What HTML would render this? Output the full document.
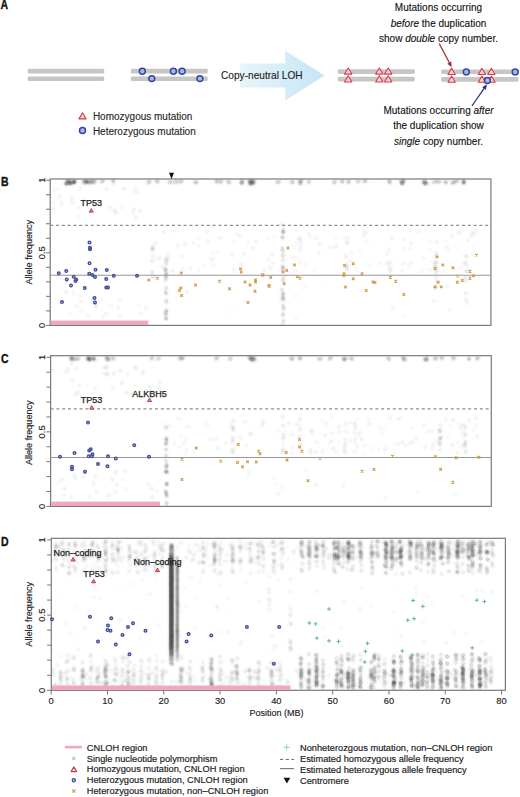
<!DOCTYPE html>
<html><head><meta charset="utf-8"><style>
html,body{margin:0;padding:0;background:#fff;width:520px;height:797px;overflow:hidden;}
svg{display:block;font-family:"Liberation Sans", sans-serif;}
circle[class]{r:1.35px;fill:none;stroke:#444;stroke-width:1px}
.s1{stroke-opacity:0.025}.s2{stroke-opacity:0.050}.s3{stroke-opacity:0.075}.s4{stroke-opacity:0.100}.s5{stroke-opacity:0.125}.s6{stroke-opacity:0.150}.s7{stroke-opacity:0.175}.s8{stroke-opacity:0.200}.s9{stroke-opacity:0.225}.s10{stroke-opacity:0.250}.s11{stroke-opacity:0.275}.s12{stroke-opacity:0.300}.s13{stroke-opacity:0.325}.s14{stroke-opacity:0.350}.s15{stroke-opacity:0.375}.s16{stroke-opacity:0.400}.s17{stroke-opacity:0.425}.s18{stroke-opacity:0.450}.s19{stroke-opacity:0.475}.s20{stroke-opacity:0.500}
</style></head><body>
<svg width="520" height="797" viewBox="0 0 520 797">
<rect width="520" height="797" fill="#fff"/>
<defs><linearGradient id="cg1" x1="0" x2="0" y1="0" y2="1"><stop offset="0" stop-color="#666" stop-opacity="0.3"/><stop offset="0.08" stop-color="#555" stop-opacity="0.55"/><stop offset="0.13" stop-color="#3c3c3c" stop-opacity="0.92"/><stop offset="0.86" stop-color="#404040" stop-opacity="0.9"/><stop offset="1" stop-color="#666" stop-opacity="0.2"/></linearGradient><linearGradient id="cg2" x1="0" x2="0" y1="0" y2="1"><stop offset="0" stop-color="#707070" stop-opacity="0.15"/><stop offset="0.1" stop-color="#707070" stop-opacity="0.72"/><stop offset="0.85" stop-color="#707070" stop-opacity="0.72"/><stop offset="1" stop-color="#707070" stop-opacity="0.15"/></linearGradient></defs>
<g filter="url(#bl)"><circle cx="66.9" cy="183.5" r="1.35" class="s8"/>
<circle cx="67.1" cy="181.8" r="1.35" class="s7"/>
<circle cx="66.5" cy="180.9" r="1.35" class="s9"/>
<circle cx="66.8" cy="182.5" r="1.35" class="s7"/>
<circle cx="66.1" cy="183.9" r="1.35" class="s6"/>
<circle cx="66.7" cy="184.0" r="1.35" class="s9"/>
<circle cx="66.4" cy="183.1" r="1.35" class="s7"/>
<circle cx="67.0" cy="181.7" r="1.35" class="s6"/>
<circle cx="65.6" cy="184.0" r="1.35" class="s11"/>
<circle cx="69.2" cy="180.4" r="1.35" class="s13"/>
<circle cx="68.2" cy="181.1" r="1.35" class="s6"/>
<circle cx="68.8" cy="181.9" r="1.35" class="s12"/>
<circle cx="68.6" cy="181.3" r="1.35" class="s10"/>
<circle cx="69.2" cy="183.0" r="1.35" class="s12"/>
<circle cx="70.3" cy="183.6" r="1.35" class="s7"/>
<circle cx="69.3" cy="183.4" r="1.35" class="s10"/>
<circle cx="70.5" cy="182.3" r="1.35" class="s13"/>
<circle cx="71.2" cy="180.6" r="1.35" class="s7"/>
<circle cx="71.9" cy="181.0" r="1.35" class="s7"/>
<circle cx="69.8" cy="182.4" r="1.35" class="s7"/>
<circle cx="69.9" cy="183.0" r="1.35" class="s6"/>
<circle cx="70.3" cy="184.1" r="1.35" class="s12"/>
<circle cx="73.9" cy="181.8" r="1.35" class="s11"/>
<circle cx="71.8" cy="183.2" r="1.35" class="s9"/>
<circle cx="74.8" cy="181.6" r="1.35" class="s10"/>
<circle cx="74.0" cy="182.0" r="1.35" class="s13"/>
<circle cx="74.0" cy="183.0" r="1.35" class="s10"/>
<circle cx="75.1" cy="180.7" r="1.35" class="s7"/>
<circle cx="74.2" cy="181.0" r="1.35" class="s8"/>
<circle cx="73.4" cy="182.4" r="1.35" class="s10"/>
<circle cx="73.6" cy="182.2" r="1.35" class="s7"/>
<circle cx="73.5" cy="182.6" r="1.35" class="s12"/>
<circle cx="74.5" cy="181.9" r="1.35" class="s11"/>
<circle cx="84.7" cy="183.5" r="1.35" class="s7"/>
<circle cx="84.1" cy="180.5" r="1.35" class="s6"/>
<circle cx="86.1" cy="181.7" r="1.35" class="s5"/>
<circle cx="83.5" cy="181.2" r="1.35" class="s7"/>
<circle cx="82.9" cy="182.6" r="1.35" class="s6"/>
<circle cx="85.0" cy="181.0" r="1.35" class="s8"/>
<circle cx="84.5" cy="181.0" r="1.35" class="s5"/>
<circle cx="84.7" cy="181.3" r="1.35" class="s7"/>
<circle cx="86.4" cy="182.6" r="1.35" class="s8"/>
<circle cx="87.2" cy="181.8" r="1.35" class="s7"/>
<circle cx="86.3" cy="182.1" r="1.35" class="s8"/>
<circle cx="86.7" cy="181.6" r="1.35" class="s8"/>
<circle cx="86.7" cy="180.5" r="1.35" class="s9"/>
<circle cx="86.6" cy="181.8" r="1.35" class="s6"/>
<circle cx="86.1" cy="182.8" r="1.35" class="s7"/>
<circle cx="87.0" cy="181.5" r="1.35" class="s10"/>
<circle cx="90.2" cy="182.6" r="1.35" class="s8"/>
<circle cx="90.2" cy="182.3" r="1.35" class="s6"/>
<circle cx="89.9" cy="181.7" r="1.35" class="s5"/>
<circle cx="88.7" cy="182.7" r="1.35" class="s9"/>
<circle cx="91.7" cy="180.6" r="1.35" class="s6"/>
<circle cx="90.1" cy="181.0" r="1.35" class="s5"/>
<circle cx="89.7" cy="183.0" r="1.35" class="s6"/>
<circle cx="89.9" cy="180.8" r="1.35" class="s7"/>
<circle cx="94.1" cy="182.9" r="1.35" class="s6"/>
<circle cx="93.9" cy="180.7" r="1.35" class="s5"/>
<circle cx="94.3" cy="181.1" r="1.35" class="s8"/>
<circle cx="92.3" cy="181.3" r="1.35" class="s9"/>
<circle cx="96.1" cy="180.7" r="1.35" class="s7"/>
<circle cx="92.6" cy="181.7" r="1.35" class="s7"/>
<circle cx="93.6" cy="182.9" r="1.35" class="s5"/>
<circle cx="92.7" cy="182.9" r="1.35" class="s5"/>
<circle cx="102.7" cy="181.5" r="1.35" class="s3"/>
<circle cx="101.9" cy="181.4" r="1.35" class="s6"/>
<circle cx="101.3" cy="182.2" r="1.35" class="s3"/>
<circle cx="102.7" cy="181.2" r="1.35" class="s6"/>
<circle cx="103.1" cy="180.7" r="1.35" class="s5"/>
<circle cx="113.5" cy="183.0" r="1.35" class="s4"/>
<circle cx="113.2" cy="180.9" r="1.35" class="s7"/>
<circle cx="112.7" cy="180.7" r="1.35" class="s5"/>
<circle cx="113.7" cy="180.6" r="1.35" class="s4"/>
<circle cx="113.3" cy="180.8" r="1.35" class="s6"/>
<circle cx="149.3" cy="181.1" r="1.35" class="s7"/>
<circle cx="150.0" cy="182.8" r="1.35" class="s5"/>
<circle cx="147.6" cy="182.9" r="1.35" class="s6"/>
<circle cx="148.6" cy="182.7" r="1.35" class="s3"/>
<circle cx="149.1" cy="180.9" r="1.35" class="s6"/>
<circle cx="157.1" cy="180.7" r="1.35" class="s4"/>
<circle cx="155.7" cy="181.0" r="1.35" class="s7"/>
<circle cx="157.1" cy="182.3" r="1.35" class="s6"/>
<circle cx="157.9" cy="181.9" r="1.35" class="s6"/>
<circle cx="158.5" cy="180.7" r="1.35" class="s3"/>
<circle cx="169.1" cy="182.9" r="1.35" class="s7"/>
<circle cx="170.1" cy="182.2" r="1.35" class="s5"/>
<circle cx="171.5" cy="180.7" r="1.35" class="s4"/>
<circle cx="170.4" cy="180.9" r="1.35" class="s6"/>
<circle cx="172.0" cy="183.0" r="1.35" class="s5"/>
<circle cx="174.7" cy="182.6" r="1.35" class="s6"/>
<circle cx="175.4" cy="181.8" r="1.35" class="s6"/>
<circle cx="178.3" cy="182.8" r="1.35" class="s6"/>
<circle cx="176.4" cy="180.9" r="1.35" class="s6"/>
<circle cx="177.0" cy="181.0" r="1.35" class="s5"/>
<circle cx="181.7" cy="181.1" r="1.35" class="s4"/>
<circle cx="181.7" cy="181.9" r="1.35" class="s3"/>
<circle cx="180.8" cy="181.9" r="1.35" class="s6"/>
<circle cx="181.7" cy="180.7" r="1.35" class="s6"/>
<circle cx="180.6" cy="181.2" r="1.35" class="s4"/>
<circle cx="195.6" cy="182.2" r="1.35" class="s5"/>
<circle cx="196.4" cy="182.1" r="1.35" class="s6"/>
<circle cx="195.9" cy="183.1" r="1.35" class="s5"/>
<circle cx="194.2" cy="181.9" r="1.35" class="s6"/>
<circle cx="196.9" cy="182.9" r="1.35" class="s4"/>
<circle cx="216.7" cy="181.5" r="1.35" class="s6"/>
<circle cx="216.8" cy="181.1" r="1.35" class="s4"/>
<circle cx="215.1" cy="181.5" r="1.35" class="s5"/>
<circle cx="217.8" cy="182.1" r="1.35" class="s6"/>
<circle cx="217.5" cy="181.0" r="1.35" class="s6"/>
<circle cx="221.5" cy="180.4" r="1.35" class="s4"/>
<circle cx="220.9" cy="182.2" r="1.35" class="s7"/>
<circle cx="220.8" cy="182.1" r="1.35" class="s4"/>
<circle cx="222.1" cy="180.5" r="1.35" class="s4"/>
<circle cx="220.6" cy="181.3" r="1.35" class="s5"/>
<circle cx="228.3" cy="180.8" r="1.35" class="s6"/>
<circle cx="227.9" cy="181.9" r="1.35" class="s7"/>
<circle cx="230.1" cy="182.6" r="1.35" class="s4"/>
<circle cx="228.9" cy="182.4" r="1.35" class="s4"/>
<circle cx="229.0" cy="183.0" r="1.35" class="s4"/>
<circle cx="241.1" cy="183.0" r="1.35" class="s8"/>
<circle cx="242.2" cy="183.2" r="1.35" class="s6"/>
<circle cx="242.8" cy="180.5" r="1.35" class="s8"/>
<circle cx="242.7" cy="182.6" r="1.35" class="s9"/>
<circle cx="242.4" cy="180.6" r="1.35" class="s8"/>
<circle cx="241.8" cy="180.4" r="1.35" class="s6"/>
<circle cx="241.1" cy="182.4" r="1.35" class="s10"/>
<circle cx="241.5" cy="183.5" r="1.35" class="s6"/>
<circle cx="249.9" cy="180.8" r="1.35" class="s9"/>
<circle cx="250.2" cy="182.8" r="1.35" class="s7"/>
<circle cx="251.2" cy="182.9" r="1.35" class="s9"/>
<circle cx="250.9" cy="180.9" r="1.35" class="s7"/>
<circle cx="249.8" cy="183.8" r="1.35" class="s6"/>
<circle cx="251.9" cy="183.9" r="1.35" class="s12"/>
<circle cx="250.2" cy="184.0" r="1.35" class="s12"/>
<circle cx="249.3" cy="180.9" r="1.35" class="s6"/>
<circle cx="249.1" cy="180.5" r="1.35" class="s13"/>
<circle cx="250.9" cy="182.9" r="1.35" class="s9"/>
<circle cx="249.5" cy="183.2" r="1.35" class="s11"/>
<circle cx="253.0" cy="180.5" r="1.35" class="s12"/>
<circle cx="251.6" cy="181.7" r="1.35" class="s7"/>
<circle cx="254.8" cy="181.1" r="1.35" class="s8"/>
<circle cx="253.5" cy="182.1" r="1.35" class="s10"/>
<circle cx="253.3" cy="182.5" r="1.35" class="s7"/>
<circle cx="253.6" cy="183.7" r="1.35" class="s7"/>
<circle cx="253.1" cy="182.9" r="1.35" class="s10"/>
<circle cx="251.1" cy="181.3" r="1.35" class="s11"/>
<circle cx="251.6" cy="182.3" r="1.35" class="s8"/>
<circle cx="252.5" cy="180.8" r="1.35" class="s12"/>
<circle cx="253.4" cy="182.8" r="1.35" class="s7"/>
<circle cx="278.7" cy="182.2" r="1.35" class="s6"/>
<circle cx="277.9" cy="182.6" r="1.35" class="s5"/>
<circle cx="280.0" cy="181.6" r="1.35" class="s4"/>
<circle cx="278.1" cy="181.1" r="1.35" class="s4"/>
<circle cx="276.7" cy="182.4" r="1.35" class="s6"/>
<circle cx="292.1" cy="181.6" r="1.35" class="s4"/>
<circle cx="292.8" cy="182.2" r="1.35" class="s5"/>
<circle cx="290.9" cy="182.5" r="1.35" class="s6"/>
<circle cx="292.2" cy="181.2" r="1.35" class="s4"/>
<circle cx="293.3" cy="182.8" r="1.35" class="s6"/>
<circle cx="300.0" cy="182.0" r="1.35" class="s5"/>
<circle cx="300.1" cy="181.9" r="1.35" class="s8"/>
<circle cx="300.1" cy="183.6" r="1.35" class="s10"/>
<circle cx="301.8" cy="180.6" r="1.35" class="s10"/>
<circle cx="301.3" cy="183.0" r="1.35" class="s6"/>
<circle cx="299.0" cy="180.8" r="1.35" class="s8"/>
<circle cx="301.0" cy="180.4" r="1.35" class="s10"/>
<circle cx="300.4" cy="183.3" r="1.35" class="s6"/>
<circle cx="309.4" cy="182.7" r="1.35" class="s3"/>
<circle cx="308.3" cy="182.0" r="1.35" class="s4"/>
<circle cx="308.9" cy="182.1" r="1.35" class="s4"/>
<circle cx="308.8" cy="181.6" r="1.35" class="s3"/>
<circle cx="308.6" cy="181.3" r="1.35" class="s5"/>
<circle cx="335.0" cy="182.2" r="1.35" class="s6"/>
<circle cx="332.7" cy="181.5" r="1.35" class="s4"/>
<circle cx="334.3" cy="182.3" r="1.35" class="s5"/>
<circle cx="335.5" cy="180.4" r="1.35" class="s5"/>
<circle cx="334.2" cy="183.0" r="1.35" class="s5"/>
<circle cx="342.7" cy="182.0" r="1.35" class="s4"/>
<circle cx="341.4" cy="180.9" r="1.35" class="s4"/>
<circle cx="341.6" cy="181.9" r="1.35" class="s6"/>
<circle cx="342.8" cy="181.0" r="1.35" class="s4"/>
<circle cx="342.8" cy="181.4" r="1.35" class="s7"/>
<circle cx="348.6" cy="180.9" r="1.35" class="s5"/>
<circle cx="349.8" cy="181.5" r="1.35" class="s5"/>
<circle cx="348.6" cy="181.5" r="1.35" class="s4"/>
<circle cx="348.0" cy="182.3" r="1.35" class="s7"/>
<circle cx="348.8" cy="182.8" r="1.35" class="s5"/>
<circle cx="359.4" cy="181.6" r="1.35" class="s5"/>
<circle cx="357.8" cy="182.2" r="1.35" class="s6"/>
<circle cx="356.6" cy="180.8" r="1.35" class="s3"/>
<circle cx="357.6" cy="180.8" r="1.35" class="s4"/>
<circle cx="358.9" cy="180.5" r="1.35" class="s4"/>
<circle cx="364.9" cy="181.5" r="1.35" class="s7"/>
<circle cx="364.3" cy="181.1" r="1.35" class="s4"/>
<circle cx="366.1" cy="180.6" r="1.35" class="s6"/>
<circle cx="363.8" cy="181.9" r="1.35" class="s4"/>
<circle cx="365.5" cy="181.1" r="1.35" class="s4"/>
<circle cx="390.2" cy="183.0" r="1.35" class="s6"/>
<circle cx="389.1" cy="182.3" r="1.35" class="s5"/>
<circle cx="389.7" cy="180.7" r="1.35" class="s7"/>
<circle cx="389.1" cy="181.6" r="1.35" class="s7"/>
<circle cx="389.9" cy="181.6" r="1.35" class="s6"/>
<circle cx="401.0" cy="181.3" r="1.35" class="s8"/>
<circle cx="401.5" cy="183.9" r="1.35" class="s6"/>
<circle cx="404.0" cy="180.5" r="1.35" class="s8"/>
<circle cx="401.9" cy="183.2" r="1.35" class="s13"/>
<circle cx="401.3" cy="182.9" r="1.35" class="s11"/>
<circle cx="403.1" cy="182.7" r="1.35" class="s7"/>
<circle cx="403.3" cy="180.5" r="1.35" class="s11"/>
<circle cx="403.7" cy="181.1" r="1.35" class="s12"/>
<circle cx="402.2" cy="181.6" r="1.35" class="s8"/>
<circle cx="403.0" cy="183.8" r="1.35" class="s12"/>
<circle cx="400.7" cy="180.4" r="1.35" class="s7"/>
<circle cx="424.8" cy="183.5" r="1.35" class="s11"/>
<circle cx="425.0" cy="183.2" r="1.35" class="s13"/>
<circle cx="424.7" cy="182.1" r="1.35" class="s7"/>
<circle cx="422.9" cy="182.3" r="1.35" class="s13"/>
<circle cx="424.7" cy="180.8" r="1.35" class="s7"/>
<circle cx="424.8" cy="180.9" r="1.35" class="s11"/>
<circle cx="424.9" cy="184.0" r="1.35" class="s8"/>
<circle cx="426.3" cy="182.8" r="1.35" class="s8"/>
<circle cx="424.6" cy="182.0" r="1.35" class="s7"/>
<circle cx="426.1" cy="182.8" r="1.35" class="s10"/>
<circle cx="427.5" cy="184.1" r="1.35" class="s8"/>
<circle cx="436.3" cy="181.3" r="1.35" class="s6"/>
<circle cx="433.3" cy="182.5" r="1.35" class="s6"/>
<circle cx="434.5" cy="181.1" r="1.35" class="s5"/>
<circle cx="435.4" cy="182.7" r="1.35" class="s6"/>
<circle cx="432.7" cy="182.2" r="1.35" class="s3"/>
<circle cx="437.5" cy="181.1" r="1.35" class="s3"/>
<circle cx="439.7" cy="182.0" r="1.35" class="s6"/>
<circle cx="440.1" cy="181.6" r="1.35" class="s3"/>
<circle cx="438.5" cy="182.2" r="1.35" class="s7"/>
<circle cx="437.2" cy="180.6" r="1.35" class="s4"/>
<circle cx="445.2" cy="182.0" r="1.35" class="s6"/>
<circle cx="444.4" cy="182.0" r="1.35" class="s5"/>
<circle cx="447.0" cy="180.9" r="1.35" class="s6"/>
<circle cx="446.0" cy="182.8" r="1.35" class="s7"/>
<circle cx="446.1" cy="183.0" r="1.35" class="s4"/>
<circle cx="453.6" cy="180.8" r="1.35" class="s7"/>
<circle cx="452.1" cy="183.0" r="1.35" class="s7"/>
<circle cx="452.3" cy="182.9" r="1.35" class="s6"/>
<circle cx="453.3" cy="182.9" r="1.35" class="s6"/>
<circle cx="454.3" cy="182.6" r="1.35" class="s7"/>
<circle cx="456.8" cy="181.6" r="1.35" class="s7"/>
<circle cx="454.8" cy="181.9" r="1.35" class="s6"/>
<circle cx="458.3" cy="180.4" r="1.35" class="s5"/>
<circle cx="457.0" cy="181.2" r="1.35" class="s4"/>
<circle cx="457.2" cy="180.7" r="1.35" class="s4"/>
<circle cx="464.2" cy="182.6" r="1.35" class="s10"/>
<circle cx="463.3" cy="180.4" r="1.35" class="s8"/>
<circle cx="464.2" cy="181.4" r="1.35" class="s10"/>
<circle cx="464.3" cy="183.2" r="1.35" class="s5"/>
<circle cx="463.9" cy="181.5" r="1.35" class="s10"/>
<circle cx="463.4" cy="183.2" r="1.35" class="s5"/>
<circle cx="462.8" cy="182.6" r="1.35" class="s9"/>
<circle cx="463.4" cy="182.2" r="1.35" class="s10"/>
<circle cx="138.2" cy="191.2" r="1.35" class="s2"/>
<circle cx="71.8" cy="202.3" r="1.35" class="s5"/>
<circle cx="134.2" cy="209.4" r="1.35" class="s4"/>
<circle cx="110.1" cy="206.9" r="1.35" class="s3"/>
<circle cx="116.0" cy="212.8" r="1.35" class="s5"/>
<circle cx="121.3" cy="207.6" r="1.35" class="s2"/>
<circle cx="84.2" cy="200.6" r="1.35" class="s3"/>
<circle cx="71.8" cy="198.0" r="1.35" class="s5"/>
<circle cx="78.4" cy="215.9" r="1.35" class="s2"/>
<circle cx="93.1" cy="209.1" r="1.35" class="s5"/>
<circle cx="54.1" cy="189.7" r="1.35" class="s2"/>
<circle cx="106.7" cy="189.0" r="1.35" class="s3"/>
<circle cx="79.8" cy="189.3" r="1.35" class="s3"/>
<circle cx="94.4" cy="204.5" r="1.35" class="s3"/>
<circle cx="59.5" cy="196.5" r="1.35" class="s4"/>
<circle cx="53.3" cy="202.7" r="1.35" class="s2"/>
<circle cx="135.1" cy="192.3" r="1.35" class="s4"/>
<circle cx="61.7" cy="203.5" r="1.35" class="s5"/>
<circle cx="139.9" cy="211.3" r="1.35" class="s5"/>
<circle cx="53.7" cy="211.8" r="1.35" class="s2"/>
<circle cx="135.7" cy="217.9" r="1.35" class="s5"/>
<circle cx="110.6" cy="209.5" r="1.35" class="s2"/>
<circle cx="135.0" cy="188.8" r="1.35" class="s3"/>
<circle cx="78.7" cy="208.0" r="1.35" class="s3"/>
<circle cx="89.7" cy="202.1" r="1.35" class="s5"/>
<circle cx="132.8" cy="213.0" r="1.35" class="s3"/>
<circle cx="58.0" cy="189.0" r="1.35" class="s2"/>
<circle cx="123.8" cy="188.7" r="1.35" class="s5"/>
<circle cx="53.2" cy="208.0" r="1.35" class="s3"/>
<circle cx="114.3" cy="210.3" r="1.35" class="s4"/>
<circle cx="174.4" cy="230.9" r="1.35" class="s3"/>
<circle cx="449.3" cy="249.5" r="1.35" class="s2"/>
<circle cx="305.3" cy="264.5" r="1.35" class="s2"/>
<circle cx="190.7" cy="268.6" r="1.35" class="s3"/>
<circle cx="296.5" cy="243.1" r="1.35" class="s2"/>
<circle cx="434.4" cy="263.7" r="1.35" class="s2"/>
<circle cx="389.2" cy="268.6" r="1.35" class="s3"/>
<circle cx="473.7" cy="233.8" r="1.35" class="s4"/>
<circle cx="430.8" cy="240.6" r="1.35" class="s2"/>
<circle cx="239.7" cy="235.7" r="1.35" class="s4"/>
<circle cx="380.5" cy="263.1" r="1.35" class="s3"/>
<circle cx="236.3" cy="233.7" r="1.35" class="s2"/>
<circle cx="410.1" cy="230.8" r="1.35" class="s3"/>
<circle cx="256.1" cy="242.1" r="1.35" class="s2"/>
<circle cx="345.2" cy="237.1" r="1.35" class="s2"/>
<circle cx="430.4" cy="261.7" r="1.35" class="s2"/>
<circle cx="232.1" cy="254.6" r="1.35" class="s4"/>
<circle cx="410.1" cy="248.6" r="1.35" class="s3"/>
<circle cx="268.6" cy="259.8" r="1.35" class="s3"/>
<circle cx="159.0" cy="258.3" r="1.35" class="s4"/>
<circle cx="310.0" cy="236.7" r="1.35" class="s2"/>
<circle cx="213.5" cy="265.3" r="1.35" class="s3"/>
<circle cx="248.1" cy="242.7" r="1.35" class="s2"/>
<circle cx="295.3" cy="271.0" r="1.35" class="s3"/>
<circle cx="458.7" cy="233.1" r="1.35" class="s4"/>
<circle cx="451.2" cy="264.1" r="1.35" class="s2"/>
<circle cx="436.7" cy="271.1" r="1.35" class="s3"/>
<circle cx="319.8" cy="244.4" r="1.35" class="s4"/>
<circle cx="347.5" cy="243.6" r="1.35" class="s2"/>
<circle cx="155.7" cy="259.5" r="1.35" class="s2"/>
<circle cx="193.6" cy="242.9" r="1.35" class="s3"/>
<circle cx="429.5" cy="249.9" r="1.35" class="s2"/>
<circle cx="423.4" cy="258.3" r="1.35" class="s3"/>
<circle cx="446.5" cy="247.0" r="1.35" class="s3"/>
<circle cx="168.1" cy="259.2" r="1.35" class="s3"/>
<circle cx="462.7" cy="230.3" r="1.35" class="s3"/>
<circle cx="294.3" cy="247.4" r="1.35" class="s2"/>
<circle cx="418.8" cy="231.8" r="1.35" class="s3"/>
<circle cx="253.1" cy="247.8" r="1.35" class="s4"/>
<circle cx="217.4" cy="251.5" r="1.35" class="s2"/>
<circle cx="351.3" cy="252.9" r="1.35" class="s3"/>
<circle cx="181.5" cy="256.6" r="1.35" class="s3"/>
<circle cx="172.4" cy="270.7" r="1.35" class="s4"/>
<circle cx="411.7" cy="263.0" r="1.35" class="s3"/>
<circle cx="452.1" cy="236.5" r="1.35" class="s3"/>
<circle cx="472.3" cy="232.6" r="1.35" class="s3"/>
<circle cx="471.2" cy="236.0" r="1.35" class="s3"/>
<circle cx="446.3" cy="241.1" r="1.35" class="s2"/>
<circle cx="386.8" cy="263.4" r="1.35" class="s4"/>
<circle cx="365.3" cy="232.3" r="1.35" class="s4"/>
<circle cx="244.4" cy="253.7" r="1.35" class="s3"/>
<circle cx="472.8" cy="253.2" r="1.35" class="s2"/>
<circle cx="318.9" cy="253.3" r="1.35" class="s3"/>
<circle cx="213.0" cy="253.2" r="1.35" class="s2"/>
<circle cx="475.1" cy="231.0" r="1.35" class="s3"/>
<circle cx="207.6" cy="241.5" r="1.35" class="s3"/>
<circle cx="233.5" cy="241.0" r="1.35" class="s2"/>
<circle cx="314.7" cy="270.2" r="1.35" class="s2"/>
<circle cx="207.0" cy="231.8" r="1.35" class="s4"/>
<circle cx="408.4" cy="264.9" r="1.35" class="s2"/>
<circle cx="295.7" cy="258.2" r="1.35" class="s3"/>
<circle cx="391.7" cy="238.2" r="1.35" class="s4"/>
<circle cx="345.3" cy="255.7" r="1.35" class="s3"/>
<circle cx="296.2" cy="230.5" r="1.35" class="s2"/>
<circle cx="308.8" cy="233.4" r="1.35" class="s3"/>
<circle cx="212.7" cy="258.8" r="1.35" class="s3"/>
<circle cx="367.0" cy="241.0" r="1.35" class="s2"/>
<circle cx="369.2" cy="264.7" r="1.35" class="s2"/>
<circle cx="162.1" cy="266.5" r="1.35" class="s3"/>
<circle cx="403.1" cy="263.2" r="1.35" class="s3"/>
<circle cx="463.8" cy="263.9" r="1.35" class="s3"/>
<circle cx="460.4" cy="268.1" r="1.35" class="s3"/>
<circle cx="168.6" cy="254.8" r="1.35" class="s3"/>
<circle cx="155.6" cy="243.2" r="1.35" class="s4"/>
<circle cx="356.2" cy="269.1" r="1.35" class="s3"/>
<circle cx="211.3" cy="260.0" r="1.35" class="s2"/>
<circle cx="436.9" cy="242.4" r="1.35" class="s4"/>
<circle cx="165.7" cy="261.2" r="1.35" class="s2"/>
<circle cx="434.8" cy="264.3" r="1.35" class="s3"/>
<circle cx="335.8" cy="239.2" r="1.35" class="s2"/>
<circle cx="199.0" cy="246.5" r="1.35" class="s2"/>
<circle cx="359.3" cy="250.7" r="1.35" class="s2"/>
<circle cx="264.3" cy="270.0" r="1.35" class="s4"/>
<circle cx="473.1" cy="245.2" r="1.35" class="s2"/>
<circle cx="203.7" cy="266.1" r="1.35" class="s2"/>
<circle cx="198.5" cy="270.1" r="1.35" class="s2"/>
<circle cx="334.9" cy="247.4" r="1.35" class="s2"/>
<circle cx="272.8" cy="263.1" r="1.35" class="s3"/>
<circle cx="433.1" cy="230.7" r="1.35" class="s2"/>
<circle cx="292.6" cy="257.0" r="1.35" class="s3"/>
<circle cx="241.1" cy="264.2" r="1.35" class="s4"/>
<circle cx="364.2" cy="235.6" r="1.35" class="s3"/>
<circle cx="350.5" cy="260.9" r="1.35" class="s3"/>
<circle cx="335.9" cy="246.1" r="1.35" class="s4"/>
<circle cx="455.4" cy="270.0" r="1.35" class="s2"/>
<circle cx="219.8" cy="238.1" r="1.35" class="s3"/>
<circle cx="468.2" cy="240.0" r="1.35" class="s3"/>
<circle cx="329.9" cy="247.5" r="1.35" class="s3"/>
<circle cx="272.4" cy="254.6" r="1.35" class="s4"/>
<circle cx="402.2" cy="270.4" r="1.35" class="s3"/>
<circle cx="199.3" cy="238.5" r="1.35" class="s2"/>
<circle cx="404.1" cy="239.4" r="1.35" class="s3"/>
<circle cx="456.0" cy="247.7" r="1.35" class="s2"/>
<circle cx="442.9" cy="271.1" r="1.35" class="s2"/>
<circle cx="421.5" cy="270.9" r="1.35" class="s2"/>
<circle cx="268.2" cy="238.1" r="1.35" class="s2"/>
<circle cx="403.9" cy="248.6" r="1.35" class="s2"/>
<circle cx="270.3" cy="268.1" r="1.35" class="s4"/>
<circle cx="255.5" cy="241.2" r="1.35" class="s2"/>
<circle cx="408.7" cy="268.2" r="1.35" class="s2"/>
<circle cx="184.6" cy="244.0" r="1.35" class="s4"/>
<circle cx="429.6" cy="269.9" r="1.35" class="s3"/>
<circle cx="164.3" cy="231.9" r="1.35" class="s4"/>
<circle cx="273.7" cy="237.2" r="1.35" class="s2"/>
<circle cx="183.0" cy="268.5" r="1.35" class="s3"/>
<circle cx="316.6" cy="238.4" r="1.35" class="s3"/>
<circle cx="233.7" cy="269.4" r="1.35" class="s4"/>
<circle cx="387.1" cy="253.7" r="1.35" class="s3"/>
<circle cx="178.0" cy="245.2" r="1.35" class="s4"/>
<circle cx="411.1" cy="243.3" r="1.35" class="s3"/>
<circle cx="66.2" cy="292.0" r="1.35" class="s5"/>
<circle cx="70.5" cy="314.4" r="1.35" class="s2"/>
<circle cx="96.2" cy="307.2" r="1.35" class="s3"/>
<circle cx="79.7" cy="295.9" r="1.35" class="s2"/>
<circle cx="88.0" cy="315.5" r="1.35" class="s3"/>
<circle cx="94.1" cy="303.0" r="1.35" class="s3"/>
<circle cx="73.4" cy="293.3" r="1.35" class="s3"/>
<circle cx="146.0" cy="308.2" r="1.35" class="s3"/>
<circle cx="81.0" cy="312.1" r="1.35" class="s2"/>
<circle cx="111.3" cy="306.0" r="1.35" class="s2"/>
<circle cx="100.6" cy="301.5" r="1.35" class="s2"/>
<circle cx="95.7" cy="297.7" r="1.35" class="s2"/>
<circle cx="118.2" cy="307.5" r="1.35" class="s3"/>
<circle cx="119.9" cy="316.5" r="1.35" class="s3"/>
<circle cx="103.0" cy="316.9" r="1.35" class="s3"/>
<circle cx="95.9" cy="305.6" r="1.35" class="s3"/>
<circle cx="106.2" cy="314.1" r="1.35" class="s4"/>
<circle cx="92.2" cy="299.9" r="1.35" class="s4"/>
<circle cx="119.8" cy="299.7" r="1.35" class="s3"/>
<circle cx="76.5" cy="306.7" r="1.35" class="s3"/>
<circle cx="59.7" cy="299.4" r="1.35" class="s2"/>
<circle cx="81.5" cy="301.2" r="1.35" class="s3"/>
<circle cx="141.3" cy="313.4" r="1.35" class="s3"/>
<circle cx="139.0" cy="305.5" r="1.35" class="s2"/>
<circle cx="304.9" cy="287.0" r="1.35" class="s2"/>
<circle cx="467.1" cy="303.1" r="1.35" class="s3"/>
<circle cx="295.9" cy="296.0" r="1.35" class="s2"/>
<circle cx="231.7" cy="311.8" r="1.35" class="s2"/>
<circle cx="434.1" cy="301.3" r="1.35" class="s3"/>
<circle cx="447.2" cy="286.7" r="1.35" class="s3"/>
<circle cx="174.7" cy="296.7" r="1.35" class="s1"/>
<circle cx="358.8" cy="288.5" r="1.35" class="s1"/>
<circle cx="392.9" cy="308.4" r="1.35" class="s3"/>
<circle cx="449.9" cy="309.7" r="1.35" class="s3"/>
<circle cx="245.2" cy="300.5" r="1.35" class="s2"/>
<circle cx="281.2" cy="300.6" r="1.35" class="s2"/>
<circle cx="320.8" cy="285.4" r="1.35" class="s1"/>
<circle cx="404.7" cy="315.2" r="1.35" class="s2"/>
<circle cx="187.0" cy="292.4" r="1.35" class="s3"/>
<circle cx="296.3" cy="319.3" r="1.35" class="s2"/>
<circle cx="152.8" cy="249.7" r="1.35" class="s6"/>
<circle cx="152.8" cy="276.9" r="1.35" class="s6"/>
<circle cx="152.5" cy="247.9" r="1.35" class="s4"/>
<circle cx="151.9" cy="272.6" r="1.35" class="s6"/>
<circle cx="152.1" cy="260.8" r="1.35" class="s6"/>
<circle cx="152.2" cy="249.4" r="1.35" class="s7"/>
<circle cx="152.9" cy="246.6" r="1.35" class="s7"/>
<circle cx="152.6" cy="255.8" r="1.35" class="s5"/>
<circle cx="152.9" cy="276.9" r="1.35" class="s4"/>
<circle cx="152.5" cy="272.0" r="1.35" class="s4"/>
<circle cx="166.6" cy="274.3" r="1.35" class="s10"/>
<circle cx="166.1" cy="261.2" r="1.35" class="s7"/>
<circle cx="165.8" cy="272.4" r="1.35" class="s7"/>
<circle cx="166.4" cy="264.1" r="1.35" class="s8"/>
<circle cx="166.5" cy="258.9" r="1.35" class="s9"/>
<circle cx="166.2" cy="277.3" r="1.35" class="s6"/>
<circle cx="166.5" cy="302.6" r="1.35" class="s7"/>
<circle cx="166.1" cy="293.5" r="1.35" class="s7"/>
<circle cx="165.3" cy="269.1" r="1.35" class="s9"/>
<circle cx="166.2" cy="314.8" r="1.35" class="s8"/>
<circle cx="166.0" cy="274.5" r="1.35" class="s11"/>
<circle cx="165.8" cy="312.5" r="1.35" class="s8"/>
<circle cx="165.7" cy="269.3" r="1.35" class="s8"/>
<circle cx="166.2" cy="310.7" r="1.35" class="s9"/>
<circle cx="166.3" cy="300.3" r="1.35" class="s9"/>
<circle cx="165.6" cy="270.6" r="1.35" class="s9"/>
<circle cx="165.8" cy="277.2" r="1.35" class="s12"/>
<circle cx="166.2" cy="318.6" r="1.35" class="s12"/>
<circle cx="165.7" cy="280.4" r="1.35" class="s8"/>
<circle cx="165.9" cy="318.6" r="1.35" class="s11"/>
<circle cx="166.1" cy="288.1" r="1.35" class="s10"/>
<circle cx="165.5" cy="313.9" r="1.35" class="s10"/>
<circle cx="166.5" cy="310.7" r="1.35" class="s10"/>
<circle cx="165.8" cy="292.2" r="1.35" class="s11"/>
<circle cx="282.3" cy="248.5" r="1.35" class="s13"/>
<circle cx="283.3" cy="297.4" r="1.35" class="s7"/>
<circle cx="282.9" cy="232.0" r="1.35" class="s7"/>
<circle cx="282.7" cy="266.6" r="1.35" class="s12"/>
<circle cx="283.0" cy="267.3" r="1.35" class="s7"/>
<circle cx="283.5" cy="293.6" r="1.35" class="s8"/>
<circle cx="283.7" cy="300.5" r="1.35" class="s6"/>
<circle cx="283.2" cy="268.6" r="1.35" class="s8"/>
<circle cx="282.8" cy="294.0" r="1.35" class="s6"/>
<circle cx="282.7" cy="315.5" r="1.35" class="s10"/>
<circle cx="282.4" cy="298.3" r="1.35" class="s8"/>
<circle cx="283.4" cy="231.3" r="1.35" class="s10"/>
<circle cx="282.3" cy="237.4" r="1.35" class="s12"/>
<circle cx="283.4" cy="308.9" r="1.35" class="s7"/>
<circle cx="283.0" cy="251.3" r="1.35" class="s9"/>
<circle cx="283.6" cy="276.9" r="1.35" class="s9"/>
<circle cx="283.2" cy="305.5" r="1.35" class="s11"/>
<circle cx="283.2" cy="232.4" r="1.35" class="s11"/>
<circle cx="283.4" cy="321.0" r="1.35" class="s10"/>
<circle cx="282.6" cy="270.2" r="1.35" class="s9"/>
<circle cx="282.5" cy="324.2" r="1.35" class="s7"/>
<circle cx="282.7" cy="255.5" r="1.35" class="s12"/>
<circle cx="282.9" cy="280.0" r="1.35" class="s6"/>
<circle cx="282.7" cy="237.5" r="1.35" class="s6"/>
<circle cx="283.1" cy="260.4" r="1.35" class="s8"/>
<circle cx="282.8" cy="293.8" r="1.35" class="s6"/>
<circle cx="283.2" cy="280.5" r="1.35" class="s8"/>
<circle cx="283.0" cy="229.8" r="1.35" class="s8"/>
<circle cx="282.9" cy="295.5" r="1.35" class="s6"/>
<circle cx="283.6" cy="308.0" r="1.35" class="s7"/>
<circle cx="282.7" cy="225.1" r="1.35" class="s7"/>
<circle cx="283.2" cy="298.4" r="1.35" class="s11"/>
<circle cx="283.3" cy="313.5" r="1.35" class="s8"/>
<circle cx="282.0" cy="289.7" r="1.35" class="s10"/>
<circle cx="436.1" cy="286.4" r="1.35" class="s5"/>
<circle cx="436.7" cy="281.3" r="1.35" class="s4"/>
<circle cx="436.2" cy="262.2" r="1.35" class="s5"/>
<circle cx="435.7" cy="274.5" r="1.35" class="s4"/>
<circle cx="436.3" cy="271.0" r="1.35" class="s6"/>
<circle cx="435.4" cy="266.0" r="1.35" class="s4"/>
<circle cx="436.3" cy="255.3" r="1.35" class="s6"/>
<circle cx="436.0" cy="277.6" r="1.35" class="s4"/>
<circle cx="436.2" cy="268.1" r="1.35" class="s5"/>
<circle cx="435.4" cy="288.0" r="1.35" class="s5"/>
<circle cx="436.3" cy="262.2" r="1.35" class="s6"/>
<circle cx="436.3" cy="267.5" r="1.35" class="s4"/>
<circle cx="436.1" cy="253.2" r="1.35" class="s5"/>
<circle cx="435.3" cy="287.4" r="1.35" class="s5"/>
<circle cx="299.8" cy="238.2" r="1.35" class="s3"/>
<circle cx="300.9" cy="242.7" r="1.35" class="s4"/>
<circle cx="299.3" cy="238.5" r="1.35" class="s3"/>
<circle cx="300.5" cy="245.8" r="1.35" class="s2"/>
<circle cx="300.3" cy="248.0" r="1.35" class="s3"/>
<circle cx="299.5" cy="251.2" r="1.35" class="s2"/>
<circle cx="299.9" cy="239.4" r="1.35" class="s4"/>
<circle cx="300.1" cy="262.6" r="1.35" class="s3"/>
<circle cx="347.8" cy="238.3" r="1.35" class="s3"/>
<circle cx="347.1" cy="264.9" r="1.35" class="s4"/>
<circle cx="346.4" cy="267.2" r="1.35" class="s4"/>
<circle cx="347.3" cy="267.3" r="1.35" class="s2"/>
<circle cx="346.4" cy="264.8" r="1.35" class="s3"/>
<circle cx="346.9" cy="257.4" r="1.35" class="s3"/>
<circle cx="346.9" cy="269.7" r="1.35" class="s3"/>
<circle cx="346.5" cy="242.5" r="1.35" class="s4"/>
<circle cx="346.8" cy="268.7" r="1.35" class="s3"/>
<circle cx="347.1" cy="241.7" r="1.35" class="s3"/>
<circle cx="390.0" cy="266.0" r="1.35" class="s2"/>
<circle cx="390.9" cy="262.4" r="1.35" class="s3"/>
<circle cx="389.4" cy="249.4" r="1.35" class="s3"/>
<circle cx="390.3" cy="269.8" r="1.35" class="s4"/>
<circle cx="390.3" cy="270.7" r="1.35" class="s4"/>
<circle cx="389.4" cy="263.9" r="1.35" class="s3"/>
<circle cx="465.7" cy="280.7" r="1.35" class="s5"/>
<circle cx="465.1" cy="262.9" r="1.35" class="s4"/>
<circle cx="465.4" cy="278.4" r="1.35" class="s3"/>
<circle cx="465.9" cy="299.4" r="1.35" class="s4"/>
<circle cx="466.6" cy="271.5" r="1.35" class="s6"/>
<circle cx="466.5" cy="256.4" r="1.35" class="s5"/>
<circle cx="465.7" cy="256.7" r="1.35" class="s4"/>
<circle cx="465.4" cy="277.7" r="1.35" class="s4"/>
<circle cx="466.5" cy="271.5" r="1.35" class="s6"/>
<circle cx="466.3" cy="265.5" r="1.35" class="s4"/>
<circle cx="465.9" cy="261.8" r="1.35" class="s3"/>
<circle cx="465.8" cy="293.2" r="1.35" class="s6"/>
<circle cx="72.1" cy="359.2" r="1.35" class="s5"/>
<circle cx="72.1" cy="357.3" r="1.35" class="s6"/>
<circle cx="71.6" cy="359.5" r="1.35" class="s5"/>
<circle cx="70.8" cy="359.1" r="1.35" class="s8"/>
<circle cx="71.1" cy="358.6" r="1.35" class="s6"/>
<circle cx="71.0" cy="358.1" r="1.35" class="s6"/>
<circle cx="72.0" cy="358.4" r="1.35" class="s9"/>
<circle cx="71.2" cy="357.4" r="1.35" class="s9"/>
<circle cx="75.8" cy="359.6" r="1.35" class="s5"/>
<circle cx="73.8" cy="359.2" r="1.35" class="s7"/>
<circle cx="73.5" cy="359.7" r="1.35" class="s6"/>
<circle cx="74.6" cy="358.5" r="1.35" class="s5"/>
<circle cx="74.1" cy="358.5" r="1.35" class="s5"/>
<circle cx="75.9" cy="358.5" r="1.35" class="s3"/>
<circle cx="79.2" cy="358.8" r="1.35" class="s6"/>
<circle cx="77.1" cy="359.3" r="1.35" class="s5"/>
<circle cx="77.8" cy="358.6" r="1.35" class="s6"/>
<circle cx="78.2" cy="358.6" r="1.35" class="s4"/>
<circle cx="89.1" cy="358.7" r="1.35" class="s10"/>
<circle cx="89.5" cy="358.4" r="1.35" class="s11"/>
<circle cx="88.4" cy="357.8" r="1.35" class="s10"/>
<circle cx="90.0" cy="357.9" r="1.35" class="s7"/>
<circle cx="87.9" cy="359.0" r="1.35" class="s7"/>
<circle cx="89.8" cy="359.2" r="1.35" class="s11"/>
<circle cx="89.3" cy="360.3" r="1.35" class="s8"/>
<circle cx="89.7" cy="359.2" r="1.35" class="s9"/>
<circle cx="88.3" cy="357.7" r="1.35" class="s11"/>
<circle cx="89.1" cy="359.6" r="1.35" class="s13"/>
<circle cx="87.3" cy="359.0" r="1.35" class="s13"/>
<circle cx="93.8" cy="357.6" r="1.35" class="s6"/>
<circle cx="93.9" cy="358.9" r="1.35" class="s9"/>
<circle cx="92.8" cy="357.8" r="1.35" class="s5"/>
<circle cx="95.2" cy="360.1" r="1.35" class="s6"/>
<circle cx="94.0" cy="358.7" r="1.35" class="s7"/>
<circle cx="91.9" cy="359.9" r="1.35" class="s8"/>
<circle cx="93.9" cy="358.6" r="1.35" class="s10"/>
<circle cx="93.0" cy="358.6" r="1.35" class="s8"/>
<circle cx="107.3" cy="357.9" r="1.35" class="s9"/>
<circle cx="106.8" cy="359.3" r="1.35" class="s9"/>
<circle cx="107.3" cy="360.0" r="1.35" class="s10"/>
<circle cx="109.6" cy="360.0" r="1.35" class="s9"/>
<circle cx="107.8" cy="357.1" r="1.35" class="s8"/>
<circle cx="107.7" cy="358.0" r="1.35" class="s5"/>
<circle cx="109.0" cy="359.0" r="1.35" class="s8"/>
<circle cx="106.0" cy="357.3" r="1.35" class="s9"/>
<circle cx="112.8" cy="357.1" r="1.35" class="s6"/>
<circle cx="113.9" cy="358.7" r="1.35" class="s4"/>
<circle cx="113.6" cy="359.1" r="1.35" class="s4"/>
<circle cx="113.7" cy="359.0" r="1.35" class="s5"/>
<circle cx="112.3" cy="358.0" r="1.35" class="s4"/>
<circle cx="152.1" cy="358.4" r="1.35" class="s5"/>
<circle cx="152.1" cy="357.9" r="1.35" class="s4"/>
<circle cx="150.2" cy="359.2" r="1.35" class="s4"/>
<circle cx="152.5" cy="358.7" r="1.35" class="s6"/>
<circle cx="152.1" cy="357.3" r="1.35" class="s4"/>
<circle cx="157.1" cy="359.2" r="1.35" class="s4"/>
<circle cx="158.2" cy="358.7" r="1.35" class="s4"/>
<circle cx="158.4" cy="357.2" r="1.35" class="s3"/>
<circle cx="158.6" cy="359.1" r="1.35" class="s3"/>
<circle cx="159.7" cy="358.5" r="1.35" class="s5"/>
<circle cx="179.6" cy="357.3" r="1.35" class="s4"/>
<circle cx="179.8" cy="359.4" r="1.35" class="s6"/>
<circle cx="181.4" cy="358.1" r="1.35" class="s4"/>
<circle cx="181.9" cy="358.2" r="1.35" class="s5"/>
<circle cx="179.7" cy="357.8" r="1.35" class="s7"/>
<circle cx="181.3" cy="358.1" r="1.35" class="s6"/>
<circle cx="182.1" cy="359.0" r="1.35" class="s6"/>
<circle cx="183.7" cy="357.3" r="1.35" class="s3"/>
<circle cx="182.5" cy="358.3" r="1.35" class="s7"/>
<circle cx="183.7" cy="357.9" r="1.35" class="s4"/>
<circle cx="216.2" cy="358.2" r="1.35" class="s5"/>
<circle cx="217.4" cy="357.4" r="1.35" class="s6"/>
<circle cx="215.9" cy="358.3" r="1.35" class="s4"/>
<circle cx="215.8" cy="359.1" r="1.35" class="s7"/>
<circle cx="218.2" cy="357.4" r="1.35" class="s4"/>
<circle cx="229.0" cy="359.0" r="1.35" class="s3"/>
<circle cx="229.8" cy="359.3" r="1.35" class="s3"/>
<circle cx="231.0" cy="357.8" r="1.35" class="s6"/>
<circle cx="230.9" cy="359.1" r="1.35" class="s5"/>
<circle cx="230.0" cy="359.1" r="1.35" class="s4"/>
<circle cx="250.9" cy="359.4" r="1.35" class="s11"/>
<circle cx="250.4" cy="357.3" r="1.35" class="s8"/>
<circle cx="250.0" cy="357.4" r="1.35" class="s9"/>
<circle cx="252.8" cy="360.8" r="1.35" class="s6"/>
<circle cx="251.4" cy="359.1" r="1.35" class="s9"/>
<circle cx="250.9" cy="359.6" r="1.35" class="s8"/>
<circle cx="249.0" cy="357.7" r="1.35" class="s12"/>
<circle cx="251.4" cy="357.5" r="1.35" class="s7"/>
<circle cx="251.2" cy="358.2" r="1.35" class="s9"/>
<circle cx="252.2" cy="357.3" r="1.35" class="s8"/>
<circle cx="251.5" cy="359.5" r="1.35" class="s10"/>
<circle cx="254.0" cy="358.6" r="1.35" class="s5"/>
<circle cx="254.0" cy="359.3" r="1.35" class="s7"/>
<circle cx="253.5" cy="359.9" r="1.35" class="s5"/>
<circle cx="253.8" cy="360.1" r="1.35" class="s8"/>
<circle cx="254.2" cy="358.2" r="1.35" class="s5"/>
<circle cx="254.7" cy="357.5" r="1.35" class="s7"/>
<circle cx="253.4" cy="358.3" r="1.35" class="s9"/>
<circle cx="255.6" cy="359.9" r="1.35" class="s5"/>
<circle cx="292.1" cy="358.9" r="1.35" class="s6"/>
<circle cx="291.6" cy="358.4" r="1.35" class="s6"/>
<circle cx="289.5" cy="358.7" r="1.35" class="s5"/>
<circle cx="292.3" cy="358.5" r="1.35" class="s5"/>
<circle cx="292.4" cy="359.1" r="1.35" class="s7"/>
<circle cx="299.8" cy="358.5" r="1.35" class="s6"/>
<circle cx="300.7" cy="357.9" r="1.35" class="s7"/>
<circle cx="300.0" cy="358.7" r="1.35" class="s3"/>
<circle cx="299.5" cy="358.8" r="1.35" class="s7"/>
<circle cx="299.9" cy="357.5" r="1.35" class="s5"/>
<circle cx="318.3" cy="359.0" r="1.35" class="s7"/>
<circle cx="320.6" cy="357.7" r="1.35" class="s4"/>
<circle cx="320.3" cy="358.8" r="1.35" class="s5"/>
<circle cx="321.3" cy="359.0" r="1.35" class="s7"/>
<circle cx="319.3" cy="359.4" r="1.35" class="s3"/>
<circle cx="329.5" cy="359.1" r="1.35" class="s7"/>
<circle cx="331.5" cy="357.7" r="1.35" class="s5"/>
<circle cx="331.3" cy="357.2" r="1.35" class="s5"/>
<circle cx="330.4" cy="357.6" r="1.35" class="s3"/>
<circle cx="329.7" cy="358.8" r="1.35" class="s7"/>
<circle cx="345.5" cy="358.0" r="1.35" class="s6"/>
<circle cx="344.9" cy="359.0" r="1.35" class="s5"/>
<circle cx="344.4" cy="359.5" r="1.35" class="s5"/>
<circle cx="345.0" cy="360.1" r="1.35" class="s8"/>
<circle cx="343.9" cy="359.6" r="1.35" class="s6"/>
<circle cx="343.9" cy="358.4" r="1.35" class="s8"/>
<circle cx="343.3" cy="358.8" r="1.35" class="s9"/>
<circle cx="346.5" cy="358.7" r="1.35" class="s5"/>
<circle cx="351.5" cy="358.8" r="1.35" class="s7"/>
<circle cx="351.6" cy="357.6" r="1.35" class="s4"/>
<circle cx="352.0" cy="358.5" r="1.35" class="s4"/>
<circle cx="353.1" cy="359.5" r="1.35" class="s5"/>
<circle cx="350.1" cy="358.3" r="1.35" class="s6"/>
<circle cx="387.4" cy="357.3" r="1.35" class="s5"/>
<circle cx="389.2" cy="358.6" r="1.35" class="s4"/>
<circle cx="389.0" cy="359.5" r="1.35" class="s7"/>
<circle cx="389.5" cy="359.0" r="1.35" class="s5"/>
<circle cx="387.4" cy="357.8" r="1.35" class="s6"/>
<circle cx="405.8" cy="359.4" r="1.35" class="s6"/>
<circle cx="404.5" cy="360.3" r="1.35" class="s8"/>
<circle cx="403.5" cy="358.8" r="1.35" class="s8"/>
<circle cx="405.3" cy="357.2" r="1.35" class="s6"/>
<circle cx="402.6" cy="357.1" r="1.35" class="s7"/>
<circle cx="403.5" cy="358.9" r="1.35" class="s5"/>
<circle cx="402.8" cy="357.8" r="1.35" class="s6"/>
<circle cx="403.7" cy="359.6" r="1.35" class="s6"/>
<circle cx="427.6" cy="359.8" r="1.35" class="s6"/>
<circle cx="426.8" cy="358.7" r="1.35" class="s9"/>
<circle cx="424.6" cy="359.6" r="1.35" class="s6"/>
<circle cx="426.7" cy="357.3" r="1.35" class="s10"/>
<circle cx="425.5" cy="360.3" r="1.35" class="s8"/>
<circle cx="426.2" cy="359.6" r="1.35" class="s8"/>
<circle cx="426.0" cy="359.8" r="1.35" class="s10"/>
<circle cx="424.7" cy="358.3" r="1.35" class="s7"/>
<circle cx="434.7" cy="358.8" r="1.35" class="s4"/>
<circle cx="434.8" cy="358.3" r="1.35" class="s7"/>
<circle cx="434.3" cy="359.2" r="1.35" class="s4"/>
<circle cx="436.8" cy="358.7" r="1.35" class="s6"/>
<circle cx="436.4" cy="357.5" r="1.35" class="s6"/>
<circle cx="441.6" cy="357.4" r="1.35" class="s6"/>
<circle cx="442.9" cy="357.8" r="1.35" class="s4"/>
<circle cx="442.7" cy="359.3" r="1.35" class="s3"/>
<circle cx="441.5" cy="358.5" r="1.35" class="s6"/>
<circle cx="441.7" cy="357.6" r="1.35" class="s5"/>
<circle cx="452.7" cy="359.5" r="1.35" class="s4"/>
<circle cx="452.6" cy="358.0" r="1.35" class="s6"/>
<circle cx="454.6" cy="358.2" r="1.35" class="s4"/>
<circle cx="453.4" cy="357.3" r="1.35" class="s5"/>
<circle cx="453.8" cy="358.0" r="1.35" class="s6"/>
<circle cx="469.5" cy="358.7" r="1.35" class="s5"/>
<circle cx="468.9" cy="358.8" r="1.35" class="s6"/>
<circle cx="469.3" cy="358.5" r="1.35" class="s4"/>
<circle cx="468.4" cy="359.2" r="1.35" class="s5"/>
<circle cx="469.1" cy="358.6" r="1.35" class="s4"/>
<circle cx="476.9" cy="358.2" r="1.35" class="s7"/>
<circle cx="477.1" cy="358.2" r="1.35" class="s4"/>
<circle cx="477.5" cy="359.2" r="1.35" class="s6"/>
<circle cx="476.8" cy="357.7" r="1.35" class="s3"/>
<circle cx="478.9" cy="357.6" r="1.35" class="s6"/>
<circle cx="135.7" cy="385.7" r="1.35" class="s3"/>
<circle cx="95.0" cy="389.0" r="1.35" class="s4"/>
<circle cx="135.1" cy="367.0" r="1.35" class="s5"/>
<circle cx="71.3" cy="363.0" r="1.35" class="s4"/>
<circle cx="122.1" cy="382.9" r="1.35" class="s4"/>
<circle cx="72.5" cy="380.7" r="1.35" class="s4"/>
<circle cx="53.1" cy="370.7" r="1.35" class="s3"/>
<circle cx="131.4" cy="394.1" r="1.35" class="s6"/>
<circle cx="113.8" cy="373.6" r="1.35" class="s5"/>
<circle cx="138.6" cy="393.7" r="1.35" class="s3"/>
<circle cx="159.8" cy="381.6" r="1.35" class="s4"/>
<circle cx="78.1" cy="392.4" r="1.35" class="s3"/>
<circle cx="126.8" cy="392.6" r="1.35" class="s5"/>
<circle cx="75.8" cy="394.3" r="1.35" class="s5"/>
<circle cx="159.5" cy="388.4" r="1.35" class="s5"/>
<circle cx="76.3" cy="369.0" r="1.35" class="s3"/>
<circle cx="103.9" cy="367.9" r="1.35" class="s5"/>
<circle cx="142.2" cy="373.3" r="1.35" class="s3"/>
<circle cx="67.5" cy="368.8" r="1.35" class="s3"/>
<circle cx="86.6" cy="385.2" r="1.35" class="s2"/>
<circle cx="112.8" cy="388.7" r="1.35" class="s3"/>
<circle cx="120.7" cy="370.7" r="1.35" class="s5"/>
<circle cx="106.6" cy="374.1" r="1.35" class="s5"/>
<circle cx="107.9" cy="374.6" r="1.35" class="s3"/>
<circle cx="64.7" cy="372.3" r="1.35" class="s2"/>
<circle cx="145.7" cy="391.6" r="1.35" class="s5"/>
<circle cx="104.6" cy="373.7" r="1.35" class="s3"/>
<circle cx="67.7" cy="371.5" r="1.35" class="s3"/>
<circle cx="106.9" cy="368.3" r="1.35" class="s4"/>
<circle cx="106.3" cy="366.6" r="1.35" class="s4"/>
<circle cx="149.9" cy="386.9" r="1.35" class="s4"/>
<circle cx="79.4" cy="385.6" r="1.35" class="s3"/>
<circle cx="143.8" cy="371.2" r="1.35" class="s3"/>
<circle cx="136.3" cy="369.0" r="1.35" class="s3"/>
<circle cx="127.6" cy="374.6" r="1.35" class="s3"/>
<circle cx="150.9" cy="390.6" r="1.35" class="s6"/>
<circle cx="339.7" cy="432.0" r="1.35" class="s3"/>
<circle cx="292.0" cy="453.7" r="1.35" class="s2"/>
<circle cx="424.8" cy="447.1" r="1.35" class="s2"/>
<circle cx="410.1" cy="443.6" r="1.35" class="s4"/>
<circle cx="326.2" cy="423.3" r="1.35" class="s3"/>
<circle cx="465.7" cy="451.6" r="1.35" class="s2"/>
<circle cx="368.3" cy="419.1" r="1.35" class="s3"/>
<circle cx="347.2" cy="432.4" r="1.35" class="s2"/>
<circle cx="188.4" cy="426.8" r="1.35" class="s3"/>
<circle cx="297.0" cy="423.7" r="1.35" class="s3"/>
<circle cx="165.2" cy="424.6" r="1.35" class="s2"/>
<circle cx="218.2" cy="448.1" r="1.35" class="s4"/>
<circle cx="311.5" cy="430.4" r="1.35" class="s4"/>
<circle cx="402.8" cy="442.1" r="1.35" class="s4"/>
<circle cx="185.5" cy="439.9" r="1.35" class="s2"/>
<circle cx="469.5" cy="420.4" r="1.35" class="s4"/>
<circle cx="453.3" cy="420.1" r="1.35" class="s4"/>
<circle cx="322.9" cy="451.3" r="1.35" class="s3"/>
<circle cx="473.4" cy="429.7" r="1.35" class="s2"/>
<circle cx="363.2" cy="454.1" r="1.35" class="s2"/>
<circle cx="380.3" cy="427.8" r="1.35" class="s2"/>
<circle cx="357.4" cy="446.5" r="1.35" class="s3"/>
<circle cx="457.9" cy="442.2" r="1.35" class="s2"/>
<circle cx="357.5" cy="419.3" r="1.35" class="s2"/>
<circle cx="332.1" cy="433.1" r="1.35" class="s3"/>
<circle cx="291.7" cy="448.0" r="1.35" class="s3"/>
<circle cx="350.5" cy="440.7" r="1.35" class="s3"/>
<circle cx="331.4" cy="418.2" r="1.35" class="s2"/>
<circle cx="261.3" cy="426.4" r="1.35" class="s2"/>
<circle cx="382.2" cy="434.4" r="1.35" class="s2"/>
<circle cx="370.3" cy="424.5" r="1.35" class="s2"/>
<circle cx="225.8" cy="443.1" r="1.35" class="s3"/>
<circle cx="166.2" cy="444.1" r="1.35" class="s2"/>
<circle cx="245.1" cy="421.8" r="1.35" class="s3"/>
<circle cx="339.0" cy="427.3" r="1.35" class="s4"/>
<circle cx="288.8" cy="422.9" r="1.35" class="s4"/>
<circle cx="325.0" cy="435.2" r="1.35" class="s3"/>
<circle cx="312.6" cy="434.0" r="1.35" class="s2"/>
<circle cx="415.7" cy="438.4" r="1.35" class="s3"/>
<circle cx="180.7" cy="435.5" r="1.35" class="s2"/>
<circle cx="329.2" cy="443.7" r="1.35" class="s2"/>
<circle cx="395.6" cy="443.7" r="1.35" class="s2"/>
<circle cx="435.0" cy="441.1" r="1.35" class="s2"/>
<circle cx="445.9" cy="419.6" r="1.35" class="s3"/>
<circle cx="433.2" cy="444.8" r="1.35" class="s4"/>
<circle cx="316.4" cy="451.8" r="1.35" class="s2"/>
<circle cx="424.6" cy="425.1" r="1.35" class="s3"/>
<circle cx="477.3" cy="436.5" r="1.35" class="s4"/>
<circle cx="378.8" cy="449.3" r="1.35" class="s2"/>
<circle cx="316.7" cy="442.1" r="1.35" class="s3"/>
<circle cx="460.5" cy="424.7" r="1.35" class="s3"/>
<circle cx="359.8" cy="432.8" r="1.35" class="s4"/>
<circle cx="322.3" cy="420.7" r="1.35" class="s3"/>
<circle cx="398.9" cy="443.9" r="1.35" class="s3"/>
<circle cx="310.7" cy="449.6" r="1.35" class="s3"/>
<circle cx="386.2" cy="448.3" r="1.35" class="s2"/>
<circle cx="384.6" cy="449.6" r="1.35" class="s3"/>
<circle cx="462.3" cy="432.6" r="1.35" class="s3"/>
<circle cx="405.3" cy="445.6" r="1.35" class="s3"/>
<circle cx="315.3" cy="452.1" r="1.35" class="s2"/>
<circle cx="262.9" cy="424.2" r="1.35" class="s4"/>
<circle cx="427.8" cy="431.2" r="1.35" class="s3"/>
<circle cx="412.7" cy="441.7" r="1.35" class="s3"/>
<circle cx="464.4" cy="437.6" r="1.35" class="s2"/>
<circle cx="278.9" cy="431.1" r="1.35" class="s2"/>
<circle cx="361.1" cy="438.5" r="1.35" class="s3"/>
<circle cx="450.6" cy="425.8" r="1.35" class="s2"/>
<circle cx="364.9" cy="445.3" r="1.35" class="s3"/>
<circle cx="179.3" cy="447.2" r="1.35" class="s2"/>
<circle cx="185.2" cy="453.8" r="1.35" class="s2"/>
<circle cx="463.1" cy="425.9" r="1.35" class="s2"/>
<circle cx="452.6" cy="445.0" r="1.35" class="s4"/>
<circle cx="174.5" cy="443.2" r="1.35" class="s3"/>
<circle cx="250.0" cy="433.8" r="1.35" class="s4"/>
<circle cx="310.3" cy="452.5" r="1.35" class="s4"/>
<circle cx="354.4" cy="422.5" r="1.35" class="s2"/>
<circle cx="333.3" cy="448.6" r="1.35" class="s4"/>
<circle cx="390.2" cy="418.0" r="1.35" class="s4"/>
<circle cx="350.2" cy="422.7" r="1.35" class="s3"/>
<circle cx="460.3" cy="428.1" r="1.35" class="s3"/>
<circle cx="361.9" cy="440.4" r="1.35" class="s2"/>
<circle cx="336.7" cy="452.1" r="1.35" class="s3"/>
<circle cx="215.6" cy="439.1" r="1.35" class="s3"/>
<circle cx="186.6" cy="449.9" r="1.35" class="s3"/>
<circle cx="230.2" cy="426.2" r="1.35" class="s2"/>
<circle cx="432.2" cy="448.3" r="1.35" class="s3"/>
<circle cx="475.6" cy="426.2" r="1.35" class="s2"/>
<circle cx="425.9" cy="446.1" r="1.35" class="s2"/>
<circle cx="263.6" cy="421.0" r="1.35" class="s3"/>
<circle cx="331.1" cy="441.4" r="1.35" class="s4"/>
<circle cx="431.4" cy="430.7" r="1.35" class="s3"/>
<circle cx="210.4" cy="439.6" r="1.35" class="s3"/>
<circle cx="383.2" cy="429.2" r="1.35" class="s2"/>
<circle cx="368.8" cy="423.6" r="1.35" class="s2"/>
<circle cx="339.4" cy="442.6" r="1.35" class="s2"/>
<circle cx="292.5" cy="434.8" r="1.35" class="s3"/>
<circle cx="183.8" cy="443.4" r="1.35" class="s3"/>
<circle cx="240.4" cy="437.8" r="1.35" class="s4"/>
<circle cx="397.8" cy="418.4" r="1.35" class="s2"/>
<circle cx="232.4" cy="450.1" r="1.35" class="s3"/>
<circle cx="400.4" cy="418.5" r="1.35" class="s3"/>
<circle cx="207.1" cy="424.8" r="1.35" class="s3"/>
<circle cx="355.3" cy="427.4" r="1.35" class="s4"/>
<circle cx="394.3" cy="453.7" r="1.35" class="s2"/>
<circle cx="311.8" cy="431.6" r="1.35" class="s3"/>
<circle cx="193.8" cy="451.5" r="1.35" class="s2"/>
<circle cx="178.4" cy="418.6" r="1.35" class="s3"/>
<circle cx="438.4" cy="430.0" r="1.35" class="s2"/>
<circle cx="251.2" cy="434.0" r="1.35" class="s3"/>
<circle cx="246.6" cy="445.4" r="1.35" class="s3"/>
<circle cx="457.5" cy="452.8" r="1.35" class="s3"/>
<circle cx="461.4" cy="446.8" r="1.35" class="s3"/>
<circle cx="169.8" cy="426.0" r="1.35" class="s4"/>
<circle cx="372.3" cy="448.3" r="1.35" class="s2"/>
<circle cx="411.9" cy="428.4" r="1.35" class="s2"/>
<circle cx="300.7" cy="448.8" r="1.35" class="s3"/>
<circle cx="476.3" cy="418.2" r="1.35" class="s3"/>
<circle cx="358.8" cy="434.6" r="1.35" class="s3"/>
<circle cx="447.4" cy="436.8" r="1.35" class="s2"/>
<circle cx="285.3" cy="432.7" r="1.35" class="s2"/>
<circle cx="63.7" cy="495.1" r="1.35" class="s4"/>
<circle cx="157.1" cy="490.7" r="1.35" class="s3"/>
<circle cx="151.6" cy="488.4" r="1.35" class="s4"/>
<circle cx="148.1" cy="484.5" r="1.35" class="s3"/>
<circle cx="89.8" cy="496.5" r="1.35" class="s3"/>
<circle cx="95.2" cy="476.6" r="1.35" class="s4"/>
<circle cx="53.2" cy="496.0" r="1.35" class="s2"/>
<circle cx="75.9" cy="478.3" r="1.35" class="s3"/>
<circle cx="115.3" cy="492.5" r="1.35" class="s3"/>
<circle cx="125.2" cy="471.2" r="1.35" class="s4"/>
<circle cx="115.5" cy="472.2" r="1.35" class="s5"/>
<circle cx="116.9" cy="484.4" r="1.35" class="s3"/>
<circle cx="108.7" cy="495.5" r="1.35" class="s4"/>
<circle cx="62.2" cy="479.4" r="1.35" class="s5"/>
<circle cx="64.5" cy="488.8" r="1.35" class="s4"/>
<circle cx="125.9" cy="489.0" r="1.35" class="s2"/>
<circle cx="83.4" cy="477.1" r="1.35" class="s3"/>
<circle cx="123.9" cy="479.7" r="1.35" class="s2"/>
<circle cx="58.6" cy="482.4" r="1.35" class="s3"/>
<circle cx="112.6" cy="479.5" r="1.35" class="s4"/>
<circle cx="152.5" cy="496.9" r="1.35" class="s5"/>
<circle cx="93.4" cy="483.4" r="1.35" class="s4"/>
<circle cx="71.0" cy="497.0" r="1.35" class="s4"/>
<circle cx="85.9" cy="470.1" r="1.35" class="s3"/>
<circle cx="74.0" cy="475.6" r="1.35" class="s3"/>
<circle cx="96.5" cy="492.3" r="1.35" class="s4"/>
<circle cx="417.9" cy="492.2" r="1.35" class="s2"/>
<circle cx="273.0" cy="478.3" r="1.35" class="s2"/>
<circle cx="315.6" cy="484.9" r="1.35" class="s3"/>
<circle cx="275.7" cy="484.6" r="1.35" class="s2"/>
<circle cx="343.2" cy="485.4" r="1.35" class="s3"/>
<circle cx="305.2" cy="469.8" r="1.35" class="s2"/>
<circle cx="249.4" cy="471.6" r="1.35" class="s3"/>
<circle cx="385.3" cy="498.0" r="1.35" class="s3"/>
<circle cx="248.7" cy="475.6" r="1.35" class="s2"/>
<circle cx="291.6" cy="479.7" r="1.35" class="s1"/>
<circle cx="455.7" cy="495.1" r="1.35" class="s2"/>
<circle cx="282.4" cy="485.9" r="1.35" class="s2"/>
<circle cx="282.4" cy="490.5" r="1.35" class="s2"/>
<circle cx="277.9" cy="494.0" r="1.35" class="s3"/>
<circle cx="166.4" cy="466.6" r="1.35" class="s7"/>
<circle cx="166.6" cy="484.2" r="1.35" class="s10"/>
<circle cx="166.1" cy="440.0" r="1.35" class="s7"/>
<circle cx="166.6" cy="470.8" r="1.35" class="s10"/>
<circle cx="166.7" cy="483.4" r="1.35" class="s10"/>
<circle cx="165.7" cy="443.9" r="1.35" class="s9"/>
<circle cx="166.9" cy="484.6" r="1.35" class="s12"/>
<circle cx="165.9" cy="492.0" r="1.35" class="s8"/>
<circle cx="167.2" cy="472.3" r="1.35" class="s10"/>
<circle cx="165.7" cy="491.6" r="1.35" class="s11"/>
<circle cx="166.7" cy="494.6" r="1.35" class="s9"/>
<circle cx="166.0" cy="460.6" r="1.35" class="s9"/>
<circle cx="166.2" cy="443.3" r="1.35" class="s12"/>
<circle cx="166.2" cy="427.7" r="1.35" class="s12"/>
<circle cx="166.7" cy="496.0" r="1.35" class="s12"/>
<circle cx="166.1" cy="455.7" r="1.35" class="s11"/>
<circle cx="166.4" cy="438.9" r="1.35" class="s8"/>
<circle cx="166.7" cy="503.1" r="1.35" class="s10"/>
<circle cx="166.2" cy="493.4" r="1.35" class="s12"/>
<circle cx="166.5" cy="504.1" r="1.35" class="s6"/>
<circle cx="166.4" cy="440.7" r="1.35" class="s9"/>
<circle cx="166.0" cy="449.5" r="1.35" class="s12"/>
<circle cx="166.5" cy="438.3" r="1.35" class="s11"/>
<circle cx="166.6" cy="464.4" r="1.35" class="s9"/>
<circle cx="166.7" cy="465.9" r="1.35" class="s12"/>
<circle cx="166.0" cy="472.0" r="1.35" class="s12"/>
<circle cx="165.9" cy="467.3" r="1.35" class="s7"/>
<circle cx="165.8" cy="471.7" r="1.35" class="s12"/>
<circle cx="233.0" cy="428.7" r="1.35" class="s6"/>
<circle cx="232.0" cy="425.0" r="1.35" class="s2"/>
<circle cx="233.3" cy="427.4" r="1.35" class="s6"/>
<circle cx="233.1" cy="439.4" r="1.35" class="s6"/>
<circle cx="232.9" cy="430.1" r="1.35" class="s3"/>
<circle cx="233.2" cy="450.3" r="1.35" class="s6"/>
<circle cx="232.5" cy="441.7" r="1.35" class="s5"/>
<circle cx="232.9" cy="452.9" r="1.35" class="s6"/>
<circle cx="232.6" cy="437.5" r="1.35" class="s3"/>
<circle cx="233.2" cy="421.1" r="1.35" class="s6"/>
<circle cx="282.8" cy="417.2" r="1.35" class="s2"/>
<circle cx="283.1" cy="438.7" r="1.35" class="s5"/>
<circle cx="283.6" cy="437.2" r="1.35" class="s5"/>
<circle cx="282.7" cy="416.1" r="1.35" class="s3"/>
<circle cx="282.5" cy="452.3" r="1.35" class="s6"/>
<circle cx="283.2" cy="434.8" r="1.35" class="s4"/>
<circle cx="283.2" cy="425.5" r="1.35" class="s6"/>
<circle cx="283.3" cy="449.3" r="1.35" class="s6"/>
<circle cx="283.4" cy="450.9" r="1.35" class="s3"/>
<circle cx="283.2" cy="444.4" r="1.35" class="s3"/>
<circle cx="439.7" cy="442.6" r="1.35" class="s3"/>
<circle cx="439.6" cy="439.1" r="1.35" class="s4"/>
<circle cx="440.1" cy="438.3" r="1.35" class="s5"/>
<circle cx="441.2" cy="437.3" r="1.35" class="s6"/>
<circle cx="440.2" cy="444.5" r="1.35" class="s3"/>
<circle cx="440.4" cy="425.0" r="1.35" class="s4"/>
<circle cx="439.2" cy="442.5" r="1.35" class="s3"/>
<circle cx="439.8" cy="431.5" r="1.35" class="s6"/>
<circle cx="440.2" cy="431.2" r="1.35" class="s5"/>
<circle cx="440.3" cy="445.1" r="1.35" class="s3"/>
<circle cx="439.3" cy="443.0" r="1.35" class="s6"/>
<circle cx="440.3" cy="449.8" r="1.35" class="s5"/>
<circle cx="439.9" cy="438.5" r="1.35" class="s6"/>
<circle cx="440.3" cy="429.8" r="1.35" class="s6"/>
<circle cx="300.0" cy="419.8" r="1.35" class="s3"/>
<circle cx="300.3" cy="445.5" r="1.35" class="s3"/>
<circle cx="299.9" cy="428.7" r="1.35" class="s3"/>
<circle cx="299.9" cy="418.5" r="1.35" class="s3"/>
<circle cx="300.1" cy="444.7" r="1.35" class="s4"/>
<circle cx="299.8" cy="425.8" r="1.35" class="s2"/>
<circle cx="299.7" cy="429.7" r="1.35" class="s4"/>
<circle cx="299.5" cy="436.5" r="1.35" class="s5"/>
<circle cx="344.8" cy="446.3" r="1.35" class="s3"/>
<circle cx="345.4" cy="444.0" r="1.35" class="s4"/>
<circle cx="344.7" cy="447.6" r="1.35" class="s2"/>
<circle cx="344.5" cy="450.6" r="1.35" class="s4"/>
<circle cx="345.0" cy="452.0" r="1.35" class="s5"/>
<circle cx="345.0" cy="439.7" r="1.35" class="s5"/>
<circle cx="345.2" cy="431.4" r="1.35" class="s2"/>
<circle cx="345.3" cy="424.0" r="1.35" class="s4"/>
<circle cx="354.6" cy="433.1" r="1.35" class="s3"/>
<circle cx="355.0" cy="442.5" r="1.35" class="s3"/>
<circle cx="355.3" cy="429.6" r="1.35" class="s2"/>
<circle cx="355.2" cy="438.8" r="1.35" class="s4"/>
<circle cx="354.9" cy="424.5" r="1.35" class="s4"/>
<circle cx="354.9" cy="451.3" r="1.35" class="s3"/>
<circle cx="464.7" cy="445.4" r="1.35" class="s6"/>
<circle cx="465.1" cy="442.6" r="1.35" class="s5"/>
<circle cx="465.8" cy="441.6" r="1.35" class="s3"/>
<circle cx="465.1" cy="435.1" r="1.35" class="s5"/>
<circle cx="465.2" cy="443.4" r="1.35" class="s5"/>
<circle cx="465.7" cy="451.7" r="1.35" class="s6"/>
<circle cx="464.9" cy="445.9" r="1.35" class="s5"/>
<circle cx="465.2" cy="433.2" r="1.35" class="s4"/>
<circle cx="465.1" cy="427.9" r="1.35" class="s6"/>
<circle cx="464.8" cy="425.3" r="1.35" class="s3"/>
<circle cx="301.6" cy="553.6" r="1.35" class="s8"/>
<circle cx="301.8" cy="551.3" r="1.35" class="s7"/>
<circle cx="301.4" cy="555.8" r="1.35" class="s5"/>
<circle cx="302.3" cy="544.3" r="1.35" class="s8"/>
<circle cx="301.4" cy="545.0" r="1.35" class="s10"/>
<circle cx="301.3" cy="553.9" r="1.35" class="s5"/>
<circle cx="301.5" cy="551.8" r="1.35" class="s8"/>
<circle cx="302.6" cy="556.7" r="1.35" class="s8"/>
<circle cx="301.0" cy="547.3" r="1.35" class="s7"/>
<circle cx="300.7" cy="542.1" r="1.35" class="s6"/>
<circle cx="301.3" cy="569.4" r="1.35" class="s8"/>
<circle cx="300.5" cy="550.2" r="1.35" class="s7"/>
<circle cx="301.9" cy="571.2" r="1.35" class="s9"/>
<circle cx="301.9" cy="542.8" r="1.35" class="s9"/>
<circle cx="303.1" cy="557.6" r="1.35" class="s6"/>
<circle cx="302.7" cy="556.1" r="1.35" class="s7"/>
<circle cx="302.3" cy="563.7" r="1.35" class="s7"/>
<circle cx="301.2" cy="543.0" r="1.35" class="s8"/>
<circle cx="302.1" cy="541.0" r="1.35" class="s8"/>
<circle cx="310.4" cy="548.2" r="1.35" class="s5"/>
<circle cx="308.4" cy="547.3" r="1.35" class="s9"/>
<circle cx="309.1" cy="547.1" r="1.35" class="s7"/>
<circle cx="310.4" cy="557.3" r="1.35" class="s8"/>
<circle cx="309.5" cy="564.0" r="1.35" class="s9"/>
<circle cx="308.6" cy="555.2" r="1.35" class="s9"/>
<circle cx="309.6" cy="550.7" r="1.35" class="s5"/>
<circle cx="309.2" cy="561.1" r="1.35" class="s8"/>
<circle cx="310.0" cy="551.1" r="1.35" class="s6"/>
<circle cx="309.4" cy="568.3" r="1.35" class="s8"/>
<circle cx="308.9" cy="542.1" r="1.35" class="s10"/>
<circle cx="308.9" cy="555.7" r="1.35" class="s7"/>
<circle cx="308.8" cy="549.7" r="1.35" class="s9"/>
<circle cx="309.6" cy="553.9" r="1.35" class="s9"/>
<circle cx="310.3" cy="541.8" r="1.35" class="s7"/>
<circle cx="308.5" cy="545.5" r="1.35" class="s6"/>
<circle cx="309.5" cy="552.6" r="1.35" class="s10"/>
<circle cx="309.5" cy="544.4" r="1.35" class="s8"/>
<circle cx="309.2" cy="555.8" r="1.35" class="s10"/>
<circle cx="308.8" cy="550.3" r="1.35" class="s5"/>
<circle cx="309.3" cy="552.1" r="1.35" class="s6"/>
<circle cx="316.6" cy="566.0" r="1.35" class="s5"/>
<circle cx="317.8" cy="549.4" r="1.35" class="s8"/>
<circle cx="316.5" cy="551.7" r="1.35" class="s6"/>
<circle cx="317.2" cy="550.3" r="1.35" class="s5"/>
<circle cx="317.5" cy="556.4" r="1.35" class="s9"/>
<circle cx="317.3" cy="554.4" r="1.35" class="s5"/>
<circle cx="316.2" cy="556.1" r="1.35" class="s8"/>
<circle cx="315.5" cy="556.1" r="1.35" class="s5"/>
<circle cx="315.6" cy="556.1" r="1.35" class="s9"/>
<circle cx="316.6" cy="561.5" r="1.35" class="s9"/>
<circle cx="316.6" cy="548.4" r="1.35" class="s5"/>
<circle cx="315.5" cy="545.1" r="1.35" class="s7"/>
<circle cx="316.6" cy="547.6" r="1.35" class="s8"/>
<circle cx="315.8" cy="546.6" r="1.35" class="s7"/>
<circle cx="316.6" cy="548.7" r="1.35" class="s6"/>
<circle cx="315.9" cy="549.6" r="1.35" class="s10"/>
<circle cx="317.8" cy="545.0" r="1.35" class="s8"/>
<circle cx="316.2" cy="556.8" r="1.35" class="s9"/>
<circle cx="315.3" cy="541.8" r="1.35" class="s7"/>
<circle cx="316.3" cy="547.8" r="1.35" class="s7"/>
<circle cx="323.3" cy="544.6" r="1.35" class="s4"/>
<circle cx="323.3" cy="550.7" r="1.35" class="s4"/>
<circle cx="324.3" cy="541.3" r="1.35" class="s4"/>
<circle cx="322.5" cy="545.5" r="1.35" class="s6"/>
<circle cx="324.0" cy="551.1" r="1.35" class="s6"/>
<circle cx="322.9" cy="545.2" r="1.35" class="s7"/>
<circle cx="324.0" cy="552.2" r="1.35" class="s5"/>
<circle cx="323.2" cy="542.1" r="1.35" class="s6"/>
<circle cx="323.6" cy="567.9" r="1.35" class="s5"/>
<circle cx="323.5" cy="564.3" r="1.35" class="s5"/>
<circle cx="323.0" cy="561.3" r="1.35" class="s7"/>
<circle cx="323.0" cy="553.9" r="1.35" class="s6"/>
<circle cx="323.2" cy="546.4" r="1.35" class="s5"/>
<circle cx="323.5" cy="556.0" r="1.35" class="s8"/>
<circle cx="322.6" cy="546.1" r="1.35" class="s8"/>
<circle cx="324.1" cy="547.7" r="1.35" class="s5"/>
<circle cx="334.2" cy="556.2" r="1.35" class="s7"/>
<circle cx="334.6" cy="554.0" r="1.35" class="s7"/>
<circle cx="334.2" cy="543.6" r="1.35" class="s6"/>
<circle cx="334.8" cy="557.6" r="1.35" class="s10"/>
<circle cx="335.0" cy="541.8" r="1.35" class="s10"/>
<circle cx="334.6" cy="558.2" r="1.35" class="s7"/>
<circle cx="334.4" cy="570.8" r="1.35" class="s8"/>
<circle cx="333.6" cy="544.1" r="1.35" class="s7"/>
<circle cx="333.9" cy="543.2" r="1.35" class="s6"/>
<circle cx="333.9" cy="542.5" r="1.35" class="s7"/>
<circle cx="334.6" cy="554.9" r="1.35" class="s9"/>
<circle cx="334.7" cy="554.6" r="1.35" class="s9"/>
<circle cx="334.8" cy="547.3" r="1.35" class="s9"/>
<circle cx="333.8" cy="543.0" r="1.35" class="s8"/>
<circle cx="333.7" cy="546.6" r="1.35" class="s5"/>
<circle cx="334.2" cy="555.3" r="1.35" class="s6"/>
<circle cx="333.7" cy="564.2" r="1.35" class="s6"/>
<circle cx="334.9" cy="572.4" r="1.35" class="s8"/>
<circle cx="335.3" cy="555.2" r="1.35" class="s9"/>
<circle cx="335.0" cy="548.3" r="1.35" class="s10"/>
<circle cx="333.7" cy="568.6" r="1.35" class="s8"/>
<circle cx="334.5" cy="553.2" r="1.35" class="s6"/>
<circle cx="334.5" cy="549.1" r="1.35" class="s9"/>
<circle cx="334.9" cy="556.9" r="1.35" class="s9"/>
<circle cx="333.5" cy="558.7" r="1.35" class="s5"/>
<circle cx="334.3" cy="560.8" r="1.35" class="s8"/>
<circle cx="338.3" cy="557.6" r="1.35" class="s8"/>
<circle cx="338.9" cy="563.7" r="1.35" class="s9"/>
<circle cx="336.8" cy="553.8" r="1.35" class="s8"/>
<circle cx="338.0" cy="556.1" r="1.35" class="s10"/>
<circle cx="337.1" cy="559.0" r="1.35" class="s8"/>
<circle cx="337.0" cy="547.5" r="1.35" class="s7"/>
<circle cx="338.8" cy="557.5" r="1.35" class="s8"/>
<circle cx="336.9" cy="559.0" r="1.35" class="s6"/>
<circle cx="336.8" cy="546.9" r="1.35" class="s10"/>
<circle cx="338.2" cy="542.1" r="1.35" class="s7"/>
<circle cx="338.8" cy="556.7" r="1.35" class="s9"/>
<circle cx="339.0" cy="552.8" r="1.35" class="s10"/>
<circle cx="338.8" cy="549.0" r="1.35" class="s10"/>
<circle cx="337.9" cy="555.1" r="1.35" class="s9"/>
<circle cx="338.2" cy="560.9" r="1.35" class="s7"/>
<circle cx="337.9" cy="556.6" r="1.35" class="s6"/>
<circle cx="337.0" cy="556.4" r="1.35" class="s5"/>
<circle cx="338.4" cy="549.9" r="1.35" class="s10"/>
<circle cx="337.8" cy="547.9" r="1.35" class="s8"/>
<circle cx="338.4" cy="563.9" r="1.35" class="s8"/>
<circle cx="338.8" cy="544.9" r="1.35" class="s9"/>
<circle cx="339.2" cy="542.5" r="1.35" class="s6"/>
<circle cx="337.7" cy="542.3" r="1.35" class="s9"/>
<circle cx="338.6" cy="545.8" r="1.35" class="s6"/>
<circle cx="337.8" cy="544.2" r="1.35" class="s6"/>
<circle cx="337.2" cy="548.1" r="1.35" class="s7"/>
<circle cx="338.3" cy="556.3" r="1.35" class="s9"/>
<circle cx="337.3" cy="558.2" r="1.35" class="s8"/>
<circle cx="342.8" cy="566.5" r="1.35" class="s6"/>
<circle cx="343.6" cy="547.1" r="1.35" class="s5"/>
<circle cx="342.1" cy="550.4" r="1.35" class="s4"/>
<circle cx="343.1" cy="555.5" r="1.35" class="s6"/>
<circle cx="343.1" cy="542.9" r="1.35" class="s4"/>
<circle cx="342.7" cy="567.0" r="1.35" class="s6"/>
<circle cx="344.5" cy="551.9" r="1.35" class="s5"/>
<circle cx="343.7" cy="553.0" r="1.35" class="s7"/>
<circle cx="342.9" cy="548.9" r="1.35" class="s5"/>
<circle cx="343.8" cy="562.3" r="1.35" class="s5"/>
<circle cx="342.9" cy="551.3" r="1.35" class="s5"/>
<circle cx="344.2" cy="551.5" r="1.35" class="s8"/>
<circle cx="342.7" cy="556.9" r="1.35" class="s4"/>
<circle cx="343.4" cy="549.1" r="1.35" class="s4"/>
<circle cx="341.2" cy="549.8" r="1.35" class="s4"/>
<circle cx="343.9" cy="546.6" r="1.35" class="s5"/>
<circle cx="343.8" cy="557.3" r="1.35" class="s5"/>
<circle cx="348.2" cy="552.0" r="1.35" class="s8"/>
<circle cx="347.1" cy="549.7" r="1.35" class="s8"/>
<circle cx="348.8" cy="553.5" r="1.35" class="s11"/>
<circle cx="348.2" cy="546.6" r="1.35" class="s6"/>
<circle cx="347.7" cy="569.5" r="1.35" class="s6"/>
<circle cx="348.3" cy="543.0" r="1.35" class="s10"/>
<circle cx="348.0" cy="555.9" r="1.35" class="s6"/>
<circle cx="348.8" cy="553.8" r="1.35" class="s9"/>
<circle cx="348.5" cy="547.3" r="1.35" class="s6"/>
<circle cx="348.6" cy="544.0" r="1.35" class="s10"/>
<circle cx="349.6" cy="555.8" r="1.35" class="s6"/>
<circle cx="347.5" cy="555.2" r="1.35" class="s11"/>
<circle cx="348.0" cy="556.7" r="1.35" class="s11"/>
<circle cx="349.2" cy="551.3" r="1.35" class="s12"/>
<circle cx="347.9" cy="562.6" r="1.35" class="s8"/>
<circle cx="349.4" cy="544.7" r="1.35" class="s9"/>
<circle cx="349.1" cy="558.6" r="1.35" class="s6"/>
<circle cx="348.5" cy="557.4" r="1.35" class="s7"/>
<circle cx="347.8" cy="543.9" r="1.35" class="s12"/>
<circle cx="346.9" cy="548.1" r="1.35" class="s7"/>
<circle cx="349.0" cy="543.6" r="1.35" class="s8"/>
<circle cx="348.1" cy="553.2" r="1.35" class="s9"/>
<circle cx="348.1" cy="542.0" r="1.35" class="s9"/>
<circle cx="349.2" cy="554.9" r="1.35" class="s8"/>
<circle cx="347.6" cy="554.7" r="1.35" class="s10"/>
<circle cx="347.9" cy="542.3" r="1.35" class="s10"/>
<circle cx="349.4" cy="556.9" r="1.35" class="s10"/>
<circle cx="349.0" cy="548.7" r="1.35" class="s8"/>
<circle cx="348.3" cy="560.4" r="1.35" class="s12"/>
<circle cx="349.0" cy="547.8" r="1.35" class="s12"/>
<circle cx="348.3" cy="556.4" r="1.35" class="s12"/>
<circle cx="348.3" cy="557.3" r="1.35" class="s11"/>
<circle cx="349.0" cy="558.0" r="1.35" class="s9"/>
<circle cx="348.9" cy="541.9" r="1.35" class="s11"/>
<circle cx="352.4" cy="551.5" r="1.35" class="s7"/>
<circle cx="352.7" cy="552.9" r="1.35" class="s7"/>
<circle cx="352.8" cy="556.0" r="1.35" class="s4"/>
<circle cx="352.1" cy="570.0" r="1.35" class="s7"/>
<circle cx="352.5" cy="545.5" r="1.35" class="s5"/>
<circle cx="352.2" cy="559.0" r="1.35" class="s6"/>
<circle cx="352.9" cy="553.2" r="1.35" class="s5"/>
<circle cx="353.3" cy="546.2" r="1.35" class="s8"/>
<circle cx="351.3" cy="545.1" r="1.35" class="s7"/>
<circle cx="352.2" cy="570.2" r="1.35" class="s4"/>
<circle cx="353.8" cy="548.8" r="1.35" class="s5"/>
<circle cx="353.0" cy="559.0" r="1.35" class="s6"/>
<circle cx="352.0" cy="567.8" r="1.35" class="s4"/>
<circle cx="353.1" cy="566.1" r="1.35" class="s6"/>
<circle cx="352.7" cy="546.7" r="1.35" class="s7"/>
<circle cx="352.2" cy="547.0" r="1.35" class="s4"/>
<circle cx="353.1" cy="557.2" r="1.35" class="s5"/>
<circle cx="360.6" cy="551.0" r="1.35" class="s6"/>
<circle cx="360.5" cy="541.6" r="1.35" class="s8"/>
<circle cx="361.1" cy="559.2" r="1.35" class="s5"/>
<circle cx="361.3" cy="554.5" r="1.35" class="s8"/>
<circle cx="360.1" cy="557.3" r="1.35" class="s6"/>
<circle cx="360.4" cy="545.1" r="1.35" class="s7"/>
<circle cx="360.2" cy="551.4" r="1.35" class="s5"/>
<circle cx="360.8" cy="552.5" r="1.35" class="s9"/>
<circle cx="361.3" cy="565.0" r="1.35" class="s7"/>
<circle cx="361.6" cy="554.6" r="1.35" class="s8"/>
<circle cx="361.3" cy="570.6" r="1.35" class="s8"/>
<circle cx="360.8" cy="556.5" r="1.35" class="s8"/>
<circle cx="360.2" cy="543.1" r="1.35" class="s7"/>
<circle cx="361.7" cy="548.3" r="1.35" class="s6"/>
<circle cx="361.2" cy="557.6" r="1.35" class="s6"/>
<circle cx="360.0" cy="548.1" r="1.35" class="s7"/>
<circle cx="361.1" cy="545.5" r="1.35" class="s7"/>
<circle cx="360.6" cy="554.0" r="1.35" class="s8"/>
<circle cx="358.8" cy="544.8" r="1.35" class="s5"/>
<circle cx="360.2" cy="561.4" r="1.35" class="s6"/>
<circle cx="361.1" cy="552.2" r="1.35" class="s10"/>
<circle cx="360.4" cy="542.6" r="1.35" class="s8"/>
<circle cx="360.1" cy="552.3" r="1.35" class="s10"/>
<circle cx="361.2" cy="557.6" r="1.35" class="s8"/>
<circle cx="359.8" cy="544.1" r="1.35" class="s8"/>
<circle cx="371.4" cy="553.7" r="1.35" class="s7"/>
<circle cx="372.5" cy="569.0" r="1.35" class="s7"/>
<circle cx="373.3" cy="554.7" r="1.35" class="s8"/>
<circle cx="372.7" cy="566.8" r="1.35" class="s5"/>
<circle cx="371.9" cy="552.6" r="1.35" class="s7"/>
<circle cx="371.8" cy="544.9" r="1.35" class="s6"/>
<circle cx="371.5" cy="551.5" r="1.35" class="s9"/>
<circle cx="371.3" cy="557.8" r="1.35" class="s8"/>
<circle cx="371.8" cy="554.8" r="1.35" class="s10"/>
<circle cx="372.1" cy="541.6" r="1.35" class="s9"/>
<circle cx="371.6" cy="561.9" r="1.35" class="s7"/>
<circle cx="371.3" cy="552.8" r="1.35" class="s10"/>
<circle cx="371.5" cy="567.3" r="1.35" class="s5"/>
<circle cx="372.1" cy="548.4" r="1.35" class="s8"/>
<circle cx="371.0" cy="548.3" r="1.35" class="s7"/>
<circle cx="372.0" cy="557.1" r="1.35" class="s7"/>
<circle cx="371.3" cy="546.4" r="1.35" class="s8"/>
<circle cx="372.1" cy="573.1" r="1.35" class="s10"/>
<circle cx="372.5" cy="566.4" r="1.35" class="s6"/>
<circle cx="372.2" cy="562.1" r="1.35" class="s10"/>
<circle cx="372.6" cy="552.9" r="1.35" class="s6"/>
<circle cx="377.7" cy="547.4" r="1.35" class="s7"/>
<circle cx="377.0" cy="541.2" r="1.35" class="s5"/>
<circle cx="377.5" cy="553.5" r="1.35" class="s4"/>
<circle cx="378.1" cy="541.8" r="1.35" class="s7"/>
<circle cx="376.7" cy="553.2" r="1.35" class="s7"/>
<circle cx="378.1" cy="555.4" r="1.35" class="s8"/>
<circle cx="377.6" cy="541.2" r="1.35" class="s6"/>
<circle cx="377.9" cy="552.7" r="1.35" class="s7"/>
<circle cx="375.9" cy="545.5" r="1.35" class="s7"/>
<circle cx="377.2" cy="541.5" r="1.35" class="s7"/>
<circle cx="378.1" cy="549.6" r="1.35" class="s4"/>
<circle cx="376.1" cy="552.3" r="1.35" class="s4"/>
<circle cx="377.4" cy="556.6" r="1.35" class="s7"/>
<circle cx="378.4" cy="556.1" r="1.35" class="s7"/>
<circle cx="386.6" cy="562.7" r="1.35" class="s8"/>
<circle cx="385.4" cy="549.1" r="1.35" class="s8"/>
<circle cx="385.8" cy="566.8" r="1.35" class="s12"/>
<circle cx="386.2" cy="560.3" r="1.35" class="s13"/>
<circle cx="386.9" cy="545.1" r="1.35" class="s7"/>
<circle cx="385.1" cy="542.7" r="1.35" class="s11"/>
<circle cx="386.6" cy="545.5" r="1.35" class="s10"/>
<circle cx="385.7" cy="556.8" r="1.35" class="s12"/>
<circle cx="386.4" cy="551.3" r="1.35" class="s13"/>
<circle cx="385.4" cy="543.6" r="1.35" class="s10"/>
<circle cx="386.2" cy="545.7" r="1.35" class="s11"/>
<circle cx="385.0" cy="549.6" r="1.35" class="s10"/>
<circle cx="385.5" cy="551.0" r="1.35" class="s8"/>
<circle cx="386.1" cy="544.9" r="1.35" class="s10"/>
<circle cx="386.0" cy="562.2" r="1.35" class="s6"/>
<circle cx="386.2" cy="552.0" r="1.35" class="s10"/>
<circle cx="385.7" cy="548.2" r="1.35" class="s8"/>
<circle cx="385.8" cy="572.3" r="1.35" class="s11"/>
<circle cx="386.0" cy="557.5" r="1.35" class="s11"/>
<circle cx="384.4" cy="564.8" r="1.35" class="s9"/>
<circle cx="385.6" cy="555.0" r="1.35" class="s11"/>
<circle cx="385.4" cy="542.4" r="1.35" class="s7"/>
<circle cx="386.4" cy="544.2" r="1.35" class="s7"/>
<circle cx="384.8" cy="565.8" r="1.35" class="s7"/>
<circle cx="385.2" cy="558.2" r="1.35" class="s10"/>
<circle cx="386.2" cy="573.6" r="1.35" class="s7"/>
<circle cx="385.9" cy="551.7" r="1.35" class="s8"/>
<circle cx="386.0" cy="547.0" r="1.35" class="s6"/>
<circle cx="386.1" cy="542.6" r="1.35" class="s13"/>
<circle cx="386.4" cy="549.4" r="1.35" class="s11"/>
<circle cx="386.1" cy="557.8" r="1.35" class="s9"/>
<circle cx="386.5" cy="553.0" r="1.35" class="s8"/>
<circle cx="386.8" cy="566.5" r="1.35" class="s11"/>
<circle cx="386.7" cy="544.5" r="1.35" class="s9"/>
<circle cx="387.2" cy="553.8" r="1.35" class="s13"/>
<circle cx="386.0" cy="553.6" r="1.35" class="s10"/>
<circle cx="391.5" cy="550.2" r="1.35" class="s7"/>
<circle cx="392.6" cy="563.6" r="1.35" class="s13"/>
<circle cx="391.8" cy="557.7" r="1.35" class="s9"/>
<circle cx="390.9" cy="541.5" r="1.35" class="s6"/>
<circle cx="392.4" cy="565.6" r="1.35" class="s6"/>
<circle cx="392.1" cy="546.4" r="1.35" class="s7"/>
<circle cx="391.8" cy="552.0" r="1.35" class="s12"/>
<circle cx="392.5" cy="559.8" r="1.35" class="s9"/>
<circle cx="392.6" cy="553.5" r="1.35" class="s10"/>
<circle cx="392.4" cy="553.7" r="1.35" class="s9"/>
<circle cx="392.3" cy="550.0" r="1.35" class="s7"/>
<circle cx="392.2" cy="541.3" r="1.35" class="s7"/>
<circle cx="391.7" cy="556.3" r="1.35" class="s8"/>
<circle cx="392.0" cy="545.6" r="1.35" class="s9"/>
<circle cx="391.8" cy="543.3" r="1.35" class="s7"/>
<circle cx="391.7" cy="555.6" r="1.35" class="s8"/>
<circle cx="391.5" cy="557.6" r="1.35" class="s8"/>
<circle cx="391.7" cy="553.2" r="1.35" class="s10"/>
<circle cx="390.3" cy="552.5" r="1.35" class="s7"/>
<circle cx="392.1" cy="566.5" r="1.35" class="s12"/>
<circle cx="391.3" cy="557.5" r="1.35" class="s11"/>
<circle cx="392.4" cy="550.1" r="1.35" class="s9"/>
<circle cx="391.4" cy="548.3" r="1.35" class="s10"/>
<circle cx="391.4" cy="568.8" r="1.35" class="s10"/>
<circle cx="391.5" cy="556.7" r="1.35" class="s11"/>
<circle cx="391.3" cy="541.3" r="1.35" class="s11"/>
<circle cx="392.2" cy="548.4" r="1.35" class="s10"/>
<circle cx="392.4" cy="558.3" r="1.35" class="s10"/>
<circle cx="393.2" cy="547.1" r="1.35" class="s6"/>
<circle cx="392.1" cy="542.2" r="1.35" class="s7"/>
<circle cx="392.5" cy="546.2" r="1.35" class="s6"/>
<circle cx="392.5" cy="560.5" r="1.35" class="s8"/>
<circle cx="396.1" cy="550.9" r="1.35" class="s6"/>
<circle cx="395.9" cy="573.7" r="1.35" class="s4"/>
<circle cx="396.9" cy="558.1" r="1.35" class="s4"/>
<circle cx="395.2" cy="559.5" r="1.35" class="s6"/>
<circle cx="395.7" cy="543.7" r="1.35" class="s6"/>
<circle cx="396.7" cy="546.2" r="1.35" class="s5"/>
<circle cx="395.7" cy="547.8" r="1.35" class="s4"/>
<circle cx="396.7" cy="558.8" r="1.35" class="s4"/>
<circle cx="395.8" cy="552.3" r="1.35" class="s7"/>
<circle cx="396.7" cy="561.7" r="1.35" class="s5"/>
<circle cx="396.6" cy="552.1" r="1.35" class="s6"/>
<circle cx="396.0" cy="558.5" r="1.35" class="s7"/>
<circle cx="401.2" cy="555.7" r="1.35" class="s7"/>
<circle cx="400.7" cy="550.7" r="1.35" class="s11"/>
<circle cx="401.2" cy="555.1" r="1.35" class="s11"/>
<circle cx="401.3" cy="556.8" r="1.35" class="s11"/>
<circle cx="399.8" cy="552.1" r="1.35" class="s13"/>
<circle cx="399.9" cy="549.2" r="1.35" class="s10"/>
<circle cx="401.2" cy="549.1" r="1.35" class="s10"/>
<circle cx="401.4" cy="550.4" r="1.35" class="s11"/>
<circle cx="401.1" cy="563.1" r="1.35" class="s8"/>
<circle cx="400.5" cy="541.3" r="1.35" class="s8"/>
<circle cx="402.3" cy="573.7" r="1.35" class="s9"/>
<circle cx="400.4" cy="552.0" r="1.35" class="s11"/>
<circle cx="400.8" cy="556.7" r="1.35" class="s11"/>
<circle cx="400.9" cy="550.3" r="1.35" class="s11"/>
<circle cx="399.4" cy="553.1" r="1.35" class="s6"/>
<circle cx="399.4" cy="542.8" r="1.35" class="s10"/>
<circle cx="401.3" cy="547.6" r="1.35" class="s12"/>
<circle cx="400.5" cy="557.4" r="1.35" class="s10"/>
<circle cx="401.1" cy="551.0" r="1.35" class="s7"/>
<circle cx="401.0" cy="557.2" r="1.35" class="s13"/>
<circle cx="400.5" cy="563.4" r="1.35" class="s7"/>
<circle cx="401.1" cy="555.6" r="1.35" class="s7"/>
<circle cx="401.1" cy="556.6" r="1.35" class="s6"/>
<circle cx="401.7" cy="565.6" r="1.35" class="s10"/>
<circle cx="398.9" cy="557.7" r="1.35" class="s9"/>
<circle cx="400.0" cy="553.2" r="1.35" class="s10"/>
<circle cx="400.9" cy="552.2" r="1.35" class="s11"/>
<circle cx="402.0" cy="547.3" r="1.35" class="s8"/>
<circle cx="399.7" cy="541.7" r="1.35" class="s10"/>
<circle cx="400.6" cy="551.5" r="1.35" class="s6"/>
<circle cx="399.8" cy="541.4" r="1.35" class="s12"/>
<circle cx="402.6" cy="544.5" r="1.35" class="s6"/>
<circle cx="401.3" cy="562.5" r="1.35" class="s12"/>
<circle cx="400.5" cy="559.0" r="1.35" class="s8"/>
<circle cx="410.5" cy="543.8" r="1.35" class="s5"/>
<circle cx="409.4" cy="546.4" r="1.35" class="s7"/>
<circle cx="411.2" cy="544.4" r="1.35" class="s6"/>
<circle cx="410.4" cy="552.5" r="1.35" class="s9"/>
<circle cx="410.6" cy="558.6" r="1.35" class="s9"/>
<circle cx="410.7" cy="543.7" r="1.35" class="s9"/>
<circle cx="409.8" cy="572.1" r="1.35" class="s7"/>
<circle cx="411.3" cy="546.3" r="1.35" class="s10"/>
<circle cx="411.4" cy="543.0" r="1.35" class="s6"/>
<circle cx="409.8" cy="548.5" r="1.35" class="s6"/>
<circle cx="410.4" cy="554.7" r="1.35" class="s7"/>
<circle cx="409.9" cy="542.8" r="1.35" class="s9"/>
<circle cx="409.5" cy="541.0" r="1.35" class="s7"/>
<circle cx="411.5" cy="543.0" r="1.35" class="s7"/>
<circle cx="409.6" cy="559.3" r="1.35" class="s7"/>
<circle cx="409.4" cy="550.1" r="1.35" class="s7"/>
<circle cx="409.6" cy="557.1" r="1.35" class="s6"/>
<circle cx="410.2" cy="551.8" r="1.35" class="s7"/>
<circle cx="410.0" cy="541.5" r="1.35" class="s7"/>
<circle cx="410.4" cy="558.6" r="1.35" class="s7"/>
<circle cx="410.4" cy="545.1" r="1.35" class="s8"/>
<circle cx="410.3" cy="555.9" r="1.35" class="s9"/>
<circle cx="410.3" cy="542.3" r="1.35" class="s9"/>
<circle cx="409.8" cy="555.9" r="1.35" class="s6"/>
<circle cx="410.9" cy="557.2" r="1.35" class="s7"/>
<circle cx="410.8" cy="544.4" r="1.35" class="s8"/>
<circle cx="417.1" cy="547.5" r="1.35" class="s7"/>
<circle cx="417.7" cy="556.9" r="1.35" class="s5"/>
<circle cx="416.5" cy="558.5" r="1.35" class="s6"/>
<circle cx="416.7" cy="561.7" r="1.35" class="s6"/>
<circle cx="417.4" cy="542.7" r="1.35" class="s6"/>
<circle cx="416.4" cy="567.9" r="1.35" class="s9"/>
<circle cx="416.6" cy="552.2" r="1.35" class="s7"/>
<circle cx="416.7" cy="544.2" r="1.35" class="s9"/>
<circle cx="416.0" cy="553.3" r="1.35" class="s9"/>
<circle cx="416.8" cy="550.4" r="1.35" class="s5"/>
<circle cx="417.4" cy="545.6" r="1.35" class="s7"/>
<circle cx="417.1" cy="546.3" r="1.35" class="s10"/>
<circle cx="416.6" cy="567.3" r="1.35" class="s5"/>
<circle cx="416.8" cy="556.7" r="1.35" class="s5"/>
<circle cx="416.1" cy="555.8" r="1.35" class="s8"/>
<circle cx="415.9" cy="550.0" r="1.35" class="s5"/>
<circle cx="417.5" cy="541.1" r="1.35" class="s5"/>
<circle cx="416.9" cy="554.8" r="1.35" class="s7"/>
<circle cx="416.9" cy="545.7" r="1.35" class="s8"/>
<circle cx="416.6" cy="548.4" r="1.35" class="s6"/>
<circle cx="421.3" cy="553.6" r="1.35" class="s9"/>
<circle cx="421.3" cy="544.4" r="1.35" class="s5"/>
<circle cx="420.4" cy="548.5" r="1.35" class="s10"/>
<circle cx="422.4" cy="554.6" r="1.35" class="s5"/>
<circle cx="421.1" cy="541.1" r="1.35" class="s8"/>
<circle cx="420.9" cy="545.1" r="1.35" class="s9"/>
<circle cx="420.1" cy="552.4" r="1.35" class="s6"/>
<circle cx="420.5" cy="570.1" r="1.35" class="s7"/>
<circle cx="422.5" cy="546.4" r="1.35" class="s9"/>
<circle cx="422.1" cy="559.0" r="1.35" class="s6"/>
<circle cx="421.2" cy="562.7" r="1.35" class="s9"/>
<circle cx="422.4" cy="553.4" r="1.35" class="s7"/>
<circle cx="421.9" cy="556.3" r="1.35" class="s6"/>
<circle cx="421.8" cy="558.5" r="1.35" class="s9"/>
<circle cx="419.9" cy="544.2" r="1.35" class="s7"/>
<circle cx="422.8" cy="549.8" r="1.35" class="s10"/>
<circle cx="421.8" cy="556.4" r="1.35" class="s5"/>
<circle cx="421.0" cy="556.9" r="1.35" class="s7"/>
<circle cx="421.6" cy="552.8" r="1.35" class="s9"/>
<circle cx="428.4" cy="555.5" r="1.35" class="s8"/>
<circle cx="429.6" cy="551.7" r="1.35" class="s5"/>
<circle cx="427.4" cy="558.7" r="1.35" class="s7"/>
<circle cx="428.1" cy="565.0" r="1.35" class="s10"/>
<circle cx="428.2" cy="563.6" r="1.35" class="s9"/>
<circle cx="428.4" cy="544.3" r="1.35" class="s9"/>
<circle cx="428.9" cy="545.2" r="1.35" class="s10"/>
<circle cx="427.4" cy="548.3" r="1.35" class="s6"/>
<circle cx="429.3" cy="558.2" r="1.35" class="s8"/>
<circle cx="427.8" cy="550.9" r="1.35" class="s6"/>
<circle cx="428.2" cy="571.6" r="1.35" class="s5"/>
<circle cx="428.4" cy="546.2" r="1.35" class="s8"/>
<circle cx="428.7" cy="543.6" r="1.35" class="s8"/>
<circle cx="428.5" cy="546.8" r="1.35" class="s9"/>
<circle cx="429.2" cy="550.3" r="1.35" class="s7"/>
<circle cx="428.6" cy="554.4" r="1.35" class="s8"/>
<circle cx="428.9" cy="542.0" r="1.35" class="s5"/>
<circle cx="429.1" cy="563.1" r="1.35" class="s6"/>
<circle cx="427.5" cy="548.8" r="1.35" class="s8"/>
<circle cx="429.0" cy="543.1" r="1.35" class="s6"/>
<circle cx="429.7" cy="549.2" r="1.35" class="s7"/>
<circle cx="429.0" cy="552.7" r="1.35" class="s6"/>
<circle cx="428.8" cy="552.6" r="1.35" class="s6"/>
<circle cx="429.3" cy="543.2" r="1.35" class="s7"/>
<circle cx="428.5" cy="556.1" r="1.35" class="s9"/>
<circle cx="429.6" cy="553.2" r="1.35" class="s7"/>
<circle cx="432.9" cy="542.4" r="1.35" class="s5"/>
<circle cx="432.8" cy="545.8" r="1.35" class="s5"/>
<circle cx="434.2" cy="548.0" r="1.35" class="s5"/>
<circle cx="434.1" cy="554.6" r="1.35" class="s10"/>
<circle cx="434.4" cy="557.7" r="1.35" class="s6"/>
<circle cx="433.8" cy="553.3" r="1.35" class="s8"/>
<circle cx="434.1" cy="542.5" r="1.35" class="s9"/>
<circle cx="433.2" cy="545.0" r="1.35" class="s8"/>
<circle cx="433.8" cy="553.1" r="1.35" class="s9"/>
<circle cx="433.5" cy="548.2" r="1.35" class="s9"/>
<circle cx="433.8" cy="541.6" r="1.35" class="s7"/>
<circle cx="433.3" cy="552.6" r="1.35" class="s9"/>
<circle cx="433.6" cy="543.9" r="1.35" class="s8"/>
<circle cx="434.3" cy="544.7" r="1.35" class="s10"/>
<circle cx="433.2" cy="552.5" r="1.35" class="s8"/>
<circle cx="434.7" cy="561.1" r="1.35" class="s10"/>
<circle cx="434.2" cy="565.7" r="1.35" class="s8"/>
<circle cx="433.3" cy="551.7" r="1.35" class="s5"/>
<circle cx="433.1" cy="559.0" r="1.35" class="s10"/>
<circle cx="433.6" cy="546.2" r="1.35" class="s5"/>
<circle cx="432.5" cy="545.0" r="1.35" class="s9"/>
<circle cx="432.7" cy="551.0" r="1.35" class="s10"/>
<circle cx="433.2" cy="569.6" r="1.35" class="s7"/>
<circle cx="433.0" cy="573.0" r="1.35" class="s6"/>
<circle cx="434.2" cy="571.5" r="1.35" class="s5"/>
<circle cx="433.5" cy="558.6" r="1.35" class="s7"/>
<circle cx="441.7" cy="542.9" r="1.35" class="s7"/>
<circle cx="441.3" cy="574.0" r="1.35" class="s6"/>
<circle cx="441.3" cy="545.9" r="1.35" class="s12"/>
<circle cx="442.0" cy="545.5" r="1.35" class="s7"/>
<circle cx="441.5" cy="545.0" r="1.35" class="s10"/>
<circle cx="441.8" cy="557.4" r="1.35" class="s9"/>
<circle cx="440.8" cy="558.7" r="1.35" class="s9"/>
<circle cx="442.4" cy="543.9" r="1.35" class="s11"/>
<circle cx="440.8" cy="547.9" r="1.35" class="s12"/>
<circle cx="441.0" cy="541.0" r="1.35" class="s10"/>
<circle cx="440.5" cy="550.9" r="1.35" class="s6"/>
<circle cx="442.0" cy="556.7" r="1.35" class="s9"/>
<circle cx="441.6" cy="553.4" r="1.35" class="s7"/>
<circle cx="441.7" cy="550.1" r="1.35" class="s11"/>
<circle cx="440.6" cy="557.6" r="1.35" class="s8"/>
<circle cx="442.1" cy="547.1" r="1.35" class="s10"/>
<circle cx="440.7" cy="557.6" r="1.35" class="s8"/>
<circle cx="441.5" cy="546.9" r="1.35" class="s7"/>
<circle cx="442.0" cy="547.8" r="1.35" class="s12"/>
<circle cx="442.8" cy="563.7" r="1.35" class="s13"/>
<circle cx="441.2" cy="557.1" r="1.35" class="s10"/>
<circle cx="440.7" cy="543.6" r="1.35" class="s11"/>
<circle cx="441.7" cy="544.6" r="1.35" class="s12"/>
<circle cx="443.4" cy="552.7" r="1.35" class="s6"/>
<circle cx="441.6" cy="552.4" r="1.35" class="s9"/>
<circle cx="442.6" cy="549.6" r="1.35" class="s6"/>
<circle cx="441.0" cy="546.8" r="1.35" class="s11"/>
<circle cx="448.0" cy="558.1" r="1.35" class="s6"/>
<circle cx="448.3" cy="562.2" r="1.35" class="s6"/>
<circle cx="448.3" cy="558.4" r="1.35" class="s5"/>
<circle cx="448.7" cy="557.0" r="1.35" class="s10"/>
<circle cx="448.2" cy="550.2" r="1.35" class="s7"/>
<circle cx="449.0" cy="548.7" r="1.35" class="s10"/>
<circle cx="447.7" cy="550.4" r="1.35" class="s10"/>
<circle cx="448.6" cy="554.4" r="1.35" class="s10"/>
<circle cx="448.9" cy="553.8" r="1.35" class="s8"/>
<circle cx="447.9" cy="556.8" r="1.35" class="s9"/>
<circle cx="449.0" cy="552.8" r="1.35" class="s8"/>
<circle cx="448.4" cy="550.3" r="1.35" class="s5"/>
<circle cx="448.3" cy="542.6" r="1.35" class="s9"/>
<circle cx="448.7" cy="559.3" r="1.35" class="s5"/>
<circle cx="449.1" cy="571.4" r="1.35" class="s9"/>
<circle cx="448.6" cy="546.1" r="1.35" class="s5"/>
<circle cx="449.4" cy="552.8" r="1.35" class="s9"/>
<circle cx="448.0" cy="553.3" r="1.35" class="s8"/>
<circle cx="448.3" cy="562.8" r="1.35" class="s6"/>
<circle cx="447.0" cy="546.7" r="1.35" class="s8"/>
<circle cx="449.2" cy="543.9" r="1.35" class="s5"/>
<circle cx="448.3" cy="547.4" r="1.35" class="s7"/>
<circle cx="456.9" cy="563.5" r="1.35" class="s9"/>
<circle cx="457.3" cy="549.4" r="1.35" class="s6"/>
<circle cx="456.9" cy="542.0" r="1.35" class="s8"/>
<circle cx="458.4" cy="544.4" r="1.35" class="s6"/>
<circle cx="457.5" cy="544.3" r="1.35" class="s7"/>
<circle cx="457.3" cy="552.2" r="1.35" class="s8"/>
<circle cx="457.0" cy="571.7" r="1.35" class="s7"/>
<circle cx="457.0" cy="552.2" r="1.35" class="s7"/>
<circle cx="456.8" cy="556.7" r="1.35" class="s9"/>
<circle cx="457.9" cy="567.3" r="1.35" class="s6"/>
<circle cx="458.7" cy="557.8" r="1.35" class="s7"/>
<circle cx="456.9" cy="554.6" r="1.35" class="s9"/>
<circle cx="457.7" cy="552.5" r="1.35" class="s12"/>
<circle cx="457.6" cy="554.1" r="1.35" class="s9"/>
<circle cx="457.5" cy="557.6" r="1.35" class="s6"/>
<circle cx="456.5" cy="547.1" r="1.35" class="s9"/>
<circle cx="458.1" cy="555.5" r="1.35" class="s11"/>
<circle cx="457.5" cy="555.2" r="1.35" class="s8"/>
<circle cx="457.0" cy="544.5" r="1.35" class="s12"/>
<circle cx="457.4" cy="572.5" r="1.35" class="s7"/>
<circle cx="457.3" cy="553.5" r="1.35" class="s10"/>
<circle cx="457.2" cy="552.0" r="1.35" class="s9"/>
<circle cx="458.6" cy="542.8" r="1.35" class="s7"/>
<circle cx="458.2" cy="546.6" r="1.35" class="s11"/>
<circle cx="457.5" cy="549.9" r="1.35" class="s7"/>
<circle cx="458.0" cy="541.3" r="1.35" class="s12"/>
<circle cx="457.9" cy="545.5" r="1.35" class="s9"/>
<circle cx="458.7" cy="550.8" r="1.35" class="s12"/>
<circle cx="456.5" cy="550.8" r="1.35" class="s8"/>
<circle cx="457.2" cy="566.8" r="1.35" class="s7"/>
<circle cx="457.3" cy="546.6" r="1.35" class="s7"/>
<circle cx="457.5" cy="571.8" r="1.35" class="s13"/>
<circle cx="458.3" cy="541.4" r="1.35" class="s9"/>
<circle cx="458.3" cy="547.4" r="1.35" class="s12"/>
<circle cx="457.0" cy="551.7" r="1.35" class="s8"/>
<circle cx="457.3" cy="557.8" r="1.35" class="s12"/>
<circle cx="457.4" cy="551.3" r="1.35" class="s12"/>
<circle cx="457.8" cy="545.7" r="1.35" class="s12"/>
<circle cx="462.6" cy="563.9" r="1.35" class="s7"/>
<circle cx="463.6" cy="548.9" r="1.35" class="s7"/>
<circle cx="461.7" cy="543.6" r="1.35" class="s8"/>
<circle cx="461.3" cy="548.9" r="1.35" class="s6"/>
<circle cx="463.4" cy="550.7" r="1.35" class="s7"/>
<circle cx="462.0" cy="542.2" r="1.35" class="s4"/>
<circle cx="463.5" cy="551.8" r="1.35" class="s6"/>
<circle cx="461.6" cy="551.7" r="1.35" class="s5"/>
<circle cx="463.8" cy="549.9" r="1.35" class="s4"/>
<circle cx="461.9" cy="551.9" r="1.35" class="s6"/>
<circle cx="462.6" cy="557.2" r="1.35" class="s5"/>
<circle cx="462.1" cy="545.0" r="1.35" class="s5"/>
<circle cx="462.5" cy="547.7" r="1.35" class="s7"/>
<circle cx="463.1" cy="572.1" r="1.35" class="s6"/>
<circle cx="463.7" cy="544.0" r="1.35" class="s6"/>
<circle cx="468.2" cy="548.1" r="1.35" class="s5"/>
<circle cx="469.1" cy="547.1" r="1.35" class="s8"/>
<circle cx="468.9" cy="557.1" r="1.35" class="s8"/>
<circle cx="469.0" cy="545.0" r="1.35" class="s10"/>
<circle cx="468.8" cy="556.4" r="1.35" class="s7"/>
<circle cx="469.2" cy="557.0" r="1.35" class="s9"/>
<circle cx="467.5" cy="556.1" r="1.35" class="s9"/>
<circle cx="468.6" cy="551.5" r="1.35" class="s10"/>
<circle cx="468.3" cy="565.2" r="1.35" class="s6"/>
<circle cx="469.1" cy="548.5" r="1.35" class="s6"/>
<circle cx="468.8" cy="566.0" r="1.35" class="s7"/>
<circle cx="469.4" cy="558.6" r="1.35" class="s8"/>
<circle cx="467.8" cy="569.3" r="1.35" class="s6"/>
<circle cx="468.0" cy="543.7" r="1.35" class="s10"/>
<circle cx="467.8" cy="551.2" r="1.35" class="s5"/>
<circle cx="468.0" cy="549.0" r="1.35" class="s10"/>
<circle cx="467.5" cy="545.7" r="1.35" class="s6"/>
<circle cx="469.1" cy="571.2" r="1.35" class="s10"/>
<circle cx="467.4" cy="550.0" r="1.35" class="s7"/>
<circle cx="468.7" cy="557.9" r="1.35" class="s9"/>
<circle cx="469.7" cy="559.6" r="1.35" class="s6"/>
<circle cx="468.5" cy="546.4" r="1.35" class="s6"/>
<circle cx="467.2" cy="545.4" r="1.35" class="s5"/>
<circle cx="467.4" cy="553.7" r="1.35" class="s7"/>
<circle cx="472.5" cy="543.7" r="1.35" class="s6"/>
<circle cx="472.7" cy="553.8" r="1.35" class="s12"/>
<circle cx="471.7" cy="555.8" r="1.35" class="s10"/>
<circle cx="472.5" cy="546.7" r="1.35" class="s10"/>
<circle cx="473.4" cy="545.5" r="1.35" class="s11"/>
<circle cx="472.0" cy="549.4" r="1.35" class="s8"/>
<circle cx="472.3" cy="543.6" r="1.35" class="s9"/>
<circle cx="472.2" cy="550.1" r="1.35" class="s11"/>
<circle cx="472.6" cy="564.5" r="1.35" class="s9"/>
<circle cx="472.6" cy="572.4" r="1.35" class="s6"/>
<circle cx="472.4" cy="562.6" r="1.35" class="s7"/>
<circle cx="475.0" cy="543.3" r="1.35" class="s12"/>
<circle cx="473.2" cy="564.3" r="1.35" class="s7"/>
<circle cx="472.0" cy="567.4" r="1.35" class="s9"/>
<circle cx="472.7" cy="541.8" r="1.35" class="s6"/>
<circle cx="472.7" cy="553.8" r="1.35" class="s6"/>
<circle cx="471.9" cy="541.5" r="1.35" class="s8"/>
<circle cx="472.4" cy="549.8" r="1.35" class="s7"/>
<circle cx="473.4" cy="541.6" r="1.35" class="s6"/>
<circle cx="473.4" cy="555.5" r="1.35" class="s9"/>
<circle cx="471.3" cy="547.9" r="1.35" class="s9"/>
<circle cx="472.4" cy="552.4" r="1.35" class="s8"/>
<circle cx="473.8" cy="551.1" r="1.35" class="s8"/>
<circle cx="471.8" cy="545.2" r="1.35" class="s8"/>
<circle cx="472.5" cy="561.1" r="1.35" class="s11"/>
<circle cx="472.6" cy="564.1" r="1.35" class="s9"/>
<circle cx="472.8" cy="548.9" r="1.35" class="s12"/>
<circle cx="472.9" cy="555.6" r="1.35" class="s11"/>
<circle cx="472.6" cy="566.3" r="1.35" class="s9"/>
<circle cx="472.5" cy="552.5" r="1.35" class="s7"/>
<circle cx="472.3" cy="550.4" r="1.35" class="s12"/>
<circle cx="472.6" cy="555.9" r="1.35" class="s10"/>
<circle cx="472.0" cy="553.2" r="1.35" class="s8"/>
<circle cx="472.5" cy="545.3" r="1.35" class="s12"/>
<circle cx="480.2" cy="571.6" r="1.35" class="s6"/>
<circle cx="480.1" cy="542.1" r="1.35" class="s10"/>
<circle cx="481.1" cy="544.3" r="1.35" class="s5"/>
<circle cx="479.3" cy="545.7" r="1.35" class="s9"/>
<circle cx="480.6" cy="550.3" r="1.35" class="s10"/>
<circle cx="480.2" cy="551.7" r="1.35" class="s10"/>
<circle cx="480.4" cy="558.9" r="1.35" class="s7"/>
<circle cx="481.3" cy="546.4" r="1.35" class="s6"/>
<circle cx="480.7" cy="552.5" r="1.35" class="s10"/>
<circle cx="479.9" cy="547.1" r="1.35" class="s10"/>
<circle cx="479.6" cy="555.7" r="1.35" class="s6"/>
<circle cx="479.8" cy="551.7" r="1.35" class="s5"/>
<circle cx="480.1" cy="564.5" r="1.35" class="s7"/>
<circle cx="480.1" cy="549.4" r="1.35" class="s6"/>
<circle cx="480.7" cy="558.2" r="1.35" class="s10"/>
<circle cx="480.1" cy="546.4" r="1.35" class="s10"/>
<circle cx="480.7" cy="558.2" r="1.35" class="s5"/>
<circle cx="480.9" cy="565.1" r="1.35" class="s8"/>
<circle cx="480.6" cy="549.2" r="1.35" class="s9"/>
<circle cx="479.4" cy="553.3" r="1.35" class="s10"/>
<circle cx="480.0" cy="541.6" r="1.35" class="s9"/>
<circle cx="478.9" cy="570.3" r="1.35" class="s8"/>
<circle cx="481.0" cy="543.7" r="1.35" class="s5"/>
<circle cx="479.9" cy="565.7" r="1.35" class="s9"/>
<circle cx="478.3" cy="551.5" r="1.35" class="s8"/>
<circle cx="480.7" cy="567.9" r="1.35" class="s10"/>
<circle cx="480.5" cy="553.1" r="1.35" class="s7"/>
<circle cx="487.7" cy="551.4" r="1.35" class="s6"/>
<circle cx="486.6" cy="566.9" r="1.35" class="s5"/>
<circle cx="488.1" cy="542.5" r="1.35" class="s8"/>
<circle cx="487.4" cy="552.6" r="1.35" class="s10"/>
<circle cx="487.0" cy="572.9" r="1.35" class="s8"/>
<circle cx="486.1" cy="552.0" r="1.35" class="s10"/>
<circle cx="486.2" cy="544.3" r="1.35" class="s10"/>
<circle cx="486.3" cy="552.0" r="1.35" class="s9"/>
<circle cx="486.9" cy="551.9" r="1.35" class="s7"/>
<circle cx="486.7" cy="545.0" r="1.35" class="s6"/>
<circle cx="487.2" cy="559.2" r="1.35" class="s5"/>
<circle cx="487.0" cy="551.2" r="1.35" class="s5"/>
<circle cx="487.9" cy="552.6" r="1.35" class="s6"/>
<circle cx="487.6" cy="571.3" r="1.35" class="s7"/>
<circle cx="487.2" cy="569.3" r="1.35" class="s5"/>
<circle cx="487.8" cy="552.6" r="1.35" class="s7"/>
<circle cx="486.6" cy="569.1" r="1.35" class="s10"/>
<circle cx="488.2" cy="560.1" r="1.35" class="s5"/>
<circle cx="487.5" cy="559.3" r="1.35" class="s9"/>
<circle cx="486.9" cy="553.8" r="1.35" class="s7"/>
<circle cx="487.8" cy="544.7" r="1.35" class="s6"/>
<circle cx="492.7" cy="544.6" r="1.35" class="s5"/>
<circle cx="492.6" cy="565.7" r="1.35" class="s7"/>
<circle cx="492.2" cy="562.8" r="1.35" class="s5"/>
<circle cx="493.2" cy="555.0" r="1.35" class="s5"/>
<circle cx="492.6" cy="543.8" r="1.35" class="s5"/>
<circle cx="493.0" cy="556.5" r="1.35" class="s4"/>
<circle cx="492.1" cy="554.0" r="1.35" class="s5"/>
<circle cx="493.1" cy="544.6" r="1.35" class="s6"/>
<circle cx="491.8" cy="542.0" r="1.35" class="s6"/>
<circle cx="492.2" cy="551.9" r="1.35" class="s6"/>
<circle cx="492.0" cy="549.8" r="1.35" class="s5"/>
<circle cx="491.9" cy="563.9" r="1.35" class="s4"/>
<circle cx="493.1" cy="544.9" r="1.35" class="s6"/>
<circle cx="492.8" cy="554.3" r="1.35" class="s4"/>
<circle cx="491.6" cy="542.5" r="1.35" class="s8"/>
<circle cx="353.5" cy="551.4" r="1.35" class="s4"/>
<circle cx="424.0" cy="557.7" r="1.35" class="s3"/>
<circle cx="462.5" cy="551.9" r="1.35" class="s2"/>
<circle cx="373.2" cy="553.6" r="1.35" class="s2"/>
<circle cx="424.6" cy="550.3" r="1.35" class="s3"/>
<circle cx="311.3" cy="552.7" r="1.35" class="s2"/>
<circle cx="327.9" cy="558.8" r="1.35" class="s2"/>
<circle cx="479.8" cy="549.9" r="1.35" class="s2"/>
<circle cx="322.9" cy="557.2" r="1.35" class="s2"/>
<circle cx="427.7" cy="549.7" r="1.35" class="s2"/>
<circle cx="320.4" cy="544.3" r="1.35" class="s2"/>
<circle cx="491.8" cy="545.3" r="1.35" class="s4"/>
<circle cx="345.4" cy="550.3" r="1.35" class="s2"/>
<circle cx="422.6" cy="546.3" r="1.35" class="s2"/>
<circle cx="322.1" cy="548.8" r="1.35" class="s2"/>
<circle cx="311.0" cy="547.6" r="1.35" class="s3"/>
<circle cx="340.8" cy="552.3" r="1.35" class="s3"/>
<circle cx="440.0" cy="558.8" r="1.35" class="s4"/>
<circle cx="359.8" cy="550.9" r="1.35" class="s4"/>
<circle cx="453.4" cy="554.7" r="1.35" class="s4"/>
<circle cx="393.4" cy="547.5" r="1.35" class="s3"/>
<circle cx="441.3" cy="548.7" r="1.35" class="s2"/>
<circle cx="468.7" cy="543.3" r="1.35" class="s4"/>
<circle cx="453.1" cy="549.5" r="1.35" class="s4"/>
<circle cx="324.1" cy="546.4" r="1.35" class="s2"/>
<circle cx="326.6" cy="548.8" r="1.35" class="s2"/>
<circle cx="435.7" cy="549.0" r="1.35" class="s3"/>
<circle cx="377.0" cy="546.5" r="1.35" class="s4"/>
<circle cx="327.3" cy="553.8" r="1.35" class="s2"/>
<circle cx="439.6" cy="547.5" r="1.35" class="s2"/>
<circle cx="451.3" cy="542.4" r="1.35" class="s3"/>
<circle cx="363.3" cy="544.7" r="1.35" class="s2"/>
<circle cx="469.3" cy="542.2" r="1.35" class="s4"/>
<circle cx="338.7" cy="551.8" r="1.35" class="s3"/>
<circle cx="428.4" cy="548.2" r="1.35" class="s3"/>
<circle cx="373.4" cy="551.9" r="1.35" class="s3"/>
<circle cx="357.2" cy="556.8" r="1.35" class="s4"/>
<circle cx="407.3" cy="553.0" r="1.35" class="s4"/>
<circle cx="440.9" cy="555.2" r="1.35" class="s2"/>
<circle cx="391.2" cy="557.1" r="1.35" class="s3"/>
<circle cx="440.3" cy="543.1" r="1.35" class="s2"/>
<circle cx="319.1" cy="545.4" r="1.35" class="s3"/>
<circle cx="433.9" cy="543.3" r="1.35" class="s4"/>
<circle cx="443.4" cy="557.0" r="1.35" class="s3"/>
<circle cx="407.3" cy="543.9" r="1.35" class="s3"/>
<circle cx="425.3" cy="558.6" r="1.35" class="s3"/>
<circle cx="329.8" cy="555.6" r="1.35" class="s4"/>
<circle cx="329.0" cy="557.7" r="1.35" class="s4"/>
<circle cx="449.4" cy="541.3" r="1.35" class="s4"/>
<circle cx="475.8" cy="542.9" r="1.35" class="s4"/>
<circle cx="459.1" cy="544.5" r="1.35" class="s2"/>
<circle cx="374.5" cy="552.5" r="1.35" class="s3"/>
<circle cx="392.6" cy="548.8" r="1.35" class="s2"/>
<circle cx="309.2" cy="548.7" r="1.35" class="s2"/>
<circle cx="316.6" cy="547.2" r="1.35" class="s3"/>
<circle cx="486.8" cy="550.2" r="1.35" class="s3"/>
<circle cx="307.8" cy="553.1" r="1.35" class="s3"/>
<circle cx="341.9" cy="555.0" r="1.35" class="s2"/>
<circle cx="331.8" cy="554.9" r="1.35" class="s4"/>
<circle cx="307.9" cy="554.3" r="1.35" class="s3"/>
<circle cx="460.6" cy="545.8" r="1.35" class="s3"/>
<circle cx="476.8" cy="544.9" r="1.35" class="s3"/>
<circle cx="371.1" cy="555.6" r="1.35" class="s2"/>
<circle cx="452.7" cy="544.9" r="1.35" class="s3"/>
<circle cx="409.1" cy="544.6" r="1.35" class="s2"/>
<circle cx="387.5" cy="557.6" r="1.35" class="s3"/>
<circle cx="477.3" cy="554.1" r="1.35" class="s2"/>
<circle cx="472.5" cy="553.1" r="1.35" class="s3"/>
<circle cx="420.2" cy="544.3" r="1.35" class="s3"/>
<circle cx="384.5" cy="557.3" r="1.35" class="s2"/>
<circle cx="371.2" cy="545.5" r="1.35" class="s4"/>
<circle cx="376.8" cy="557.8" r="1.35" class="s2"/>
<circle cx="462.0" cy="552.9" r="1.35" class="s4"/>
<circle cx="357.5" cy="547.0" r="1.35" class="s3"/>
<circle cx="351.4" cy="552.5" r="1.35" class="s4"/>
<circle cx="411.9" cy="544.0" r="1.35" class="s3"/>
<circle cx="475.2" cy="555.9" r="1.35" class="s3"/>
<circle cx="381.8" cy="542.5" r="1.35" class="s3"/>
<circle cx="358.1" cy="542.0" r="1.35" class="s2"/>
<circle cx="386.2" cy="543.3" r="1.35" class="s3"/>
<circle cx="388.8" cy="558.2" r="1.35" class="s2"/>
<circle cx="438.6" cy="549.3" r="1.35" class="s2"/>
<circle cx="305.8" cy="545.6" r="1.35" class="s2"/>
<circle cx="427.7" cy="547.9" r="1.35" class="s3"/>
<circle cx="317.2" cy="545.3" r="1.35" class="s3"/>
<circle cx="296.5" cy="547.9" r="1.35" class="s2"/>
<circle cx="471.6" cy="547.0" r="1.35" class="s4"/>
<circle cx="492.8" cy="545.5" r="1.35" class="s2"/>
<circle cx="333.0" cy="550.3" r="1.35" class="s2"/>
<circle cx="326.2" cy="548.0" r="1.35" class="s2"/>
<circle cx="316.5" cy="542.2" r="1.35" class="s3"/>
<circle cx="416.6" cy="547.4" r="1.35" class="s3"/>
<circle cx="398.6" cy="554.5" r="1.35" class="s2"/>
<circle cx="342.9" cy="554.5" r="1.35" class="s2"/>
<circle cx="451.2" cy="556.1" r="1.35" class="s3"/>
<circle cx="388.8" cy="550.5" r="1.35" class="s3"/>
<circle cx="315.7" cy="548.8" r="1.35" class="s2"/>
<circle cx="414.3" cy="548.0" r="1.35" class="s2"/>
<circle cx="301.5" cy="550.7" r="1.35" class="s2"/>
<circle cx="293.7" cy="551.2" r="1.35" class="s4"/>
<circle cx="427.1" cy="541.8" r="1.35" class="s4"/>
<circle cx="309.1" cy="547.9" r="1.35" class="s4"/>
<circle cx="343.6" cy="549.6" r="1.35" class="s3"/>
<circle cx="430.1" cy="549.0" r="1.35" class="s4"/>
<circle cx="293.9" cy="552.4" r="1.35" class="s3"/>
<circle cx="428.3" cy="543.9" r="1.35" class="s3"/>
<circle cx="438.5" cy="543.1" r="1.35" class="s3"/>
<circle cx="458.6" cy="554.4" r="1.35" class="s2"/>
<circle cx="341.4" cy="546.2" r="1.35" class="s4"/>
<circle cx="463.5" cy="541.5" r="1.35" class="s3"/>
<circle cx="301.5" cy="673.8" r="1.35" class="s10"/>
<circle cx="300.6" cy="663.4" r="1.35" class="s6"/>
<circle cx="300.4" cy="658.2" r="1.35" class="s6"/>
<circle cx="300.6" cy="675.5" r="1.35" class="s9"/>
<circle cx="301.0" cy="680.5" r="1.35" class="s8"/>
<circle cx="300.9" cy="684.0" r="1.35" class="s11"/>
<circle cx="301.2" cy="669.3" r="1.35" class="s11"/>
<circle cx="300.8" cy="686.9" r="1.35" class="s6"/>
<circle cx="301.2" cy="659.0" r="1.35" class="s6"/>
<circle cx="301.2" cy="665.1" r="1.35" class="s6"/>
<circle cx="301.2" cy="670.4" r="1.35" class="s11"/>
<circle cx="301.2" cy="683.3" r="1.35" class="s10"/>
<circle cx="301.1" cy="673.4" r="1.35" class="s9"/>
<circle cx="300.9" cy="674.7" r="1.35" class="s8"/>
<circle cx="301.5" cy="672.1" r="1.35" class="s11"/>
<circle cx="300.4" cy="664.1" r="1.35" class="s11"/>
<circle cx="301.4" cy="687.4" r="1.35" class="s8"/>
<circle cx="300.9" cy="669.3" r="1.35" class="s9"/>
<circle cx="301.1" cy="684.1" r="1.35" class="s5"/>
<circle cx="301.1" cy="662.4" r="1.35" class="s9"/>
<circle cx="301.6" cy="676.6" r="1.35" class="s10"/>
<circle cx="301.7" cy="676.9" r="1.35" class="s8"/>
<circle cx="301.1" cy="672.0" r="1.35" class="s6"/>
<circle cx="301.1" cy="658.7" r="1.35" class="s5"/>
<circle cx="300.7" cy="676.7" r="1.35" class="s7"/>
<circle cx="300.8" cy="657.2" r="1.35" class="s5"/>
<circle cx="301.5" cy="686.8" r="1.35" class="s8"/>
<circle cx="301.5" cy="674.1" r="1.35" class="s6"/>
<circle cx="300.7" cy="678.2" r="1.35" class="s9"/>
<circle cx="301.3" cy="658.7" r="1.35" class="s7"/>
<circle cx="309.4" cy="682.7" r="1.35" class="s9"/>
<circle cx="308.9" cy="671.4" r="1.35" class="s5"/>
<circle cx="308.9" cy="654.3" r="1.35" class="s9"/>
<circle cx="309.4" cy="674.8" r="1.35" class="s10"/>
<circle cx="309.0" cy="682.8" r="1.35" class="s7"/>
<circle cx="308.5" cy="680.9" r="1.35" class="s8"/>
<circle cx="309.7" cy="673.7" r="1.35" class="s6"/>
<circle cx="309.8" cy="670.3" r="1.35" class="s8"/>
<circle cx="308.3" cy="680.7" r="1.35" class="s11"/>
<circle cx="309.5" cy="669.6" r="1.35" class="s6"/>
<circle cx="309.3" cy="687.3" r="1.35" class="s6"/>
<circle cx="308.8" cy="672.5" r="1.35" class="s9"/>
<circle cx="308.7" cy="669.6" r="1.35" class="s7"/>
<circle cx="309.1" cy="673.3" r="1.35" class="s7"/>
<circle cx="308.6" cy="679.2" r="1.35" class="s8"/>
<circle cx="308.2" cy="684.7" r="1.35" class="s6"/>
<circle cx="308.5" cy="687.8" r="1.35" class="s6"/>
<circle cx="309.0" cy="664.1" r="1.35" class="s10"/>
<circle cx="307.9" cy="687.9" r="1.35" class="s9"/>
<circle cx="309.4" cy="678.1" r="1.35" class="s6"/>
<circle cx="309.4" cy="680.4" r="1.35" class="s5"/>
<circle cx="309.2" cy="672.8" r="1.35" class="s8"/>
<circle cx="308.9" cy="671.3" r="1.35" class="s7"/>
<circle cx="309.1" cy="672.3" r="1.35" class="s6"/>
<circle cx="309.4" cy="688.1" r="1.35" class="s11"/>
<circle cx="316.1" cy="670.7" r="1.35" class="s13"/>
<circle cx="316.3" cy="662.2" r="1.35" class="s14"/>
<circle cx="316.5" cy="685.8" r="1.35" class="s8"/>
<circle cx="316.8" cy="666.6" r="1.35" class="s7"/>
<circle cx="316.4" cy="658.2" r="1.35" class="s7"/>
<circle cx="316.5" cy="680.3" r="1.35" class="s11"/>
<circle cx="316.7" cy="683.3" r="1.35" class="s8"/>
<circle cx="316.4" cy="666.4" r="1.35" class="s7"/>
<circle cx="316.5" cy="680.4" r="1.35" class="s14"/>
<circle cx="316.8" cy="676.3" r="1.35" class="s8"/>
<circle cx="317.0" cy="669.2" r="1.35" class="s6"/>
<circle cx="316.5" cy="682.4" r="1.35" class="s8"/>
<circle cx="316.0" cy="654.9" r="1.35" class="s14"/>
<circle cx="316.2" cy="659.6" r="1.35" class="s13"/>
<circle cx="316.7" cy="658.7" r="1.35" class="s7"/>
<circle cx="317.4" cy="668.8" r="1.35" class="s12"/>
<circle cx="317.3" cy="671.9" r="1.35" class="s7"/>
<circle cx="316.9" cy="682.1" r="1.35" class="s7"/>
<circle cx="317.1" cy="674.6" r="1.35" class="s11"/>
<circle cx="316.5" cy="672.5" r="1.35" class="s10"/>
<circle cx="316.5" cy="677.0" r="1.35" class="s11"/>
<circle cx="316.6" cy="672.0" r="1.35" class="s11"/>
<circle cx="316.7" cy="685.3" r="1.35" class="s11"/>
<circle cx="316.9" cy="681.9" r="1.35" class="s10"/>
<circle cx="316.1" cy="661.7" r="1.35" class="s10"/>
<circle cx="316.3" cy="677.7" r="1.35" class="s13"/>
<circle cx="315.8" cy="666.0" r="1.35" class="s13"/>
<circle cx="317.0" cy="684.9" r="1.35" class="s10"/>
<circle cx="316.6" cy="654.9" r="1.35" class="s7"/>
<circle cx="316.0" cy="685.2" r="1.35" class="s13"/>
<circle cx="317.2" cy="664.6" r="1.35" class="s7"/>
<circle cx="316.5" cy="676.8" r="1.35" class="s8"/>
<circle cx="316.1" cy="670.2" r="1.35" class="s9"/>
<circle cx="316.7" cy="675.0" r="1.35" class="s9"/>
<circle cx="316.0" cy="682.5" r="1.35" class="s13"/>
<circle cx="316.8" cy="682.9" r="1.35" class="s9"/>
<circle cx="316.8" cy="668.1" r="1.35" class="s7"/>
<circle cx="316.4" cy="669.7" r="1.35" class="s7"/>
<circle cx="322.7" cy="671.6" r="1.35" class="s6"/>
<circle cx="322.9" cy="685.4" r="1.35" class="s4"/>
<circle cx="322.6" cy="669.4" r="1.35" class="s5"/>
<circle cx="322.9" cy="677.1" r="1.35" class="s9"/>
<circle cx="322.8" cy="672.3" r="1.35" class="s7"/>
<circle cx="322.7" cy="686.1" r="1.35" class="s5"/>
<circle cx="323.2" cy="664.1" r="1.35" class="s8"/>
<circle cx="322.9" cy="659.9" r="1.35" class="s8"/>
<circle cx="322.8" cy="675.3" r="1.35" class="s8"/>
<circle cx="322.6" cy="685.3" r="1.35" class="s6"/>
<circle cx="322.8" cy="688.4" r="1.35" class="s8"/>
<circle cx="323.4" cy="663.9" r="1.35" class="s5"/>
<circle cx="323.1" cy="680.3" r="1.35" class="s7"/>
<circle cx="323.1" cy="667.5" r="1.35" class="s7"/>
<circle cx="323.5" cy="686.0" r="1.35" class="s8"/>
<circle cx="323.6" cy="671.9" r="1.35" class="s4"/>
<circle cx="323.2" cy="685.6" r="1.35" class="s6"/>
<circle cx="322.5" cy="686.7" r="1.35" class="s5"/>
<circle cx="337.1" cy="664.2" r="1.35" class="s11"/>
<circle cx="336.6" cy="661.8" r="1.35" class="s11"/>
<circle cx="336.9" cy="682.0" r="1.35" class="s11"/>
<circle cx="336.6" cy="657.9" r="1.35" class="s8"/>
<circle cx="336.6" cy="683.8" r="1.35" class="s9"/>
<circle cx="337.0" cy="676.0" r="1.35" class="s9"/>
<circle cx="336.4" cy="662.5" r="1.35" class="s8"/>
<circle cx="336.6" cy="681.3" r="1.35" class="s10"/>
<circle cx="337.3" cy="675.8" r="1.35" class="s5"/>
<circle cx="337.2" cy="673.9" r="1.35" class="s10"/>
<circle cx="337.9" cy="668.0" r="1.35" class="s6"/>
<circle cx="337.1" cy="687.5" r="1.35" class="s8"/>
<circle cx="336.6" cy="675.5" r="1.35" class="s11"/>
<circle cx="336.5" cy="680.0" r="1.35" class="s9"/>
<circle cx="337.0" cy="674.5" r="1.35" class="s8"/>
<circle cx="336.9" cy="679.0" r="1.35" class="s8"/>
<circle cx="336.4" cy="686.8" r="1.35" class="s8"/>
<circle cx="337.4" cy="669.9" r="1.35" class="s11"/>
<circle cx="336.8" cy="680.2" r="1.35" class="s9"/>
<circle cx="336.9" cy="683.9" r="1.35" class="s10"/>
<circle cx="336.8" cy="681.9" r="1.35" class="s9"/>
<circle cx="341.7" cy="679.0" r="1.35" class="s10"/>
<circle cx="342.3" cy="684.8" r="1.35" class="s6"/>
<circle cx="341.2" cy="670.1" r="1.35" class="s7"/>
<circle cx="341.2" cy="684.0" r="1.35" class="s6"/>
<circle cx="341.5" cy="671.1" r="1.35" class="s11"/>
<circle cx="341.7" cy="665.3" r="1.35" class="s5"/>
<circle cx="341.6" cy="682.2" r="1.35" class="s8"/>
<circle cx="341.5" cy="684.9" r="1.35" class="s7"/>
<circle cx="341.6" cy="659.2" r="1.35" class="s8"/>
<circle cx="341.7" cy="673.1" r="1.35" class="s8"/>
<circle cx="341.1" cy="659.1" r="1.35" class="s7"/>
<circle cx="342.1" cy="661.4" r="1.35" class="s11"/>
<circle cx="341.2" cy="671.0" r="1.35" class="s7"/>
<circle cx="341.1" cy="685.3" r="1.35" class="s9"/>
<circle cx="341.1" cy="678.6" r="1.35" class="s10"/>
<circle cx="341.4" cy="686.2" r="1.35" class="s7"/>
<circle cx="342.2" cy="687.0" r="1.35" class="s8"/>
<circle cx="340.8" cy="681.4" r="1.35" class="s8"/>
<circle cx="341.6" cy="655.8" r="1.35" class="s9"/>
<circle cx="341.3" cy="673.0" r="1.35" class="s10"/>
<circle cx="341.0" cy="670.0" r="1.35" class="s10"/>
<circle cx="341.0" cy="685.2" r="1.35" class="s10"/>
<circle cx="341.6" cy="671.7" r="1.35" class="s10"/>
<circle cx="341.4" cy="665.5" r="1.35" class="s10"/>
<circle cx="341.6" cy="673.1" r="1.35" class="s6"/>
<circle cx="340.9" cy="682.6" r="1.35" class="s10"/>
<circle cx="348.5" cy="683.0" r="1.35" class="s10"/>
<circle cx="348.3" cy="654.3" r="1.35" class="s14"/>
<circle cx="349.1" cy="668.1" r="1.35" class="s8"/>
<circle cx="348.5" cy="683.0" r="1.35" class="s10"/>
<circle cx="348.6" cy="674.4" r="1.35" class="s11"/>
<circle cx="347.8" cy="671.4" r="1.35" class="s12"/>
<circle cx="348.6" cy="686.7" r="1.35" class="s11"/>
<circle cx="347.6" cy="678.0" r="1.35" class="s8"/>
<circle cx="347.8" cy="677.2" r="1.35" class="s7"/>
<circle cx="348.2" cy="686.6" r="1.35" class="s9"/>
<circle cx="348.3" cy="677.4" r="1.35" class="s9"/>
<circle cx="348.0" cy="673.4" r="1.35" class="s10"/>
<circle cx="347.9" cy="679.0" r="1.35" class="s8"/>
<circle cx="348.5" cy="660.3" r="1.35" class="s12"/>
<circle cx="348.1" cy="681.2" r="1.35" class="s7"/>
<circle cx="348.4" cy="687.5" r="1.35" class="s8"/>
<circle cx="348.7" cy="673.5" r="1.35" class="s12"/>
<circle cx="347.6" cy="677.6" r="1.35" class="s13"/>
<circle cx="348.7" cy="679.0" r="1.35" class="s9"/>
<circle cx="348.2" cy="659.1" r="1.35" class="s13"/>
<circle cx="348.4" cy="673.7" r="1.35" class="s9"/>
<circle cx="347.6" cy="658.3" r="1.35" class="s11"/>
<circle cx="348.3" cy="687.7" r="1.35" class="s10"/>
<circle cx="348.2" cy="680.4" r="1.35" class="s11"/>
<circle cx="348.6" cy="673.0" r="1.35" class="s10"/>
<circle cx="348.3" cy="676.2" r="1.35" class="s13"/>
<circle cx="348.4" cy="676.2" r="1.35" class="s13"/>
<circle cx="348.5" cy="681.0" r="1.35" class="s11"/>
<circle cx="347.5" cy="673.6" r="1.35" class="s14"/>
<circle cx="353.3" cy="672.8" r="1.35" class="s11"/>
<circle cx="353.2" cy="680.8" r="1.35" class="s7"/>
<circle cx="353.7" cy="670.2" r="1.35" class="s9"/>
<circle cx="353.3" cy="660.8" r="1.35" class="s6"/>
<circle cx="353.3" cy="674.9" r="1.35" class="s7"/>
<circle cx="353.4" cy="685.4" r="1.35" class="s11"/>
<circle cx="354.2" cy="685.5" r="1.35" class="s9"/>
<circle cx="353.2" cy="676.7" r="1.35" class="s7"/>
<circle cx="352.9" cy="685.1" r="1.35" class="s9"/>
<circle cx="353.1" cy="688.3" r="1.35" class="s11"/>
<circle cx="353.5" cy="680.1" r="1.35" class="s10"/>
<circle cx="352.9" cy="681.8" r="1.35" class="s9"/>
<circle cx="352.2" cy="678.1" r="1.35" class="s10"/>
<circle cx="353.1" cy="674.7" r="1.35" class="s7"/>
<circle cx="353.2" cy="679.0" r="1.35" class="s11"/>
<circle cx="352.8" cy="673.5" r="1.35" class="s9"/>
<circle cx="352.6" cy="684.4" r="1.35" class="s7"/>
<circle cx="353.3" cy="682.2" r="1.35" class="s11"/>
<circle cx="353.4" cy="655.5" r="1.35" class="s9"/>
<circle cx="353.4" cy="676.5" r="1.35" class="s8"/>
<circle cx="353.0" cy="670.8" r="1.35" class="s11"/>
<circle cx="353.2" cy="682.3" r="1.35" class="s6"/>
<circle cx="352.8" cy="678.3" r="1.35" class="s6"/>
<circle cx="353.0" cy="687.3" r="1.35" class="s10"/>
<circle cx="352.6" cy="658.3" r="1.35" class="s11"/>
<circle cx="352.5" cy="685.7" r="1.35" class="s9"/>
<circle cx="352.9" cy="676.0" r="1.35" class="s11"/>
<circle cx="360.3" cy="654.8" r="1.35" class="s7"/>
<circle cx="360.8" cy="672.7" r="1.35" class="s7"/>
<circle cx="359.9" cy="686.2" r="1.35" class="s8"/>
<circle cx="360.6" cy="679.7" r="1.35" class="s9"/>
<circle cx="360.1" cy="668.4" r="1.35" class="s8"/>
<circle cx="360.2" cy="679.5" r="1.35" class="s9"/>
<circle cx="360.4" cy="682.3" r="1.35" class="s11"/>
<circle cx="360.2" cy="679.4" r="1.35" class="s9"/>
<circle cx="360.0" cy="686.8" r="1.35" class="s11"/>
<circle cx="361.0" cy="682.8" r="1.35" class="s11"/>
<circle cx="360.8" cy="675.7" r="1.35" class="s9"/>
<circle cx="361.1" cy="667.0" r="1.35" class="s11"/>
<circle cx="360.5" cy="677.5" r="1.35" class="s8"/>
<circle cx="359.9" cy="684.3" r="1.35" class="s7"/>
<circle cx="360.2" cy="670.1" r="1.35" class="s10"/>
<circle cx="360.8" cy="687.6" r="1.35" class="s8"/>
<circle cx="361.0" cy="660.0" r="1.35" class="s9"/>
<circle cx="360.3" cy="682.9" r="1.35" class="s10"/>
<circle cx="360.3" cy="686.8" r="1.35" class="s10"/>
<circle cx="360.3" cy="670.9" r="1.35" class="s9"/>
<circle cx="371.2" cy="674.1" r="1.35" class="s9"/>
<circle cx="370.7" cy="670.0" r="1.35" class="s9"/>
<circle cx="371.2" cy="687.2" r="1.35" class="s8"/>
<circle cx="371.3" cy="674.9" r="1.35" class="s6"/>
<circle cx="371.2" cy="684.1" r="1.35" class="s7"/>
<circle cx="371.4" cy="674.1" r="1.35" class="s7"/>
<circle cx="371.0" cy="662.0" r="1.35" class="s11"/>
<circle cx="371.1" cy="671.4" r="1.35" class="s10"/>
<circle cx="371.3" cy="676.0" r="1.35" class="s10"/>
<circle cx="370.3" cy="676.3" r="1.35" class="s10"/>
<circle cx="371.5" cy="677.2" r="1.35" class="s7"/>
<circle cx="371.5" cy="685.1" r="1.35" class="s10"/>
<circle cx="370.8" cy="673.6" r="1.35" class="s7"/>
<circle cx="370.8" cy="688.1" r="1.35" class="s6"/>
<circle cx="371.1" cy="662.7" r="1.35" class="s6"/>
<circle cx="370.9" cy="678.2" r="1.35" class="s5"/>
<circle cx="371.1" cy="679.2" r="1.35" class="s8"/>
<circle cx="371.3" cy="675.5" r="1.35" class="s10"/>
<circle cx="371.0" cy="687.5" r="1.35" class="s6"/>
<circle cx="370.9" cy="687.5" r="1.35" class="s10"/>
<circle cx="371.3" cy="669.7" r="1.35" class="s7"/>
<circle cx="373.8" cy="678.2" r="1.35" class="s11"/>
<circle cx="374.5" cy="657.3" r="1.35" class="s9"/>
<circle cx="374.3" cy="677.0" r="1.35" class="s10"/>
<circle cx="374.5" cy="655.5" r="1.35" class="s9"/>
<circle cx="374.3" cy="671.1" r="1.35" class="s7"/>
<circle cx="374.2" cy="658.7" r="1.35" class="s11"/>
<circle cx="374.0" cy="656.1" r="1.35" class="s11"/>
<circle cx="375.0" cy="654.5" r="1.35" class="s10"/>
<circle cx="374.1" cy="673.5" r="1.35" class="s5"/>
<circle cx="374.2" cy="679.4" r="1.35" class="s9"/>
<circle cx="374.6" cy="669.8" r="1.35" class="s11"/>
<circle cx="374.6" cy="668.2" r="1.35" class="s6"/>
<circle cx="374.1" cy="687.3" r="1.35" class="s8"/>
<circle cx="374.0" cy="681.2" r="1.35" class="s11"/>
<circle cx="375.0" cy="681.9" r="1.35" class="s8"/>
<circle cx="374.7" cy="677.3" r="1.35" class="s8"/>
<circle cx="374.4" cy="672.9" r="1.35" class="s10"/>
<circle cx="374.3" cy="677.8" r="1.35" class="s7"/>
<circle cx="374.3" cy="656.9" r="1.35" class="s6"/>
<circle cx="374.2" cy="667.1" r="1.35" class="s10"/>
<circle cx="375.3" cy="672.9" r="1.35" class="s6"/>
<circle cx="374.5" cy="657.8" r="1.35" class="s7"/>
<circle cx="373.8" cy="660.3" r="1.35" class="s9"/>
<circle cx="378.8" cy="676.6" r="1.35" class="s8"/>
<circle cx="378.8" cy="658.7" r="1.35" class="s4"/>
<circle cx="378.8" cy="663.6" r="1.35" class="s6"/>
<circle cx="379.1" cy="655.3" r="1.35" class="s7"/>
<circle cx="378.7" cy="665.5" r="1.35" class="s4"/>
<circle cx="378.4" cy="671.6" r="1.35" class="s8"/>
<circle cx="378.0" cy="666.5" r="1.35" class="s7"/>
<circle cx="378.6" cy="659.5" r="1.35" class="s5"/>
<circle cx="379.1" cy="666.6" r="1.35" class="s6"/>
<circle cx="378.3" cy="677.5" r="1.35" class="s6"/>
<circle cx="378.4" cy="659.5" r="1.35" class="s6"/>
<circle cx="378.9" cy="659.1" r="1.35" class="s7"/>
<circle cx="384.8" cy="673.9" r="1.35" class="s4"/>
<circle cx="384.9" cy="670.0" r="1.35" class="s6"/>
<circle cx="384.3" cy="663.7" r="1.35" class="s7"/>
<circle cx="384.4" cy="659.2" r="1.35" class="s4"/>
<circle cx="384.7" cy="673.4" r="1.35" class="s8"/>
<circle cx="384.9" cy="664.2" r="1.35" class="s5"/>
<circle cx="384.3" cy="670.3" r="1.35" class="s6"/>
<circle cx="384.2" cy="684.6" r="1.35" class="s8"/>
<circle cx="384.3" cy="679.3" r="1.35" class="s8"/>
<circle cx="384.5" cy="687.5" r="1.35" class="s5"/>
<circle cx="384.9" cy="675.9" r="1.35" class="s5"/>
<circle cx="384.7" cy="672.8" r="1.35" class="s7"/>
<circle cx="384.2" cy="676.8" r="1.35" class="s8"/>
<circle cx="384.5" cy="682.1" r="1.35" class="s6"/>
<circle cx="385.6" cy="672.9" r="1.35" class="s5"/>
<circle cx="384.4" cy="672.2" r="1.35" class="s6"/>
<circle cx="384.9" cy="682.1" r="1.35" class="s8"/>
<circle cx="393.8" cy="661.3" r="1.35" class="s14"/>
<circle cx="393.4" cy="683.7" r="1.35" class="s14"/>
<circle cx="393.9" cy="662.8" r="1.35" class="s12"/>
<circle cx="393.5" cy="675.1" r="1.35" class="s7"/>
<circle cx="393.8" cy="668.7" r="1.35" class="s8"/>
<circle cx="393.4" cy="682.4" r="1.35" class="s6"/>
<circle cx="393.6" cy="682.7" r="1.35" class="s12"/>
<circle cx="394.4" cy="677.9" r="1.35" class="s12"/>
<circle cx="393.8" cy="688.3" r="1.35" class="s12"/>
<circle cx="393.5" cy="670.0" r="1.35" class="s11"/>
<circle cx="393.8" cy="656.3" r="1.35" class="s11"/>
<circle cx="394.6" cy="672.0" r="1.35" class="s9"/>
<circle cx="393.8" cy="682.6" r="1.35" class="s9"/>
<circle cx="394.0" cy="677.8" r="1.35" class="s8"/>
<circle cx="393.9" cy="685.2" r="1.35" class="s13"/>
<circle cx="394.1" cy="682.0" r="1.35" class="s8"/>
<circle cx="393.1" cy="670.2" r="1.35" class="s6"/>
<circle cx="393.8" cy="660.9" r="1.35" class="s12"/>
<circle cx="393.2" cy="687.6" r="1.35" class="s9"/>
<circle cx="394.3" cy="685.3" r="1.35" class="s8"/>
<circle cx="393.8" cy="672.9" r="1.35" class="s7"/>
<circle cx="394.0" cy="670.8" r="1.35" class="s11"/>
<circle cx="394.0" cy="682.8" r="1.35" class="s7"/>
<circle cx="393.1" cy="685.0" r="1.35" class="s13"/>
<circle cx="393.9" cy="682.7" r="1.35" class="s13"/>
<circle cx="393.4" cy="674.7" r="1.35" class="s12"/>
<circle cx="394.0" cy="663.2" r="1.35" class="s11"/>
<circle cx="394.2" cy="682.0" r="1.35" class="s9"/>
<circle cx="393.7" cy="661.6" r="1.35" class="s11"/>
<circle cx="394.3" cy="682.4" r="1.35" class="s14"/>
<circle cx="394.5" cy="676.5" r="1.35" class="s11"/>
<circle cx="394.2" cy="683.1" r="1.35" class="s7"/>
<circle cx="393.9" cy="680.3" r="1.35" class="s8"/>
<circle cx="393.2" cy="671.1" r="1.35" class="s13"/>
<circle cx="393.3" cy="671.5" r="1.35" class="s9"/>
<circle cx="393.5" cy="675.4" r="1.35" class="s7"/>
<circle cx="392.9" cy="676.0" r="1.35" class="s9"/>
<circle cx="394.0" cy="671.3" r="1.35" class="s13"/>
<circle cx="393.5" cy="681.8" r="1.35" class="s7"/>
<circle cx="394.8" cy="682.5" r="1.35" class="s10"/>
<circle cx="400.5" cy="684.4" r="1.35" class="s8"/>
<circle cx="400.9" cy="671.5" r="1.35" class="s7"/>
<circle cx="400.4" cy="657.2" r="1.35" class="s9"/>
<circle cx="401.0" cy="673.1" r="1.35" class="s9"/>
<circle cx="401.3" cy="678.3" r="1.35" class="s8"/>
<circle cx="400.8" cy="672.8" r="1.35" class="s10"/>
<circle cx="401.5" cy="670.8" r="1.35" class="s11"/>
<circle cx="401.1" cy="673.4" r="1.35" class="s8"/>
<circle cx="401.4" cy="661.1" r="1.35" class="s8"/>
<circle cx="400.5" cy="655.8" r="1.35" class="s6"/>
<circle cx="400.8" cy="682.8" r="1.35" class="s10"/>
<circle cx="401.3" cy="661.3" r="1.35" class="s6"/>
<circle cx="400.5" cy="682.9" r="1.35" class="s9"/>
<circle cx="400.5" cy="688.0" r="1.35" class="s9"/>
<circle cx="401.2" cy="667.1" r="1.35" class="s7"/>
<circle cx="400.8" cy="663.3" r="1.35" class="s9"/>
<circle cx="400.7" cy="683.2" r="1.35" class="s9"/>
<circle cx="400.7" cy="669.6" r="1.35" class="s8"/>
<circle cx="401.0" cy="675.9" r="1.35" class="s8"/>
<circle cx="400.7" cy="657.0" r="1.35" class="s8"/>
<circle cx="400.9" cy="685.3" r="1.35" class="s11"/>
<circle cx="400.9" cy="682.8" r="1.35" class="s8"/>
<circle cx="402.0" cy="672.6" r="1.35" class="s6"/>
<circle cx="401.7" cy="661.6" r="1.35" class="s11"/>
<circle cx="401.2" cy="669.4" r="1.35" class="s9"/>
<circle cx="400.7" cy="686.6" r="1.35" class="s8"/>
<circle cx="411.6" cy="678.9" r="1.35" class="s8"/>
<circle cx="411.3" cy="680.7" r="1.35" class="s7"/>
<circle cx="411.9" cy="662.8" r="1.35" class="s12"/>
<circle cx="410.9" cy="657.7" r="1.35" class="s10"/>
<circle cx="410.5" cy="656.5" r="1.35" class="s8"/>
<circle cx="411.4" cy="682.8" r="1.35" class="s9"/>
<circle cx="411.4" cy="672.1" r="1.35" class="s9"/>
<circle cx="411.0" cy="680.0" r="1.35" class="s13"/>
<circle cx="411.5" cy="676.8" r="1.35" class="s12"/>
<circle cx="411.2" cy="678.5" r="1.35" class="s6"/>
<circle cx="412.1" cy="668.0" r="1.35" class="s9"/>
<circle cx="412.0" cy="683.8" r="1.35" class="s12"/>
<circle cx="411.1" cy="678.9" r="1.35" class="s14"/>
<circle cx="411.6" cy="665.1" r="1.35" class="s12"/>
<circle cx="410.9" cy="661.2" r="1.35" class="s9"/>
<circle cx="411.3" cy="657.5" r="1.35" class="s11"/>
<circle cx="411.6" cy="685.8" r="1.35" class="s12"/>
<circle cx="411.0" cy="670.5" r="1.35" class="s10"/>
<circle cx="411.0" cy="658.0" r="1.35" class="s13"/>
<circle cx="411.2" cy="660.7" r="1.35" class="s9"/>
<circle cx="412.4" cy="671.3" r="1.35" class="s11"/>
<circle cx="410.9" cy="669.1" r="1.35" class="s12"/>
<circle cx="411.5" cy="680.4" r="1.35" class="s7"/>
<circle cx="411.7" cy="686.0" r="1.35" class="s8"/>
<circle cx="411.6" cy="686.1" r="1.35" class="s12"/>
<circle cx="411.8" cy="674.0" r="1.35" class="s8"/>
<circle cx="412.4" cy="669.9" r="1.35" class="s6"/>
<circle cx="411.0" cy="677.9" r="1.35" class="s9"/>
<circle cx="411.3" cy="666.9" r="1.35" class="s12"/>
<circle cx="410.9" cy="658.5" r="1.35" class="s9"/>
<circle cx="411.9" cy="676.0" r="1.35" class="s10"/>
<circle cx="412.1" cy="664.2" r="1.35" class="s13"/>
<circle cx="418.2" cy="687.1" r="1.35" class="s8"/>
<circle cx="418.0" cy="658.3" r="1.35" class="s8"/>
<circle cx="417.8" cy="668.7" r="1.35" class="s10"/>
<circle cx="417.2" cy="688.0" r="1.35" class="s10"/>
<circle cx="417.8" cy="672.0" r="1.35" class="s9"/>
<circle cx="418.1" cy="683.9" r="1.35" class="s7"/>
<circle cx="417.8" cy="654.8" r="1.35" class="s8"/>
<circle cx="417.7" cy="666.6" r="1.35" class="s6"/>
<circle cx="418.1" cy="683.4" r="1.35" class="s10"/>
<circle cx="417.7" cy="655.0" r="1.35" class="s8"/>
<circle cx="417.4" cy="670.0" r="1.35" class="s10"/>
<circle cx="417.7" cy="682.9" r="1.35" class="s8"/>
<circle cx="417.5" cy="660.8" r="1.35" class="s7"/>
<circle cx="417.9" cy="687.0" r="1.35" class="s5"/>
<circle cx="418.0" cy="686.5" r="1.35" class="s6"/>
<circle cx="417.8" cy="677.6" r="1.35" class="s11"/>
<circle cx="417.3" cy="676.7" r="1.35" class="s6"/>
<circle cx="417.3" cy="686.1" r="1.35" class="s7"/>
<circle cx="418.6" cy="680.4" r="1.35" class="s7"/>
<circle cx="418.3" cy="687.8" r="1.35" class="s7"/>
<circle cx="418.0" cy="662.9" r="1.35" class="s11"/>
<circle cx="417.3" cy="654.8" r="1.35" class="s10"/>
<circle cx="418.2" cy="672.4" r="1.35" class="s11"/>
<circle cx="418.3" cy="660.3" r="1.35" class="s8"/>
<circle cx="417.7" cy="680.2" r="1.35" class="s8"/>
<circle cx="417.9" cy="666.1" r="1.35" class="s7"/>
<circle cx="418.1" cy="682.8" r="1.35" class="s9"/>
<circle cx="417.6" cy="671.1" r="1.35" class="s9"/>
<circle cx="416.9" cy="685.2" r="1.35" class="s11"/>
<circle cx="417.4" cy="677.5" r="1.35" class="s11"/>
<circle cx="422.8" cy="670.2" r="1.35" class="s10"/>
<circle cx="423.2" cy="657.4" r="1.35" class="s6"/>
<circle cx="423.0" cy="680.6" r="1.35" class="s7"/>
<circle cx="422.7" cy="657.6" r="1.35" class="s11"/>
<circle cx="422.6" cy="676.9" r="1.35" class="s10"/>
<circle cx="421.7" cy="681.5" r="1.35" class="s5"/>
<circle cx="422.7" cy="674.1" r="1.35" class="s6"/>
<circle cx="422.4" cy="685.8" r="1.35" class="s9"/>
<circle cx="423.2" cy="680.9" r="1.35" class="s6"/>
<circle cx="423.4" cy="655.0" r="1.35" class="s7"/>
<circle cx="422.0" cy="657.0" r="1.35" class="s9"/>
<circle cx="423.0" cy="680.4" r="1.35" class="s10"/>
<circle cx="422.4" cy="684.2" r="1.35" class="s10"/>
<circle cx="422.3" cy="670.9" r="1.35" class="s7"/>
<circle cx="422.7" cy="666.2" r="1.35" class="s6"/>
<circle cx="422.5" cy="670.9" r="1.35" class="s11"/>
<circle cx="422.4" cy="684.4" r="1.35" class="s8"/>
<circle cx="421.9" cy="678.1" r="1.35" class="s9"/>
<circle cx="422.6" cy="674.6" r="1.35" class="s7"/>
<circle cx="422.3" cy="681.5" r="1.35" class="s10"/>
<circle cx="422.1" cy="677.1" r="1.35" class="s7"/>
<circle cx="423.9" cy="669.8" r="1.35" class="s7"/>
<circle cx="423.3" cy="667.6" r="1.35" class="s10"/>
<circle cx="423.4" cy="675.3" r="1.35" class="s11"/>
<circle cx="423.1" cy="673.5" r="1.35" class="s11"/>
<circle cx="422.7" cy="662.7" r="1.35" class="s7"/>
<circle cx="422.6" cy="673.8" r="1.35" class="s10"/>
<circle cx="422.6" cy="684.4" r="1.35" class="s7"/>
<circle cx="427.3" cy="681.5" r="1.35" class="s8"/>
<circle cx="426.8" cy="683.1" r="1.35" class="s8"/>
<circle cx="427.5" cy="677.3" r="1.35" class="s4"/>
<circle cx="427.2" cy="672.4" r="1.35" class="s7"/>
<circle cx="427.1" cy="672.5" r="1.35" class="s8"/>
<circle cx="427.2" cy="659.8" r="1.35" class="s5"/>
<circle cx="426.9" cy="676.7" r="1.35" class="s6"/>
<circle cx="427.5" cy="686.7" r="1.35" class="s6"/>
<circle cx="426.1" cy="682.9" r="1.35" class="s6"/>
<circle cx="426.3" cy="677.5" r="1.35" class="s8"/>
<circle cx="428.0" cy="654.5" r="1.35" class="s6"/>
<circle cx="427.6" cy="681.3" r="1.35" class="s6"/>
<circle cx="427.3" cy="686.0" r="1.35" class="s8"/>
<circle cx="427.5" cy="665.4" r="1.35" class="s8"/>
<circle cx="426.8" cy="688.4" r="1.35" class="s5"/>
<circle cx="428.2" cy="676.6" r="1.35" class="s9"/>
<circle cx="432.8" cy="675.7" r="1.35" class="s14"/>
<circle cx="433.0" cy="663.2" r="1.35" class="s11"/>
<circle cx="433.3" cy="676.0" r="1.35" class="s9"/>
<circle cx="433.5" cy="667.4" r="1.35" class="s12"/>
<circle cx="433.7" cy="670.3" r="1.35" class="s7"/>
<circle cx="432.3" cy="674.1" r="1.35" class="s11"/>
<circle cx="433.4" cy="686.0" r="1.35" class="s11"/>
<circle cx="433.4" cy="669.7" r="1.35" class="s9"/>
<circle cx="432.3" cy="678.2" r="1.35" class="s12"/>
<circle cx="433.1" cy="674.4" r="1.35" class="s13"/>
<circle cx="432.9" cy="682.1" r="1.35" class="s7"/>
<circle cx="432.7" cy="676.3" r="1.35" class="s11"/>
<circle cx="432.4" cy="679.5" r="1.35" class="s14"/>
<circle cx="433.2" cy="669.0" r="1.35" class="s7"/>
<circle cx="432.0" cy="688.3" r="1.35" class="s8"/>
<circle cx="432.9" cy="656.4" r="1.35" class="s13"/>
<circle cx="432.9" cy="687.3" r="1.35" class="s8"/>
<circle cx="433.1" cy="679.6" r="1.35" class="s12"/>
<circle cx="433.0" cy="676.6" r="1.35" class="s8"/>
<circle cx="433.3" cy="680.8" r="1.35" class="s11"/>
<circle cx="433.3" cy="663.9" r="1.35" class="s8"/>
<circle cx="432.7" cy="684.1" r="1.35" class="s7"/>
<circle cx="433.2" cy="682.9" r="1.35" class="s7"/>
<circle cx="432.7" cy="661.0" r="1.35" class="s8"/>
<circle cx="432.4" cy="674.1" r="1.35" class="s10"/>
<circle cx="432.7" cy="673.6" r="1.35" class="s9"/>
<circle cx="432.2" cy="670.4" r="1.35" class="s13"/>
<circle cx="432.8" cy="681.3" r="1.35" class="s13"/>
<circle cx="432.2" cy="674.7" r="1.35" class="s14"/>
<circle cx="440.8" cy="668.1" r="1.35" class="s9"/>
<circle cx="441.2" cy="675.1" r="1.35" class="s11"/>
<circle cx="440.1" cy="680.6" r="1.35" class="s6"/>
<circle cx="440.9" cy="683.9" r="1.35" class="s10"/>
<circle cx="440.9" cy="660.0" r="1.35" class="s9"/>
<circle cx="440.6" cy="659.3" r="1.35" class="s7"/>
<circle cx="441.1" cy="683.1" r="1.35" class="s12"/>
<circle cx="440.4" cy="662.9" r="1.35" class="s12"/>
<circle cx="441.0" cy="666.3" r="1.35" class="s11"/>
<circle cx="441.8" cy="682.3" r="1.35" class="s6"/>
<circle cx="441.3" cy="687.1" r="1.35" class="s11"/>
<circle cx="441.1" cy="664.5" r="1.35" class="s7"/>
<circle cx="441.3" cy="679.9" r="1.35" class="s13"/>
<circle cx="441.2" cy="680.5" r="1.35" class="s10"/>
<circle cx="440.4" cy="663.0" r="1.35" class="s12"/>
<circle cx="440.5" cy="681.8" r="1.35" class="s13"/>
<circle cx="440.9" cy="680.0" r="1.35" class="s7"/>
<circle cx="441.2" cy="688.0" r="1.35" class="s8"/>
<circle cx="440.1" cy="684.0" r="1.35" class="s11"/>
<circle cx="440.9" cy="669.8" r="1.35" class="s6"/>
<circle cx="440.9" cy="677.1" r="1.35" class="s7"/>
<circle cx="440.9" cy="654.7" r="1.35" class="s9"/>
<circle cx="441.0" cy="686.2" r="1.35" class="s11"/>
<circle cx="441.0" cy="676.0" r="1.35" class="s13"/>
<circle cx="440.9" cy="663.3" r="1.35" class="s9"/>
<circle cx="441.0" cy="688.3" r="1.35" class="s12"/>
<circle cx="440.7" cy="679.8" r="1.35" class="s9"/>
<circle cx="440.8" cy="677.5" r="1.35" class="s7"/>
<circle cx="441.5" cy="672.0" r="1.35" class="s12"/>
<circle cx="447.4" cy="686.5" r="1.35" class="s11"/>
<circle cx="447.3" cy="664.1" r="1.35" class="s10"/>
<circle cx="447.6" cy="678.7" r="1.35" class="s9"/>
<circle cx="446.9" cy="671.8" r="1.35" class="s6"/>
<circle cx="447.4" cy="672.3" r="1.35" class="s6"/>
<circle cx="447.4" cy="682.7" r="1.35" class="s8"/>
<circle cx="447.4" cy="670.9" r="1.35" class="s10"/>
<circle cx="447.2" cy="679.1" r="1.35" class="s11"/>
<circle cx="447.2" cy="685.1" r="1.35" class="s7"/>
<circle cx="447.4" cy="683.4" r="1.35" class="s10"/>
<circle cx="446.8" cy="656.4" r="1.35" class="s9"/>
<circle cx="446.8" cy="678.2" r="1.35" class="s7"/>
<circle cx="447.4" cy="656.7" r="1.35" class="s11"/>
<circle cx="448.1" cy="674.8" r="1.35" class="s9"/>
<circle cx="446.7" cy="683.1" r="1.35" class="s9"/>
<circle cx="447.0" cy="678.1" r="1.35" class="s11"/>
<circle cx="446.8" cy="678.0" r="1.35" class="s11"/>
<circle cx="447.4" cy="672.7" r="1.35" class="s8"/>
<circle cx="447.6" cy="684.5" r="1.35" class="s10"/>
<circle cx="447.3" cy="678.9" r="1.35" class="s10"/>
<circle cx="447.9" cy="670.6" r="1.35" class="s6"/>
<circle cx="447.3" cy="663.2" r="1.35" class="s9"/>
<circle cx="446.9" cy="682.5" r="1.35" class="s8"/>
<circle cx="447.6" cy="676.5" r="1.35" class="s7"/>
<circle cx="447.0" cy="684.5" r="1.35" class="s8"/>
<circle cx="456.4" cy="660.3" r="1.35" class="s8"/>
<circle cx="456.0" cy="686.3" r="1.35" class="s10"/>
<circle cx="455.5" cy="663.1" r="1.35" class="s8"/>
<circle cx="456.1" cy="686.1" r="1.35" class="s7"/>
<circle cx="456.2" cy="675.2" r="1.35" class="s8"/>
<circle cx="455.7" cy="679.3" r="1.35" class="s6"/>
<circle cx="456.2" cy="679.3" r="1.35" class="s5"/>
<circle cx="455.5" cy="679.2" r="1.35" class="s10"/>
<circle cx="455.3" cy="655.1" r="1.35" class="s9"/>
<circle cx="455.9" cy="677.0" r="1.35" class="s5"/>
<circle cx="456.5" cy="671.4" r="1.35" class="s8"/>
<circle cx="455.7" cy="673.4" r="1.35" class="s5"/>
<circle cx="455.5" cy="678.2" r="1.35" class="s6"/>
<circle cx="456.0" cy="682.6" r="1.35" class="s6"/>
<circle cx="456.6" cy="658.4" r="1.35" class="s9"/>
<circle cx="456.0" cy="672.1" r="1.35" class="s9"/>
<circle cx="455.8" cy="681.0" r="1.35" class="s11"/>
<circle cx="456.2" cy="655.3" r="1.35" class="s8"/>
<circle cx="455.6" cy="658.3" r="1.35" class="s6"/>
<circle cx="454.7" cy="669.9" r="1.35" class="s10"/>
<circle cx="456.0" cy="686.1" r="1.35" class="s6"/>
<circle cx="456.5" cy="654.8" r="1.35" class="s10"/>
<circle cx="463.0" cy="679.1" r="1.35" class="s8"/>
<circle cx="463.4" cy="674.2" r="1.35" class="s9"/>
<circle cx="463.5" cy="685.1" r="1.35" class="s9"/>
<circle cx="463.1" cy="680.8" r="1.35" class="s14"/>
<circle cx="462.3" cy="673.4" r="1.35" class="s9"/>
<circle cx="462.8" cy="673.7" r="1.35" class="s9"/>
<circle cx="463.0" cy="680.1" r="1.35" class="s9"/>
<circle cx="463.4" cy="655.3" r="1.35" class="s11"/>
<circle cx="463.4" cy="688.0" r="1.35" class="s11"/>
<circle cx="463.4" cy="682.5" r="1.35" class="s8"/>
<circle cx="463.1" cy="669.6" r="1.35" class="s12"/>
<circle cx="462.9" cy="669.3" r="1.35" class="s11"/>
<circle cx="462.6" cy="675.0" r="1.35" class="s13"/>
<circle cx="463.2" cy="681.8" r="1.35" class="s8"/>
<circle cx="463.3" cy="671.5" r="1.35" class="s11"/>
<circle cx="463.3" cy="663.6" r="1.35" class="s11"/>
<circle cx="463.6" cy="669.6" r="1.35" class="s8"/>
<circle cx="462.6" cy="666.5" r="1.35" class="s13"/>
<circle cx="463.5" cy="659.3" r="1.35" class="s7"/>
<circle cx="462.7" cy="672.2" r="1.35" class="s10"/>
<circle cx="463.3" cy="674.3" r="1.35" class="s9"/>
<circle cx="463.1" cy="678.9" r="1.35" class="s14"/>
<circle cx="462.7" cy="677.2" r="1.35" class="s9"/>
<circle cx="462.9" cy="658.7" r="1.35" class="s12"/>
<circle cx="462.4" cy="655.8" r="1.35" class="s9"/>
<circle cx="462.9" cy="673.9" r="1.35" class="s8"/>
<circle cx="463.2" cy="671.0" r="1.35" class="s9"/>
<circle cx="462.5" cy="667.9" r="1.35" class="s13"/>
<circle cx="463.1" cy="671.0" r="1.35" class="s7"/>
<circle cx="463.0" cy="668.7" r="1.35" class="s9"/>
<circle cx="462.5" cy="673.8" r="1.35" class="s13"/>
<circle cx="462.6" cy="686.6" r="1.35" class="s11"/>
<circle cx="462.9" cy="683.2" r="1.35" class="s12"/>
<circle cx="463.2" cy="668.6" r="1.35" class="s8"/>
<circle cx="462.4" cy="678.0" r="1.35" class="s9"/>
<circle cx="463.2" cy="677.2" r="1.35" class="s13"/>
<circle cx="462.5" cy="672.4" r="1.35" class="s9"/>
<circle cx="462.1" cy="668.2" r="1.35" class="s10"/>
<circle cx="472.1" cy="670.2" r="1.35" class="s8"/>
<circle cx="472.0" cy="685.3" r="1.35" class="s7"/>
<circle cx="472.4" cy="688.4" r="1.35" class="s9"/>
<circle cx="472.4" cy="671.6" r="1.35" class="s10"/>
<circle cx="471.7" cy="685.1" r="1.35" class="s12"/>
<circle cx="471.9" cy="654.2" r="1.35" class="s9"/>
<circle cx="472.9" cy="670.8" r="1.35" class="s13"/>
<circle cx="472.1" cy="677.8" r="1.35" class="s7"/>
<circle cx="472.5" cy="681.0" r="1.35" class="s13"/>
<circle cx="472.6" cy="657.5" r="1.35" class="s7"/>
<circle cx="471.7" cy="676.9" r="1.35" class="s13"/>
<circle cx="471.7" cy="661.6" r="1.35" class="s10"/>
<circle cx="471.9" cy="673.8" r="1.35" class="s6"/>
<circle cx="472.2" cy="686.0" r="1.35" class="s8"/>
<circle cx="471.7" cy="683.0" r="1.35" class="s12"/>
<circle cx="471.2" cy="665.1" r="1.35" class="s13"/>
<circle cx="472.0" cy="675.7" r="1.35" class="s10"/>
<circle cx="471.8" cy="674.5" r="1.35" class="s11"/>
<circle cx="472.4" cy="659.7" r="1.35" class="s11"/>
<circle cx="471.8" cy="673.4" r="1.35" class="s13"/>
<circle cx="471.7" cy="679.8" r="1.35" class="s8"/>
<circle cx="472.0" cy="654.1" r="1.35" class="s13"/>
<circle cx="471.9" cy="672.2" r="1.35" class="s10"/>
<circle cx="471.6" cy="678.2" r="1.35" class="s11"/>
<circle cx="471.8" cy="675.6" r="1.35" class="s14"/>
<circle cx="471.2" cy="668.2" r="1.35" class="s9"/>
<circle cx="472.1" cy="686.7" r="1.35" class="s10"/>
<circle cx="471.4" cy="676.3" r="1.35" class="s10"/>
<circle cx="480.1" cy="678.4" r="1.35" class="s13"/>
<circle cx="479.9" cy="671.0" r="1.35" class="s13"/>
<circle cx="479.8" cy="685.9" r="1.35" class="s7"/>
<circle cx="479.7" cy="673.3" r="1.35" class="s12"/>
<circle cx="479.4" cy="679.0" r="1.35" class="s9"/>
<circle cx="479.0" cy="658.0" r="1.35" class="s14"/>
<circle cx="479.3" cy="659.0" r="1.35" class="s8"/>
<circle cx="479.5" cy="665.6" r="1.35" class="s13"/>
<circle cx="480.2" cy="678.5" r="1.35" class="s12"/>
<circle cx="479.4" cy="669.7" r="1.35" class="s14"/>
<circle cx="480.1" cy="670.4" r="1.35" class="s11"/>
<circle cx="479.6" cy="659.8" r="1.35" class="s12"/>
<circle cx="479.4" cy="682.6" r="1.35" class="s12"/>
<circle cx="480.1" cy="680.4" r="1.35" class="s10"/>
<circle cx="479.4" cy="684.7" r="1.35" class="s7"/>
<circle cx="479.5" cy="674.2" r="1.35" class="s9"/>
<circle cx="480.3" cy="684.2" r="1.35" class="s8"/>
<circle cx="480.0" cy="683.8" r="1.35" class="s13"/>
<circle cx="479.7" cy="674.7" r="1.35" class="s10"/>
<circle cx="480.1" cy="688.4" r="1.35" class="s9"/>
<circle cx="479.2" cy="678.5" r="1.35" class="s13"/>
<circle cx="480.6" cy="684.1" r="1.35" class="s12"/>
<circle cx="480.6" cy="685.3" r="1.35" class="s14"/>
<circle cx="480.2" cy="671.2" r="1.35" class="s9"/>
<circle cx="480.0" cy="685.9" r="1.35" class="s12"/>
<circle cx="480.1" cy="660.5" r="1.35" class="s7"/>
<circle cx="479.9" cy="660.7" r="1.35" class="s11"/>
<circle cx="479.7" cy="679.1" r="1.35" class="s10"/>
<circle cx="479.9" cy="673.8" r="1.35" class="s8"/>
<circle cx="479.4" cy="666.5" r="1.35" class="s12"/>
<circle cx="479.0" cy="672.1" r="1.35" class="s8"/>
<circle cx="479.7" cy="685.8" r="1.35" class="s12"/>
<circle cx="479.9" cy="672.2" r="1.35" class="s12"/>
<circle cx="479.8" cy="686.5" r="1.35" class="s14"/>
<circle cx="479.6" cy="685.4" r="1.35" class="s8"/>
<circle cx="480.9" cy="682.5" r="1.35" class="s8"/>
<circle cx="480.3" cy="678.9" r="1.35" class="s8"/>
<circle cx="485.7" cy="686.9" r="1.35" class="s9"/>
<circle cx="486.4" cy="678.1" r="1.35" class="s9"/>
<circle cx="485.1" cy="668.6" r="1.35" class="s10"/>
<circle cx="485.2" cy="682.1" r="1.35" class="s7"/>
<circle cx="486.1" cy="680.5" r="1.35" class="s6"/>
<circle cx="485.9" cy="673.6" r="1.35" class="s7"/>
<circle cx="485.0" cy="662.1" r="1.35" class="s6"/>
<circle cx="485.1" cy="672.1" r="1.35" class="s8"/>
<circle cx="485.0" cy="672.0" r="1.35" class="s10"/>
<circle cx="485.6" cy="663.1" r="1.35" class="s6"/>
<circle cx="486.0" cy="675.3" r="1.35" class="s8"/>
<circle cx="486.0" cy="685.9" r="1.35" class="s6"/>
<circle cx="485.1" cy="669.5" r="1.35" class="s6"/>
<circle cx="485.2" cy="676.3" r="1.35" class="s7"/>
<circle cx="485.7" cy="683.6" r="1.35" class="s6"/>
<circle cx="486.1" cy="659.6" r="1.35" class="s7"/>
<circle cx="485.5" cy="672.6" r="1.35" class="s7"/>
<circle cx="485.7" cy="660.5" r="1.35" class="s7"/>
<circle cx="485.7" cy="654.1" r="1.35" class="s11"/>
<circle cx="485.1" cy="654.5" r="1.35" class="s7"/>
<circle cx="485.6" cy="670.2" r="1.35" class="s11"/>
<circle cx="486.3" cy="674.9" r="1.35" class="s10"/>
<circle cx="491.1" cy="678.8" r="1.35" class="s5"/>
<circle cx="490.8" cy="677.2" r="1.35" class="s6"/>
<circle cx="491.3" cy="677.3" r="1.35" class="s5"/>
<circle cx="491.6" cy="669.4" r="1.35" class="s4"/>
<circle cx="490.9" cy="681.3" r="1.35" class="s7"/>
<circle cx="491.1" cy="682.6" r="1.35" class="s6"/>
<circle cx="490.9" cy="673.1" r="1.35" class="s5"/>
<circle cx="491.1" cy="661.4" r="1.35" class="s4"/>
<circle cx="490.1" cy="679.9" r="1.35" class="s7"/>
<circle cx="490.6" cy="672.6" r="1.35" class="s5"/>
<circle cx="491.0" cy="666.6" r="1.35" class="s6"/>
<circle cx="490.3" cy="658.3" r="1.35" class="s6"/>
<circle cx="491.1" cy="671.3" r="1.35" class="s8"/>
<circle cx="422.1" cy="683.8" r="1.35" class="s3"/>
<circle cx="480.9" cy="670.8" r="1.35" class="s2"/>
<circle cx="472.1" cy="676.6" r="1.35" class="s2"/>
<circle cx="334.9" cy="679.0" r="1.35" class="s2"/>
<circle cx="335.3" cy="681.3" r="1.35" class="s2"/>
<circle cx="299.5" cy="674.1" r="1.35" class="s2"/>
<circle cx="371.9" cy="674.3" r="1.35" class="s2"/>
<circle cx="349.8" cy="679.6" r="1.35" class="s3"/>
<circle cx="413.4" cy="686.2" r="1.35" class="s3"/>
<circle cx="312.3" cy="668.5" r="1.35" class="s2"/>
<circle cx="310.8" cy="686.2" r="1.35" class="s2"/>
<circle cx="352.3" cy="681.0" r="1.35" class="s2"/>
<circle cx="314.7" cy="672.1" r="1.35" class="s2"/>
<circle cx="359.6" cy="668.0" r="1.35" class="s3"/>
<circle cx="447.7" cy="677.5" r="1.35" class="s3"/>
<circle cx="427.5" cy="676.0" r="1.35" class="s3"/>
<circle cx="349.0" cy="677.0" r="1.35" class="s2"/>
<circle cx="348.4" cy="681.9" r="1.35" class="s2"/>
<circle cx="461.1" cy="687.4" r="1.35" class="s3"/>
<circle cx="348.3" cy="679.1" r="1.35" class="s3"/>
<circle cx="308.7" cy="680.6" r="1.35" class="s2"/>
<circle cx="315.1" cy="678.6" r="1.35" class="s3"/>
<circle cx="371.8" cy="675.4" r="1.35" class="s2"/>
<circle cx="454.2" cy="675.1" r="1.35" class="s3"/>
<circle cx="475.9" cy="673.6" r="1.35" class="s3"/>
<circle cx="382.2" cy="671.1" r="1.35" class="s2"/>
<circle cx="446.0" cy="676.2" r="1.35" class="s3"/>
<circle cx="323.0" cy="677.4" r="1.35" class="s2"/>
<circle cx="492.6" cy="673.0" r="1.35" class="s2"/>
<circle cx="472.9" cy="680.3" r="1.35" class="s2"/>
<circle cx="452.8" cy="677.3" r="1.35" class="s2"/>
<circle cx="306.8" cy="682.4" r="1.35" class="s2"/>
<circle cx="479.6" cy="669.9" r="1.35" class="s3"/>
<circle cx="404.0" cy="682.8" r="1.35" class="s3"/>
<circle cx="297.7" cy="671.5" r="1.35" class="s2"/>
<circle cx="343.0" cy="677.5" r="1.35" class="s3"/>
<circle cx="338.4" cy="673.6" r="1.35" class="s2"/>
<circle cx="387.0" cy="683.0" r="1.35" class="s3"/>
<circle cx="468.7" cy="670.8" r="1.35" class="s3"/>
<circle cx="317.0" cy="676.4" r="1.35" class="s2"/>
<circle cx="424.3" cy="668.3" r="1.35" class="s2"/>
<circle cx="455.2" cy="685.5" r="1.35" class="s2"/>
<circle cx="329.0" cy="675.1" r="1.35" class="s3"/>
<circle cx="313.7" cy="681.1" r="1.35" class="s3"/>
<circle cx="303.7" cy="679.3" r="1.35" class="s3"/>
<circle cx="450.3" cy="673.3" r="1.35" class="s4"/>
<circle cx="339.2" cy="673.7" r="1.35" class="s3"/>
<circle cx="343.9" cy="675.1" r="1.35" class="s2"/>
<circle cx="372.0" cy="684.3" r="1.35" class="s3"/>
<circle cx="455.5" cy="669.2" r="1.35" class="s2"/>
<circle cx="392.1" cy="675.2" r="1.35" class="s2"/>
<circle cx="389.4" cy="673.8" r="1.35" class="s2"/>
<circle cx="400.9" cy="674.9" r="1.35" class="s3"/>
<circle cx="389.2" cy="675.9" r="1.35" class="s3"/>
<circle cx="433.5" cy="687.2" r="1.35" class="s2"/>
<circle cx="393.4" cy="675.0" r="1.35" class="s3"/>
<circle cx="396.6" cy="680.6" r="1.35" class="s4"/>
<circle cx="415.2" cy="686.1" r="1.35" class="s3"/>
<circle cx="356.8" cy="683.8" r="1.35" class="s2"/>
<circle cx="392.8" cy="675.2" r="1.35" class="s2"/>
<circle cx="437.5" cy="679.4" r="1.35" class="s3"/>
<circle cx="472.6" cy="672.3" r="1.35" class="s2"/>
<circle cx="343.0" cy="686.8" r="1.35" class="s2"/>
<circle cx="379.5" cy="680.8" r="1.35" class="s2"/>
<circle cx="475.8" cy="675.6" r="1.35" class="s3"/>
<circle cx="339.8" cy="681.0" r="1.35" class="s3"/>
<circle cx="416.6" cy="686.9" r="1.35" class="s3"/>
<circle cx="491.1" cy="670.6" r="1.35" class="s2"/>
<circle cx="295.8" cy="670.5" r="1.35" class="s3"/>
<circle cx="443.9" cy="682.5" r="1.35" class="s2"/>
<circle cx="471.3" cy="670.7" r="1.35" class="s3"/>
<circle cx="425.6" cy="675.3" r="1.35" class="s3"/>
<circle cx="343.8" cy="674.9" r="1.35" class="s4"/>
<circle cx="484.4" cy="681.9" r="1.35" class="s2"/>
<circle cx="485.3" cy="678.2" r="1.35" class="s2"/>
<circle cx="349.7" cy="686.4" r="1.35" class="s3"/>
<circle cx="459.8" cy="675.3" r="1.35" class="s3"/>
<circle cx="383.5" cy="676.5" r="1.35" class="s3"/>
<circle cx="302.5" cy="669.9" r="1.35" class="s2"/>
<circle cx="300.2" cy="671.6" r="1.35" class="s2"/>
<circle cx="338.6" cy="682.4" r="1.35" class="s3"/>
<circle cx="350.5" cy="668.9" r="1.35" class="s2"/>
<circle cx="319.0" cy="683.2" r="1.35" class="s2"/>
<circle cx="420.0" cy="685.1" r="1.35" class="s2"/>
<circle cx="444.7" cy="669.8" r="1.35" class="s3"/>
<circle cx="413.0" cy="677.0" r="1.35" class="s2"/>
<circle cx="395.8" cy="684.6" r="1.35" class="s2"/>
<circle cx="487.2" cy="675.4" r="1.35" class="s3"/>
<circle cx="432.3" cy="674.7" r="1.35" class="s3"/>
<circle cx="334.9" cy="680.6" r="1.35" class="s2"/>
<circle cx="56.2" cy="560.1" r="1.35" class="s4"/>
<circle cx="55.9" cy="553.1" r="1.35" class="s4"/>
<circle cx="55.9" cy="546.2" r="1.35" class="s5"/>
<circle cx="56.3" cy="570.0" r="1.35" class="s3"/>
<circle cx="55.1" cy="551.9" r="1.35" class="s4"/>
<circle cx="55.0" cy="545.8" r="1.35" class="s5"/>
<circle cx="55.9" cy="567.2" r="1.35" class="s4"/>
<circle cx="55.0" cy="548.1" r="1.35" class="s4"/>
<circle cx="55.8" cy="550.0" r="1.35" class="s4"/>
<circle cx="55.9" cy="558.5" r="1.35" class="s5"/>
<circle cx="55.8" cy="547.2" r="1.35" class="s5"/>
<circle cx="57.2" cy="546.0" r="1.35" class="s4"/>
<circle cx="55.9" cy="551.9" r="1.35" class="s4"/>
<circle cx="56.2" cy="543.3" r="1.35" class="s5"/>
<circle cx="56.2" cy="554.2" r="1.35" class="s5"/>
<circle cx="63.2" cy="550.7" r="1.35" class="s3"/>
<circle cx="63.3" cy="556.9" r="1.35" class="s4"/>
<circle cx="62.6" cy="565.5" r="1.35" class="s4"/>
<circle cx="63.8" cy="550.1" r="1.35" class="s5"/>
<circle cx="62.6" cy="542.6" r="1.35" class="s6"/>
<circle cx="61.7" cy="545.0" r="1.35" class="s5"/>
<circle cx="62.9" cy="544.0" r="1.35" class="s3"/>
<circle cx="63.6" cy="559.6" r="1.35" class="s4"/>
<circle cx="62.8" cy="551.3" r="1.35" class="s3"/>
<circle cx="62.7" cy="549.2" r="1.35" class="s4"/>
<circle cx="62.5" cy="565.2" r="1.35" class="s3"/>
<circle cx="62.3" cy="564.9" r="1.35" class="s5"/>
<circle cx="69.0" cy="566.5" r="1.35" class="s4"/>
<circle cx="69.0" cy="562.2" r="1.35" class="s3"/>
<circle cx="69.2" cy="566.1" r="1.35" class="s3"/>
<circle cx="68.8" cy="570.6" r="1.35" class="s2"/>
<circle cx="68.1" cy="560.1" r="1.35" class="s4"/>
<circle cx="68.6" cy="552.4" r="1.35" class="s5"/>
<circle cx="68.8" cy="544.3" r="1.35" class="s5"/>
<circle cx="69.3" cy="548.8" r="1.35" class="s3"/>
<circle cx="69.8" cy="572.9" r="1.35" class="s6"/>
<circle cx="69.3" cy="543.6" r="1.35" class="s4"/>
<circle cx="68.9" cy="573.7" r="1.35" class="s5"/>
<circle cx="68.6" cy="573.6" r="1.35" class="s4"/>
<circle cx="69.0" cy="567.9" r="1.35" class="s3"/>
<circle cx="68.7" cy="544.2" r="1.35" class="s3"/>
<circle cx="76.0" cy="556.0" r="1.35" class="s4"/>
<circle cx="74.4" cy="550.9" r="1.35" class="s2"/>
<circle cx="75.4" cy="541.9" r="1.35" class="s5"/>
<circle cx="74.6" cy="567.7" r="1.35" class="s5"/>
<circle cx="74.7" cy="543.5" r="1.35" class="s4"/>
<circle cx="75.1" cy="560.3" r="1.35" class="s3"/>
<circle cx="73.9" cy="566.0" r="1.35" class="s6"/>
<circle cx="75.6" cy="553.7" r="1.35" class="s5"/>
<circle cx="75.1" cy="558.3" r="1.35" class="s4"/>
<circle cx="75.8" cy="544.3" r="1.35" class="s3"/>
<circle cx="75.4" cy="570.7" r="1.35" class="s4"/>
<circle cx="75.2" cy="570.6" r="1.35" class="s3"/>
<circle cx="75.2" cy="545.5" r="1.35" class="s6"/>
<circle cx="75.6" cy="568.3" r="1.35" class="s3"/>
<circle cx="75.2" cy="546.1" r="1.35" class="s6"/>
<circle cx="84.2" cy="542.4" r="1.35" class="s5"/>
<circle cx="85.0" cy="551.3" r="1.35" class="s6"/>
<circle cx="84.7" cy="550.0" r="1.35" class="s4"/>
<circle cx="83.3" cy="559.2" r="1.35" class="s4"/>
<circle cx="83.6" cy="556.9" r="1.35" class="s5"/>
<circle cx="85.4" cy="554.8" r="1.35" class="s4"/>
<circle cx="84.2" cy="572.0" r="1.35" class="s5"/>
<circle cx="84.1" cy="556.0" r="1.35" class="s6"/>
<circle cx="84.5" cy="558.5" r="1.35" class="s4"/>
<circle cx="83.7" cy="569.9" r="1.35" class="s4"/>
<circle cx="84.4" cy="552.8" r="1.35" class="s4"/>
<circle cx="83.8" cy="558.6" r="1.35" class="s5"/>
<circle cx="83.7" cy="556.5" r="1.35" class="s5"/>
<circle cx="84.6" cy="560.6" r="1.35" class="s6"/>
<circle cx="84.3" cy="558.2" r="1.35" class="s6"/>
<circle cx="93.4" cy="550.3" r="1.35" class="s2"/>
<circle cx="91.8" cy="572.5" r="1.35" class="s6"/>
<circle cx="92.5" cy="569.4" r="1.35" class="s4"/>
<circle cx="92.9" cy="550.6" r="1.35" class="s2"/>
<circle cx="92.0" cy="544.9" r="1.35" class="s5"/>
<circle cx="91.5" cy="545.5" r="1.35" class="s6"/>
<circle cx="92.1" cy="551.7" r="1.35" class="s5"/>
<circle cx="92.2" cy="544.7" r="1.35" class="s4"/>
<circle cx="92.2" cy="550.6" r="1.35" class="s3"/>
<circle cx="92.4" cy="542.4" r="1.35" class="s3"/>
<circle cx="92.6" cy="556.3" r="1.35" class="s4"/>
<circle cx="92.9" cy="542.6" r="1.35" class="s3"/>
<circle cx="91.5" cy="557.0" r="1.35" class="s3"/>
<circle cx="92.5" cy="552.1" r="1.35" class="s6"/>
<circle cx="97.9" cy="545.6" r="1.35" class="s6"/>
<circle cx="98.1" cy="555.8" r="1.35" class="s5"/>
<circle cx="98.0" cy="554.4" r="1.35" class="s2"/>
<circle cx="97.6" cy="560.8" r="1.35" class="s3"/>
<circle cx="98.6" cy="568.0" r="1.35" class="s5"/>
<circle cx="97.3" cy="547.5" r="1.35" class="s5"/>
<circle cx="98.9" cy="552.8" r="1.35" class="s4"/>
<circle cx="97.6" cy="556.6" r="1.35" class="s4"/>
<circle cx="97.6" cy="555.5" r="1.35" class="s3"/>
<circle cx="98.3" cy="558.1" r="1.35" class="s6"/>
<circle cx="98.5" cy="556.3" r="1.35" class="s4"/>
<circle cx="97.9" cy="555.3" r="1.35" class="s4"/>
<circle cx="98.9" cy="558.3" r="1.35" class="s5"/>
<circle cx="98.5" cy="560.1" r="1.35" class="s3"/>
<circle cx="105.3" cy="570.4" r="1.35" class="s7"/>
<circle cx="105.6" cy="552.0" r="1.35" class="s7"/>
<circle cx="104.6" cy="545.4" r="1.35" class="s5"/>
<circle cx="105.5" cy="572.8" r="1.35" class="s4"/>
<circle cx="105.4" cy="554.0" r="1.35" class="s7"/>
<circle cx="105.7" cy="554.9" r="1.35" class="s8"/>
<circle cx="106.0" cy="541.0" r="1.35" class="s6"/>
<circle cx="106.0" cy="561.3" r="1.35" class="s5"/>
<circle cx="105.4" cy="543.0" r="1.35" class="s3"/>
<circle cx="105.4" cy="551.0" r="1.35" class="s7"/>
<circle cx="105.5" cy="571.3" r="1.35" class="s5"/>
<circle cx="105.6" cy="554.6" r="1.35" class="s4"/>
<circle cx="106.2" cy="551.5" r="1.35" class="s4"/>
<circle cx="105.6" cy="553.9" r="1.35" class="s4"/>
<circle cx="105.7" cy="541.8" r="1.35" class="s4"/>
<circle cx="105.9" cy="570.5" r="1.35" class="s7"/>
<circle cx="106.7" cy="560.5" r="1.35" class="s4"/>
<circle cx="105.2" cy="564.8" r="1.35" class="s5"/>
<circle cx="105.4" cy="559.9" r="1.35" class="s7"/>
<circle cx="105.1" cy="541.7" r="1.35" class="s5"/>
<circle cx="106.0" cy="547.1" r="1.35" class="s4"/>
<circle cx="105.5" cy="566.6" r="1.35" class="s7"/>
<circle cx="112.2" cy="543.2" r="1.35" class="s5"/>
<circle cx="112.8" cy="573.3" r="1.35" class="s3"/>
<circle cx="112.6" cy="554.2" r="1.35" class="s4"/>
<circle cx="112.1" cy="545.7" r="1.35" class="s3"/>
<circle cx="112.5" cy="561.6" r="1.35" class="s4"/>
<circle cx="112.5" cy="554.7" r="1.35" class="s4"/>
<circle cx="112.8" cy="549.4" r="1.35" class="s3"/>
<circle cx="112.6" cy="572.3" r="1.35" class="s5"/>
<circle cx="113.1" cy="559.9" r="1.35" class="s4"/>
<circle cx="112.9" cy="558.9" r="1.35" class="s5"/>
<circle cx="112.8" cy="558.5" r="1.35" class="s4"/>
<circle cx="112.1" cy="547.2" r="1.35" class="s3"/>
<circle cx="112.0" cy="545.8" r="1.35" class="s6"/>
<circle cx="117.2" cy="547.8" r="1.35" class="s6"/>
<circle cx="118.2" cy="549.7" r="1.35" class="s5"/>
<circle cx="118.5" cy="550.2" r="1.35" class="s4"/>
<circle cx="118.2" cy="548.6" r="1.35" class="s4"/>
<circle cx="117.9" cy="544.8" r="1.35" class="s3"/>
<circle cx="117.5" cy="572.3" r="1.35" class="s3"/>
<circle cx="117.9" cy="572.6" r="1.35" class="s3"/>
<circle cx="118.2" cy="551.2" r="1.35" class="s5"/>
<circle cx="118.2" cy="542.1" r="1.35" class="s6"/>
<circle cx="118.1" cy="566.3" r="1.35" class="s2"/>
<circle cx="117.7" cy="550.4" r="1.35" class="s3"/>
<circle cx="117.5" cy="549.3" r="1.35" class="s5"/>
<circle cx="118.2" cy="553.9" r="1.35" class="s4"/>
<circle cx="118.5" cy="551.2" r="1.35" class="s4"/>
<circle cx="129.7" cy="549.5" r="1.35" class="s5"/>
<circle cx="129.6" cy="557.1" r="1.35" class="s4"/>
<circle cx="129.3" cy="549.6" r="1.35" class="s4"/>
<circle cx="129.3" cy="546.5" r="1.35" class="s5"/>
<circle cx="129.5" cy="547.6" r="1.35" class="s3"/>
<circle cx="129.8" cy="555.3" r="1.35" class="s3"/>
<circle cx="129.9" cy="551.9" r="1.35" class="s5"/>
<circle cx="129.0" cy="560.7" r="1.35" class="s5"/>
<circle cx="129.3" cy="558.1" r="1.35" class="s4"/>
<circle cx="129.7" cy="556.6" r="1.35" class="s5"/>
<circle cx="129.2" cy="555.8" r="1.35" class="s5"/>
<circle cx="129.3" cy="570.8" r="1.35" class="s5"/>
<circle cx="130.8" cy="557.5" r="1.35" class="s5"/>
<circle cx="128.5" cy="545.6" r="1.35" class="s3"/>
<circle cx="137.3" cy="571.6" r="1.35" class="s4"/>
<circle cx="136.8" cy="566.8" r="1.35" class="s3"/>
<circle cx="136.5" cy="553.1" r="1.35" class="s5"/>
<circle cx="136.3" cy="558.8" r="1.35" class="s6"/>
<circle cx="137.4" cy="563.7" r="1.35" class="s5"/>
<circle cx="137.1" cy="561.4" r="1.35" class="s3"/>
<circle cx="137.4" cy="561.6" r="1.35" class="s5"/>
<circle cx="138.3" cy="572.9" r="1.35" class="s4"/>
<circle cx="136.9" cy="560.0" r="1.35" class="s5"/>
<circle cx="137.1" cy="557.7" r="1.35" class="s4"/>
<circle cx="136.3" cy="551.9" r="1.35" class="s4"/>
<circle cx="144.2" cy="561.9" r="1.35" class="s4"/>
<circle cx="145.9" cy="565.9" r="1.35" class="s4"/>
<circle cx="145.1" cy="559.6" r="1.35" class="s3"/>
<circle cx="145.2" cy="561.2" r="1.35" class="s6"/>
<circle cx="146.3" cy="570.0" r="1.35" class="s4"/>
<circle cx="145.1" cy="550.6" r="1.35" class="s5"/>
<circle cx="144.3" cy="558.8" r="1.35" class="s4"/>
<circle cx="145.2" cy="566.9" r="1.35" class="s3"/>
<circle cx="145.3" cy="551.3" r="1.35" class="s5"/>
<circle cx="144.5" cy="570.0" r="1.35" class="s5"/>
<circle cx="145.0" cy="558.2" r="1.35" class="s6"/>
<circle cx="145.4" cy="545.1" r="1.35" class="s5"/>
<circle cx="145.8" cy="547.3" r="1.35" class="s4"/>
<circle cx="154.7" cy="560.6" r="1.35" class="s4"/>
<circle cx="154.8" cy="553.9" r="1.35" class="s6"/>
<circle cx="154.7" cy="556.9" r="1.35" class="s4"/>
<circle cx="153.3" cy="541.1" r="1.35" class="s6"/>
<circle cx="153.9" cy="543.6" r="1.35" class="s4"/>
<circle cx="154.5" cy="557.4" r="1.35" class="s3"/>
<circle cx="154.7" cy="566.4" r="1.35" class="s6"/>
<circle cx="155.2" cy="569.6" r="1.35" class="s6"/>
<circle cx="155.4" cy="573.5" r="1.35" class="s5"/>
<circle cx="155.0" cy="551.3" r="1.35" class="s3"/>
<circle cx="154.1" cy="554.5" r="1.35" class="s5"/>
<circle cx="154.6" cy="565.2" r="1.35" class="s4"/>
<circle cx="162.4" cy="565.5" r="1.35" class="s3"/>
<circle cx="162.3" cy="563.1" r="1.35" class="s5"/>
<circle cx="161.3" cy="547.5" r="1.35" class="s3"/>
<circle cx="162.1" cy="559.9" r="1.35" class="s6"/>
<circle cx="162.5" cy="556.5" r="1.35" class="s4"/>
<circle cx="161.2" cy="561.4" r="1.35" class="s6"/>
<circle cx="161.9" cy="548.7" r="1.35" class="s4"/>
<circle cx="161.9" cy="545.1" r="1.35" class="s5"/>
<circle cx="162.4" cy="567.0" r="1.35" class="s6"/>
<circle cx="162.5" cy="550.6" r="1.35" class="s5"/>
<circle cx="161.5" cy="565.9" r="1.35" class="s6"/>
<circle cx="204.0" cy="553.8" r="1.35" class="s5"/>
<circle cx="203.5" cy="555.6" r="1.35" class="s6"/>
<circle cx="202.9" cy="572.3" r="1.35" class="s5"/>
<circle cx="202.8" cy="562.2" r="1.35" class="s4"/>
<circle cx="204.1" cy="550.9" r="1.35" class="s3"/>
<circle cx="203.6" cy="570.0" r="1.35" class="s3"/>
<circle cx="202.9" cy="547.4" r="1.35" class="s5"/>
<circle cx="203.1" cy="555.8" r="1.35" class="s4"/>
<circle cx="203.5" cy="562.6" r="1.35" class="s6"/>
<circle cx="202.4" cy="561.5" r="1.35" class="s3"/>
<circle cx="203.8" cy="562.6" r="1.35" class="s6"/>
<circle cx="203.0" cy="548.9" r="1.35" class="s3"/>
<circle cx="203.2" cy="543.0" r="1.35" class="s6"/>
<circle cx="203.1" cy="547.9" r="1.35" class="s5"/>
<circle cx="214.1" cy="571.7" r="1.35" class="s3"/>
<circle cx="214.6" cy="546.5" r="1.35" class="s4"/>
<circle cx="213.6" cy="544.3" r="1.35" class="s7"/>
<circle cx="214.5" cy="548.5" r="1.35" class="s4"/>
<circle cx="214.4" cy="560.5" r="1.35" class="s5"/>
<circle cx="214.5" cy="546.8" r="1.35" class="s8"/>
<circle cx="215.0" cy="543.9" r="1.35" class="s5"/>
<circle cx="214.6" cy="559.1" r="1.35" class="s4"/>
<circle cx="214.9" cy="561.4" r="1.35" class="s4"/>
<circle cx="214.5" cy="546.7" r="1.35" class="s4"/>
<circle cx="214.3" cy="559.7" r="1.35" class="s8"/>
<circle cx="214.9" cy="569.9" r="1.35" class="s6"/>
<circle cx="214.2" cy="542.4" r="1.35" class="s5"/>
<circle cx="214.4" cy="557.5" r="1.35" class="s7"/>
<circle cx="214.5" cy="556.1" r="1.35" class="s3"/>
<circle cx="214.6" cy="563.0" r="1.35" class="s8"/>
<circle cx="213.5" cy="545.7" r="1.35" class="s5"/>
<circle cx="215.5" cy="560.1" r="1.35" class="s5"/>
<circle cx="214.9" cy="554.9" r="1.35" class="s6"/>
<circle cx="214.6" cy="557.4" r="1.35" class="s5"/>
<circle cx="214.8" cy="559.4" r="1.35" class="s7"/>
<circle cx="214.0" cy="564.5" r="1.35" class="s6"/>
<circle cx="214.0" cy="554.8" r="1.35" class="s3"/>
<circle cx="214.4" cy="561.3" r="1.35" class="s5"/>
<circle cx="215.0" cy="554.0" r="1.35" class="s4"/>
<circle cx="215.0" cy="551.4" r="1.35" class="s4"/>
<circle cx="219.2" cy="561.4" r="1.35" class="s3"/>
<circle cx="220.9" cy="550.1" r="1.35" class="s3"/>
<circle cx="219.8" cy="564.5" r="1.35" class="s5"/>
<circle cx="219.7" cy="554.3" r="1.35" class="s3"/>
<circle cx="220.3" cy="573.8" r="1.35" class="s4"/>
<circle cx="220.5" cy="572.1" r="1.35" class="s5"/>
<circle cx="220.0" cy="554.3" r="1.35" class="s5"/>
<circle cx="219.8" cy="545.5" r="1.35" class="s5"/>
<circle cx="220.4" cy="549.1" r="1.35" class="s3"/>
<circle cx="219.9" cy="548.2" r="1.35" class="s4"/>
<circle cx="221.3" cy="551.5" r="1.35" class="s4"/>
<circle cx="232.5" cy="564.7" r="1.35" class="s3"/>
<circle cx="232.9" cy="552.4" r="1.35" class="s3"/>
<circle cx="232.9" cy="560.4" r="1.35" class="s5"/>
<circle cx="232.9" cy="554.8" r="1.35" class="s3"/>
<circle cx="232.8" cy="571.0" r="1.35" class="s4"/>
<circle cx="232.6" cy="561.2" r="1.35" class="s5"/>
<circle cx="233.1" cy="548.6" r="1.35" class="s5"/>
<circle cx="232.6" cy="561.6" r="1.35" class="s6"/>
<circle cx="232.1" cy="549.1" r="1.35" class="s6"/>
<circle cx="232.9" cy="546.3" r="1.35" class="s3"/>
<circle cx="231.7" cy="546.0" r="1.35" class="s7"/>
<circle cx="232.8" cy="551.4" r="1.35" class="s4"/>
<circle cx="232.4" cy="556.7" r="1.35" class="s7"/>
<circle cx="231.7" cy="554.5" r="1.35" class="s4"/>
<circle cx="232.0" cy="560.1" r="1.35" class="s5"/>
<circle cx="232.8" cy="572.2" r="1.35" class="s7"/>
<circle cx="232.8" cy="560.2" r="1.35" class="s6"/>
<circle cx="232.8" cy="549.4" r="1.35" class="s5"/>
<circle cx="232.1" cy="557.7" r="1.35" class="s5"/>
<circle cx="231.8" cy="568.9" r="1.35" class="s3"/>
<circle cx="240.5" cy="561.5" r="1.35" class="s3"/>
<circle cx="240.7" cy="564.2" r="1.35" class="s3"/>
<circle cx="240.2" cy="541.2" r="1.35" class="s5"/>
<circle cx="240.9" cy="545.3" r="1.35" class="s3"/>
<circle cx="241.2" cy="569.1" r="1.35" class="s3"/>
<circle cx="240.4" cy="551.0" r="1.35" class="s4"/>
<circle cx="240.0" cy="546.9" r="1.35" class="s4"/>
<circle cx="240.5" cy="548.8" r="1.35" class="s6"/>
<circle cx="240.4" cy="558.5" r="1.35" class="s3"/>
<circle cx="240.7" cy="546.3" r="1.35" class="s4"/>
<circle cx="241.3" cy="560.9" r="1.35" class="s4"/>
<circle cx="240.8" cy="547.6" r="1.35" class="s6"/>
<circle cx="240.4" cy="559.4" r="1.35" class="s3"/>
<circle cx="252.0" cy="558.4" r="1.35" class="s5"/>
<circle cx="250.6" cy="559.9" r="1.35" class="s6"/>
<circle cx="251.1" cy="543.8" r="1.35" class="s4"/>
<circle cx="250.1" cy="561.9" r="1.35" class="s4"/>
<circle cx="250.8" cy="561.1" r="1.35" class="s6"/>
<circle cx="250.9" cy="558.2" r="1.35" class="s3"/>
<circle cx="249.9" cy="549.5" r="1.35" class="s3"/>
<circle cx="250.3" cy="556.4" r="1.35" class="s3"/>
<circle cx="250.0" cy="552.6" r="1.35" class="s5"/>
<circle cx="250.8" cy="573.1" r="1.35" class="s3"/>
<circle cx="250.4" cy="543.4" r="1.35" class="s5"/>
<circle cx="249.9" cy="548.6" r="1.35" class="s5"/>
<circle cx="250.4" cy="548.7" r="1.35" class="s3"/>
<circle cx="250.1" cy="543.4" r="1.35" class="s5"/>
<circle cx="258.5" cy="551.3" r="1.35" class="s3"/>
<circle cx="258.7" cy="556.6" r="1.35" class="s3"/>
<circle cx="259.0" cy="546.8" r="1.35" class="s3"/>
<circle cx="258.9" cy="571.9" r="1.35" class="s3"/>
<circle cx="258.7" cy="550.8" r="1.35" class="s5"/>
<circle cx="258.8" cy="551.8" r="1.35" class="s3"/>
<circle cx="258.0" cy="545.1" r="1.35" class="s5"/>
<circle cx="259.2" cy="542.6" r="1.35" class="s4"/>
<circle cx="258.9" cy="564.1" r="1.35" class="s6"/>
<circle cx="258.1" cy="544.4" r="1.35" class="s4"/>
<circle cx="258.6" cy="555.9" r="1.35" class="s5"/>
<circle cx="257.9" cy="544.3" r="1.35" class="s4"/>
<circle cx="258.6" cy="561.5" r="1.35" class="s3"/>
<circle cx="257.4" cy="557.5" r="1.35" class="s6"/>
<circle cx="257.8" cy="558.6" r="1.35" class="s5"/>
<circle cx="258.6" cy="558.0" r="1.35" class="s4"/>
<circle cx="263.3" cy="559.4" r="1.35" class="s5"/>
<circle cx="263.5" cy="569.7" r="1.35" class="s3"/>
<circle cx="261.6" cy="545.9" r="1.35" class="s6"/>
<circle cx="263.3" cy="552.5" r="1.35" class="s6"/>
<circle cx="263.5" cy="548.3" r="1.35" class="s3"/>
<circle cx="263.1" cy="556.7" r="1.35" class="s3"/>
<circle cx="262.0" cy="544.2" r="1.35" class="s4"/>
<circle cx="263.0" cy="551.7" r="1.35" class="s3"/>
<circle cx="263.3" cy="552.5" r="1.35" class="s6"/>
<circle cx="263.1" cy="551.8" r="1.35" class="s6"/>
<circle cx="263.6" cy="556.3" r="1.35" class="s3"/>
<circle cx="263.4" cy="566.1" r="1.35" class="s5"/>
<circle cx="262.8" cy="566.3" r="1.35" class="s3"/>
<circle cx="262.7" cy="547.2" r="1.35" class="s6"/>
<circle cx="273.4" cy="571.2" r="1.35" class="s4"/>
<circle cx="273.2" cy="554.0" r="1.35" class="s5"/>
<circle cx="274.6" cy="572.2" r="1.35" class="s4"/>
<circle cx="273.2" cy="566.0" r="1.35" class="s6"/>
<circle cx="274.2" cy="561.5" r="1.35" class="s6"/>
<circle cx="274.0" cy="561.8" r="1.35" class="s3"/>
<circle cx="273.9" cy="559.8" r="1.35" class="s5"/>
<circle cx="274.3" cy="560.9" r="1.35" class="s4"/>
<circle cx="274.6" cy="553.6" r="1.35" class="s5"/>
<circle cx="273.9" cy="542.3" r="1.35" class="s4"/>
<circle cx="273.7" cy="541.0" r="1.35" class="s5"/>
<circle cx="273.1" cy="553.8" r="1.35" class="s6"/>
<circle cx="273.3" cy="568.7" r="1.35" class="s6"/>
<circle cx="274.1" cy="563.0" r="1.35" class="s4"/>
<circle cx="273.0" cy="542.3" r="1.35" class="s6"/>
<circle cx="273.7" cy="546.8" r="1.35" class="s5"/>
<circle cx="282.2" cy="550.2" r="1.35" class="s3"/>
<circle cx="282.4" cy="550.6" r="1.35" class="s3"/>
<circle cx="282.1" cy="553.8" r="1.35" class="s3"/>
<circle cx="281.7" cy="563.7" r="1.35" class="s4"/>
<circle cx="282.7" cy="548.2" r="1.35" class="s6"/>
<circle cx="281.9" cy="541.7" r="1.35" class="s3"/>
<circle cx="282.3" cy="543.2" r="1.35" class="s5"/>
<circle cx="281.5" cy="548.9" r="1.35" class="s4"/>
<circle cx="282.5" cy="542.3" r="1.35" class="s3"/>
<circle cx="281.2" cy="543.2" r="1.35" class="s4"/>
<circle cx="282.0" cy="566.7" r="1.35" class="s4"/>
<circle cx="281.9" cy="548.1" r="1.35" class="s3"/>
<circle cx="282.3" cy="568.2" r="1.35" class="s6"/>
<circle cx="281.4" cy="558.2" r="1.35" class="s3"/>
<circle cx="195.5" cy="551.9" r="1.35" class="s2"/>
<circle cx="160.2" cy="549.2" r="1.35" class="s2"/>
<circle cx="253.9" cy="562.1" r="1.35" class="s2"/>
<circle cx="123.4" cy="556.9" r="1.35" class="s3"/>
<circle cx="204.5" cy="553.8" r="1.35" class="s3"/>
<circle cx="140.7" cy="553.8" r="1.35" class="s3"/>
<circle cx="198.3" cy="562.9" r="1.35" class="s2"/>
<circle cx="116.8" cy="553.1" r="1.35" class="s2"/>
<circle cx="112.7" cy="541.6" r="1.35" class="s2"/>
<circle cx="79.5" cy="562.7" r="1.35" class="s2"/>
<circle cx="181.1" cy="561.2" r="1.35" class="s2"/>
<circle cx="238.5" cy="545.8" r="1.35" class="s3"/>
<circle cx="67.9" cy="549.9" r="1.35" class="s4"/>
<circle cx="141.7" cy="542.8" r="1.35" class="s2"/>
<circle cx="177.7" cy="549.4" r="1.35" class="s2"/>
<circle cx="144.8" cy="563.9" r="1.35" class="s4"/>
<circle cx="200.0" cy="561.6" r="1.35" class="s2"/>
<circle cx="69.6" cy="555.2" r="1.35" class="s2"/>
<circle cx="208.1" cy="544.2" r="1.35" class="s3"/>
<circle cx="131.6" cy="554.5" r="1.35" class="s3"/>
<circle cx="239.4" cy="561.8" r="1.35" class="s4"/>
<circle cx="173.6" cy="552.8" r="1.35" class="s2"/>
<circle cx="231.8" cy="543.1" r="1.35" class="s2"/>
<circle cx="57.5" cy="546.3" r="1.35" class="s3"/>
<circle cx="140.4" cy="541.3" r="1.35" class="s4"/>
<circle cx="186.3" cy="557.8" r="1.35" class="s4"/>
<circle cx="82.3" cy="545.4" r="1.35" class="s3"/>
<circle cx="121.4" cy="560.7" r="1.35" class="s4"/>
<circle cx="65.3" cy="551.3" r="1.35" class="s3"/>
<circle cx="282.9" cy="565.8" r="1.35" class="s2"/>
<circle cx="104.5" cy="547.8" r="1.35" class="s3"/>
<circle cx="115.6" cy="546.1" r="1.35" class="s3"/>
<circle cx="93.1" cy="544.9" r="1.35" class="s3"/>
<circle cx="169.8" cy="556.9" r="1.35" class="s2"/>
<circle cx="160.0" cy="553.1" r="1.35" class="s3"/>
<circle cx="88.3" cy="552.0" r="1.35" class="s3"/>
<circle cx="288.2" cy="559.5" r="1.35" class="s2"/>
<circle cx="98.9" cy="549.3" r="1.35" class="s3"/>
<circle cx="160.4" cy="548.7" r="1.35" class="s3"/>
<circle cx="81.4" cy="544.8" r="1.35" class="s3"/>
<circle cx="176.8" cy="546.5" r="1.35" class="s2"/>
<circle cx="141.1" cy="544.0" r="1.35" class="s4"/>
<circle cx="217.4" cy="546.0" r="1.35" class="s2"/>
<circle cx="164.4" cy="550.8" r="1.35" class="s4"/>
<circle cx="173.8" cy="550.2" r="1.35" class="s3"/>
<circle cx="216.3" cy="543.2" r="1.35" class="s2"/>
<circle cx="118.4" cy="559.1" r="1.35" class="s3"/>
<circle cx="221.0" cy="542.1" r="1.35" class="s2"/>
<circle cx="129.5" cy="564.7" r="1.35" class="s2"/>
<circle cx="180.7" cy="543.0" r="1.35" class="s4"/>
<circle cx="205.5" cy="547.1" r="1.35" class="s2"/>
<circle cx="226.6" cy="554.7" r="1.35" class="s3"/>
<circle cx="158.7" cy="545.5" r="1.35" class="s3"/>
<circle cx="280.0" cy="550.1" r="1.35" class="s2"/>
<circle cx="69.5" cy="545.6" r="1.35" class="s2"/>
<circle cx="120.7" cy="541.7" r="1.35" class="s3"/>
<circle cx="172.2" cy="562.3" r="1.35" class="s2"/>
<circle cx="147.3" cy="549.2" r="1.35" class="s3"/>
<circle cx="59.9" cy="544.6" r="1.35" class="s3"/>
<circle cx="163.2" cy="543.3" r="1.35" class="s3"/>
<circle cx="87.4" cy="551.2" r="1.35" class="s4"/>
<circle cx="119.3" cy="542.1" r="1.35" class="s4"/>
<circle cx="121.4" cy="548.7" r="1.35" class="s3"/>
<circle cx="234.1" cy="557.5" r="1.35" class="s3"/>
<circle cx="178.1" cy="564.9" r="1.35" class="s3"/>
<circle cx="116.1" cy="562.4" r="1.35" class="s3"/>
<circle cx="245.7" cy="543.5" r="1.35" class="s3"/>
<circle cx="246.0" cy="548.4" r="1.35" class="s3"/>
<circle cx="140.6" cy="555.0" r="1.35" class="s3"/>
<circle cx="233.6" cy="553.9" r="1.35" class="s4"/>
<circle cx="162.2" cy="544.9" r="1.35" class="s2"/>
<circle cx="210.6" cy="565.0" r="1.35" class="s3"/>
<circle cx="75.1" cy="545.4" r="1.35" class="s2"/>
<circle cx="106.6" cy="549.1" r="1.35" class="s2"/>
<circle cx="219.6" cy="558.8" r="1.35" class="s4"/>
<circle cx="188.7" cy="550.0" r="1.35" class="s3"/>
<circle cx="190.1" cy="553.3" r="1.35" class="s3"/>
<circle cx="193.9" cy="555.2" r="1.35" class="s4"/>
<circle cx="224.4" cy="561.5" r="1.35" class="s4"/>
<circle cx="276.5" cy="545.7" r="1.35" class="s4"/>
<circle cx="190.4" cy="552.3" r="1.35" class="s3"/>
<circle cx="76.0" cy="561.7" r="1.35" class="s3"/>
<circle cx="205.1" cy="556.5" r="1.35" class="s3"/>
<circle cx="93.1" cy="542.2" r="1.35" class="s4"/>
<circle cx="139.0" cy="542.4" r="1.35" class="s2"/>
<circle cx="116.1" cy="559.8" r="1.35" class="s2"/>
<circle cx="144.0" cy="553.0" r="1.35" class="s3"/>
<circle cx="90.1" cy="557.3" r="1.35" class="s3"/>
<circle cx="159.0" cy="546.4" r="1.35" class="s3"/>
<circle cx="169.8" cy="556.3" r="1.35" class="s2"/>
<circle cx="115.7" cy="560.5" r="1.35" class="s3"/>
<circle cx="174.3" cy="565.1" r="1.35" class="s2"/>
<circle cx="73.5" cy="552.1" r="1.35" class="s2"/>
<circle cx="146.9" cy="557.9" r="1.35" class="s2"/>
<circle cx="53.0" cy="560.2" r="1.35" class="s3"/>
<circle cx="137.8" cy="542.7" r="1.35" class="s2"/>
<circle cx="156.6" cy="561.7" r="1.35" class="s2"/>
<circle cx="219.8" cy="558.5" r="1.35" class="s2"/>
<circle cx="228.2" cy="561.3" r="1.35" class="s2"/>
<circle cx="158.3" cy="541.5" r="1.35" class="s2"/>
<circle cx="103.2" cy="544.9" r="1.35" class="s2"/>
<circle cx="85.6" cy="546.4" r="1.35" class="s3"/>
<circle cx="131.1" cy="565.9" r="1.35" class="s3"/>
<circle cx="215.1" cy="544.8" r="1.35" class="s2"/>
<circle cx="149.2" cy="555.8" r="1.35" class="s3"/>
<circle cx="277.4" cy="564.9" r="1.35" class="s2"/>
<circle cx="287.4" cy="546.4" r="1.35" class="s2"/>
<circle cx="275.0" cy="553.9" r="1.35" class="s3"/>
<circle cx="195.4" cy="544.5" r="1.35" class="s3"/>
<circle cx="261.0" cy="541.4" r="1.35" class="s3"/>
<circle cx="119.7" cy="557.8" r="1.35" class="s4"/>
<circle cx="232.2" cy="553.9" r="1.35" class="s4"/>
<circle cx="199.4" cy="563.4" r="1.35" class="s2"/>
<circle cx="118.2" cy="545.1" r="1.35" class="s2"/>
<circle cx="64.9" cy="553.5" r="1.35" class="s3"/>
<circle cx="205.9" cy="549.7" r="1.35" class="s3"/>
<circle cx="71.1" cy="561.4" r="1.35" class="s3"/>
<circle cx="240.6" cy="561.3" r="1.35" class="s4"/>
<circle cx="86.5" cy="565.7" r="1.35" class="s2"/>
<circle cx="192.2" cy="559.9" r="1.35" class="s4"/>
<circle cx="209.0" cy="558.3" r="1.35" class="s2"/>
<circle cx="64.5" cy="559.0" r="1.35" class="s2"/>
<circle cx="269.6" cy="545.7" r="1.35" class="s2"/>
<circle cx="188.2" cy="545.1" r="1.35" class="s2"/>
<circle cx="177.2" cy="562.1" r="1.35" class="s4"/>
<circle cx="249.2" cy="547.3" r="1.35" class="s2"/>
<circle cx="176.9" cy="565.2" r="1.35" class="s4"/>
<circle cx="219.1" cy="550.3" r="1.35" class="s3"/>
<circle cx="107.7" cy="557.4" r="1.35" class="s3"/>
<circle cx="96.2" cy="544.2" r="1.35" class="s2"/>
<circle cx="230.3" cy="545.3" r="1.35" class="s4"/>
<circle cx="222.3" cy="549.2" r="1.35" class="s3"/>
<circle cx="255.4" cy="544.8" r="1.35" class="s2"/>
<circle cx="263.8" cy="548.8" r="1.35" class="s2"/>
<circle cx="162.0" cy="550.3" r="1.35" class="s3"/>
<circle cx="234.1" cy="560.7" r="1.35" class="s4"/>
<circle cx="161.4" cy="562.3" r="1.35" class="s4"/>
<circle cx="197.0" cy="545.6" r="1.35" class="s2"/>
<circle cx="87.3" cy="556.4" r="1.35" class="s4"/>
<circle cx="134.2" cy="551.3" r="1.35" class="s4"/>
<circle cx="140.4" cy="544.9" r="1.35" class="s2"/>
<circle cx="283.7" cy="553.3" r="1.35" class="s4"/>
<circle cx="104.9" cy="550.9" r="1.35" class="s3"/>
<circle cx="118.0" cy="555.9" r="1.35" class="s3"/>
<circle cx="94.4" cy="565.5" r="1.35" class="s2"/>
<circle cx="194.0" cy="559.6" r="1.35" class="s2"/>
<circle cx="213.7" cy="543.1" r="1.35" class="s3"/>
<circle cx="200.6" cy="546.6" r="1.35" class="s3"/>
<circle cx="279.4" cy="543.6" r="1.35" class="s3"/>
<circle cx="139.3" cy="559.9" r="1.35" class="s2"/>
<circle cx="101.9" cy="560.3" r="1.35" class="s2"/>
<circle cx="84.1" cy="545.3" r="1.35" class="s2"/>
<circle cx="162.6" cy="564.9" r="1.35" class="s4"/>
<circle cx="59.8" cy="548.3" r="1.35" class="s3"/>
<circle cx="90.9" cy="542.3" r="1.35" class="s2"/>
<circle cx="271.8" cy="543.0" r="1.35" class="s4"/>
<circle cx="61.2" cy="541.8" r="1.35" class="s2"/>
<circle cx="250.8" cy="562.1" r="1.35" class="s3"/>
<circle cx="58.9" cy="547.8" r="1.35" class="s3"/>
<circle cx="199.5" cy="550.6" r="1.35" class="s4"/>
<circle cx="60.2" cy="672.1" r="1.35" class="s3"/>
<circle cx="61.4" cy="656.1" r="1.35" class="s2"/>
<circle cx="60.4" cy="673.1" r="1.35" class="s6"/>
<circle cx="60.5" cy="678.2" r="1.35" class="s5"/>
<circle cx="60.5" cy="677.7" r="1.35" class="s4"/>
<circle cx="60.5" cy="672.1" r="1.35" class="s6"/>
<circle cx="61.7" cy="685.8" r="1.35" class="s4"/>
<circle cx="60.3" cy="679.5" r="1.35" class="s3"/>
<circle cx="61.1" cy="679.9" r="1.35" class="s3"/>
<circle cx="61.0" cy="680.6" r="1.35" class="s3"/>
<circle cx="60.8" cy="675.7" r="1.35" class="s6"/>
<circle cx="67.8" cy="678.2" r="1.35" class="s3"/>
<circle cx="66.6" cy="662.0" r="1.35" class="s6"/>
<circle cx="67.0" cy="681.0" r="1.35" class="s3"/>
<circle cx="67.0" cy="686.6" r="1.35" class="s3"/>
<circle cx="67.7" cy="660.2" r="1.35" class="s6"/>
<circle cx="66.3" cy="678.6" r="1.35" class="s6"/>
<circle cx="67.3" cy="685.4" r="1.35" class="s6"/>
<circle cx="66.1" cy="662.4" r="1.35" class="s3"/>
<circle cx="66.7" cy="671.3" r="1.35" class="s5"/>
<circle cx="66.5" cy="673.7" r="1.35" class="s4"/>
<circle cx="67.4" cy="678.6" r="1.35" class="s5"/>
<circle cx="68.0" cy="655.3" r="1.35" class="s5"/>
<circle cx="67.1" cy="682.2" r="1.35" class="s2"/>
<circle cx="73.1" cy="658.6" r="1.35" class="s5"/>
<circle cx="73.8" cy="683.1" r="1.35" class="s5"/>
<circle cx="74.3" cy="657.6" r="1.35" class="s3"/>
<circle cx="74.0" cy="667.5" r="1.35" class="s5"/>
<circle cx="74.1" cy="656.6" r="1.35" class="s4"/>
<circle cx="73.9" cy="669.4" r="1.35" class="s5"/>
<circle cx="74.8" cy="670.1" r="1.35" class="s3"/>
<circle cx="73.7" cy="684.6" r="1.35" class="s3"/>
<circle cx="73.5" cy="683.2" r="1.35" class="s5"/>
<circle cx="73.4" cy="679.7" r="1.35" class="s5"/>
<circle cx="74.2" cy="669.6" r="1.35" class="s4"/>
<circle cx="82.9" cy="672.0" r="1.35" class="s5"/>
<circle cx="82.3" cy="675.8" r="1.35" class="s6"/>
<circle cx="83.3" cy="670.2" r="1.35" class="s6"/>
<circle cx="82.1" cy="684.6" r="1.35" class="s4"/>
<circle cx="83.1" cy="671.5" r="1.35" class="s4"/>
<circle cx="82.9" cy="683.9" r="1.35" class="s7"/>
<circle cx="82.4" cy="681.1" r="1.35" class="s4"/>
<circle cx="82.9" cy="674.6" r="1.35" class="s7"/>
<circle cx="82.7" cy="677.1" r="1.35" class="s7"/>
<circle cx="82.3" cy="684.1" r="1.35" class="s4"/>
<circle cx="82.6" cy="676.1" r="1.35" class="s4"/>
<circle cx="82.4" cy="686.6" r="1.35" class="s4"/>
<circle cx="82.4" cy="662.5" r="1.35" class="s7"/>
<circle cx="81.9" cy="671.1" r="1.35" class="s6"/>
<circle cx="83.4" cy="675.3" r="1.35" class="s6"/>
<circle cx="82.6" cy="672.8" r="1.35" class="s3"/>
<circle cx="82.1" cy="685.4" r="1.35" class="s4"/>
<circle cx="83.3" cy="676.2" r="1.35" class="s5"/>
<circle cx="83.6" cy="677.1" r="1.35" class="s6"/>
<circle cx="82.6" cy="669.4" r="1.35" class="s7"/>
<circle cx="82.7" cy="670.4" r="1.35" class="s3"/>
<circle cx="82.7" cy="681.9" r="1.35" class="s3"/>
<circle cx="91.3" cy="684.2" r="1.35" class="s3"/>
<circle cx="91.4" cy="667.9" r="1.35" class="s6"/>
<circle cx="91.3" cy="678.9" r="1.35" class="s5"/>
<circle cx="91.1" cy="661.3" r="1.35" class="s3"/>
<circle cx="90.0" cy="676.9" r="1.35" class="s4"/>
<circle cx="91.1" cy="684.6" r="1.35" class="s4"/>
<circle cx="90.9" cy="670.9" r="1.35" class="s5"/>
<circle cx="90.7" cy="655.8" r="1.35" class="s6"/>
<circle cx="90.7" cy="682.9" r="1.35" class="s3"/>
<circle cx="91.1" cy="655.2" r="1.35" class="s4"/>
<circle cx="91.3" cy="666.5" r="1.35" class="s5"/>
<circle cx="91.1" cy="668.4" r="1.35" class="s5"/>
<circle cx="90.7" cy="670.6" r="1.35" class="s5"/>
<circle cx="97.8" cy="672.3" r="1.35" class="s3"/>
<circle cx="97.7" cy="678.1" r="1.35" class="s5"/>
<circle cx="98.7" cy="676.8" r="1.35" class="s4"/>
<circle cx="97.0" cy="677.8" r="1.35" class="s4"/>
<circle cx="98.6" cy="667.7" r="1.35" class="s4"/>
<circle cx="99.0" cy="683.8" r="1.35" class="s4"/>
<circle cx="99.1" cy="673.5" r="1.35" class="s5"/>
<circle cx="98.3" cy="675.8" r="1.35" class="s5"/>
<circle cx="97.2" cy="668.6" r="1.35" class="s4"/>
<circle cx="97.0" cy="681.5" r="1.35" class="s6"/>
<circle cx="97.2" cy="678.5" r="1.35" class="s6"/>
<circle cx="97.6" cy="682.5" r="1.35" class="s2"/>
<circle cx="97.9" cy="676.8" r="1.35" class="s5"/>
<circle cx="97.0" cy="682.7" r="1.35" class="s4"/>
<circle cx="104.9" cy="686.3" r="1.35" class="s6"/>
<circle cx="105.6" cy="672.2" r="1.35" class="s7"/>
<circle cx="105.7" cy="675.5" r="1.35" class="s7"/>
<circle cx="105.3" cy="676.9" r="1.35" class="s8"/>
<circle cx="105.4" cy="684.0" r="1.35" class="s7"/>
<circle cx="106.4" cy="683.0" r="1.35" class="s9"/>
<circle cx="105.4" cy="660.8" r="1.35" class="s9"/>
<circle cx="104.9" cy="669.9" r="1.35" class="s8"/>
<circle cx="105.7" cy="685.5" r="1.35" class="s4"/>
<circle cx="106.1" cy="681.2" r="1.35" class="s4"/>
<circle cx="106.0" cy="676.9" r="1.35" class="s7"/>
<circle cx="107.0" cy="682.7" r="1.35" class="s9"/>
<circle cx="105.9" cy="669.5" r="1.35" class="s8"/>
<circle cx="105.1" cy="667.0" r="1.35" class="s7"/>
<circle cx="105.0" cy="674.9" r="1.35" class="s4"/>
<circle cx="106.1" cy="676.7" r="1.35" class="s7"/>
<circle cx="105.1" cy="669.9" r="1.35" class="s9"/>
<circle cx="105.8" cy="684.9" r="1.35" class="s8"/>
<circle cx="105.5" cy="681.0" r="1.35" class="s5"/>
<circle cx="105.4" cy="667.7" r="1.35" class="s4"/>
<circle cx="105.8" cy="671.8" r="1.35" class="s7"/>
<circle cx="106.4" cy="664.9" r="1.35" class="s6"/>
<circle cx="105.9" cy="668.4" r="1.35" class="s8"/>
<circle cx="105.0" cy="673.8" r="1.35" class="s9"/>
<circle cx="106.6" cy="664.8" r="1.35" class="s9"/>
<circle cx="115.7" cy="670.1" r="1.35" class="s3"/>
<circle cx="115.4" cy="665.8" r="1.35" class="s3"/>
<circle cx="115.9" cy="673.1" r="1.35" class="s4"/>
<circle cx="114.9" cy="658.7" r="1.35" class="s5"/>
<circle cx="115.8" cy="674.4" r="1.35" class="s5"/>
<circle cx="114.9" cy="680.2" r="1.35" class="s5"/>
<circle cx="115.4" cy="668.6" r="1.35" class="s5"/>
<circle cx="113.6" cy="686.6" r="1.35" class="s5"/>
<circle cx="114.8" cy="674.2" r="1.35" class="s4"/>
<circle cx="115.2" cy="680.2" r="1.35" class="s5"/>
<circle cx="113.5" cy="680.1" r="1.35" class="s3"/>
<circle cx="115.2" cy="680.8" r="1.35" class="s4"/>
<circle cx="115.5" cy="661.6" r="1.35" class="s5"/>
<circle cx="116.8" cy="675.6" r="1.35" class="s4"/>
<circle cx="121.2" cy="684.5" r="1.35" class="s3"/>
<circle cx="123.3" cy="658.5" r="1.35" class="s5"/>
<circle cx="122.6" cy="669.1" r="1.35" class="s3"/>
<circle cx="122.4" cy="657.5" r="1.35" class="s6"/>
<circle cx="122.0" cy="685.8" r="1.35" class="s5"/>
<circle cx="122.9" cy="662.0" r="1.35" class="s4"/>
<circle cx="122.9" cy="682.0" r="1.35" class="s4"/>
<circle cx="122.4" cy="671.0" r="1.35" class="s3"/>
<circle cx="122.5" cy="686.1" r="1.35" class="s5"/>
<circle cx="121.3" cy="676.4" r="1.35" class="s4"/>
<circle cx="122.2" cy="668.9" r="1.35" class="s4"/>
<circle cx="123.1" cy="686.5" r="1.35" class="s4"/>
<circle cx="122.1" cy="686.4" r="1.35" class="s4"/>
<circle cx="122.4" cy="672.5" r="1.35" class="s5"/>
<circle cx="122.5" cy="675.6" r="1.35" class="s3"/>
<circle cx="127.7" cy="665.8" r="1.35" class="s6"/>
<circle cx="127.7" cy="673.4" r="1.35" class="s5"/>
<circle cx="127.7" cy="672.1" r="1.35" class="s4"/>
<circle cx="128.6" cy="686.0" r="1.35" class="s4"/>
<circle cx="128.2" cy="683.8" r="1.35" class="s3"/>
<circle cx="128.7" cy="685.0" r="1.35" class="s6"/>
<circle cx="128.3" cy="686.9" r="1.35" class="s5"/>
<circle cx="128.1" cy="684.2" r="1.35" class="s7"/>
<circle cx="128.1" cy="677.3" r="1.35" class="s7"/>
<circle cx="128.1" cy="682.7" r="1.35" class="s3"/>
<circle cx="127.7" cy="680.6" r="1.35" class="s5"/>
<circle cx="127.0" cy="676.2" r="1.35" class="s3"/>
<circle cx="128.0" cy="686.7" r="1.35" class="s4"/>
<circle cx="128.4" cy="671.2" r="1.35" class="s6"/>
<circle cx="128.0" cy="683.4" r="1.35" class="s4"/>
<circle cx="127.6" cy="672.1" r="1.35" class="s6"/>
<circle cx="127.2" cy="656.7" r="1.35" class="s8"/>
<circle cx="127.7" cy="680.9" r="1.35" class="s6"/>
<circle cx="129.7" cy="662.6" r="1.35" class="s6"/>
<circle cx="128.2" cy="659.8" r="1.35" class="s4"/>
<circle cx="133.9" cy="670.3" r="1.35" class="s3"/>
<circle cx="135.0" cy="682.4" r="1.35" class="s3"/>
<circle cx="133.7" cy="674.2" r="1.35" class="s5"/>
<circle cx="133.8" cy="676.4" r="1.35" class="s3"/>
<circle cx="133.9" cy="668.2" r="1.35" class="s3"/>
<circle cx="133.3" cy="683.9" r="1.35" class="s4"/>
<circle cx="134.4" cy="675.3" r="1.35" class="s4"/>
<circle cx="134.0" cy="686.7" r="1.35" class="s3"/>
<circle cx="134.6" cy="665.0" r="1.35" class="s3"/>
<circle cx="133.4" cy="680.0" r="1.35" class="s6"/>
<circle cx="134.3" cy="675.8" r="1.35" class="s3"/>
<circle cx="133.5" cy="679.5" r="1.35" class="s2"/>
<circle cx="141.4" cy="671.0" r="1.35" class="s5"/>
<circle cx="141.4" cy="661.2" r="1.35" class="s3"/>
<circle cx="141.3" cy="678.0" r="1.35" class="s4"/>
<circle cx="141.1" cy="666.4" r="1.35" class="s5"/>
<circle cx="140.6" cy="680.0" r="1.35" class="s3"/>
<circle cx="141.3" cy="682.0" r="1.35" class="s5"/>
<circle cx="141.5" cy="660.6" r="1.35" class="s5"/>
<circle cx="140.7" cy="670.7" r="1.35" class="s4"/>
<circle cx="140.6" cy="685.0" r="1.35" class="s4"/>
<circle cx="141.9" cy="674.4" r="1.35" class="s3"/>
<circle cx="142.0" cy="677.3" r="1.35" class="s3"/>
<circle cx="140.0" cy="675.6" r="1.35" class="s3"/>
<circle cx="148.5" cy="674.3" r="1.35" class="s4"/>
<circle cx="148.0" cy="675.4" r="1.35" class="s5"/>
<circle cx="148.9" cy="675.0" r="1.35" class="s3"/>
<circle cx="148.8" cy="679.0" r="1.35" class="s6"/>
<circle cx="148.9" cy="668.0" r="1.35" class="s5"/>
<circle cx="148.0" cy="684.0" r="1.35" class="s6"/>
<circle cx="148.8" cy="685.3" r="1.35" class="s3"/>
<circle cx="149.6" cy="661.0" r="1.35" class="s5"/>
<circle cx="149.5" cy="680.3" r="1.35" class="s3"/>
<circle cx="149.3" cy="659.0" r="1.35" class="s4"/>
<circle cx="148.4" cy="678.1" r="1.35" class="s6"/>
<circle cx="148.6" cy="686.6" r="1.35" class="s4"/>
<circle cx="155.5" cy="679.7" r="1.35" class="s4"/>
<circle cx="156.1" cy="685.4" r="1.35" class="s6"/>
<circle cx="156.5" cy="682.5" r="1.35" class="s4"/>
<circle cx="156.3" cy="668.3" r="1.35" class="s3"/>
<circle cx="156.4" cy="683.2" r="1.35" class="s3"/>
<circle cx="156.7" cy="677.6" r="1.35" class="s2"/>
<circle cx="157.0" cy="676.1" r="1.35" class="s5"/>
<circle cx="156.6" cy="660.9" r="1.35" class="s4"/>
<circle cx="156.3" cy="655.2" r="1.35" class="s3"/>
<circle cx="155.4" cy="682.0" r="1.35" class="s3"/>
<circle cx="156.5" cy="666.9" r="1.35" class="s3"/>
<circle cx="155.9" cy="674.2" r="1.35" class="s3"/>
<circle cx="156.1" cy="676.3" r="1.35" class="s3"/>
<circle cx="156.7" cy="671.1" r="1.35" class="s4"/>
<circle cx="162.6" cy="674.6" r="1.35" class="s6"/>
<circle cx="162.5" cy="682.8" r="1.35" class="s4"/>
<circle cx="163.5" cy="669.8" r="1.35" class="s3"/>
<circle cx="162.4" cy="661.6" r="1.35" class="s5"/>
<circle cx="162.2" cy="675.0" r="1.35" class="s6"/>
<circle cx="162.9" cy="683.1" r="1.35" class="s2"/>
<circle cx="163.2" cy="671.4" r="1.35" class="s4"/>
<circle cx="162.7" cy="678.4" r="1.35" class="s4"/>
<circle cx="163.5" cy="673.1" r="1.35" class="s3"/>
<circle cx="162.7" cy="679.1" r="1.35" class="s3"/>
<circle cx="181.1" cy="676.1" r="1.35" class="s5"/>
<circle cx="180.6" cy="675.8" r="1.35" class="s4"/>
<circle cx="182.0" cy="681.4" r="1.35" class="s4"/>
<circle cx="181.2" cy="677.5" r="1.35" class="s7"/>
<circle cx="181.4" cy="670.1" r="1.35" class="s6"/>
<circle cx="181.6" cy="680.2" r="1.35" class="s4"/>
<circle cx="180.3" cy="674.9" r="1.35" class="s5"/>
<circle cx="181.0" cy="672.3" r="1.35" class="s7"/>
<circle cx="182.6" cy="670.8" r="1.35" class="s4"/>
<circle cx="181.7" cy="684.3" r="1.35" class="s5"/>
<circle cx="183.0" cy="668.7" r="1.35" class="s3"/>
<circle cx="181.2" cy="669.6" r="1.35" class="s5"/>
<circle cx="181.0" cy="681.9" r="1.35" class="s4"/>
<circle cx="181.8" cy="669.2" r="1.35" class="s5"/>
<circle cx="181.0" cy="682.2" r="1.35" class="s4"/>
<circle cx="181.6" cy="658.9" r="1.35" class="s3"/>
<circle cx="182.1" cy="668.6" r="1.35" class="s4"/>
<circle cx="180.8" cy="678.1" r="1.35" class="s3"/>
<circle cx="181.2" cy="656.5" r="1.35" class="s5"/>
<circle cx="181.3" cy="677.7" r="1.35" class="s7"/>
<circle cx="181.5" cy="672.2" r="1.35" class="s5"/>
<circle cx="181.2" cy="668.3" r="1.35" class="s5"/>
<circle cx="188.8" cy="673.9" r="1.35" class="s5"/>
<circle cx="190.4" cy="675.4" r="1.35" class="s4"/>
<circle cx="190.5" cy="661.3" r="1.35" class="s3"/>
<circle cx="190.6" cy="678.5" r="1.35" class="s3"/>
<circle cx="190.1" cy="669.2" r="1.35" class="s6"/>
<circle cx="189.3" cy="666.9" r="1.35" class="s4"/>
<circle cx="190.0" cy="681.1" r="1.35" class="s6"/>
<circle cx="190.2" cy="661.6" r="1.35" class="s3"/>
<circle cx="190.7" cy="683.3" r="1.35" class="s6"/>
<circle cx="190.1" cy="678.1" r="1.35" class="s5"/>
<circle cx="189.8" cy="678.3" r="1.35" class="s4"/>
<circle cx="202.4" cy="678.0" r="1.35" class="s5"/>
<circle cx="203.0" cy="671.3" r="1.35" class="s5"/>
<circle cx="202.0" cy="668.3" r="1.35" class="s5"/>
<circle cx="202.3" cy="668.7" r="1.35" class="s4"/>
<circle cx="202.7" cy="679.5" r="1.35" class="s4"/>
<circle cx="202.3" cy="672.0" r="1.35" class="s3"/>
<circle cx="202.8" cy="662.3" r="1.35" class="s5"/>
<circle cx="202.3" cy="681.2" r="1.35" class="s6"/>
<circle cx="202.7" cy="666.6" r="1.35" class="s6"/>
<circle cx="202.5" cy="669.6" r="1.35" class="s4"/>
<circle cx="203.5" cy="676.5" r="1.35" class="s4"/>
<circle cx="211.7" cy="680.8" r="1.35" class="s6"/>
<circle cx="211.5" cy="685.1" r="1.35" class="s8"/>
<circle cx="209.6" cy="679.5" r="1.35" class="s4"/>
<circle cx="210.6" cy="678.8" r="1.35" class="s9"/>
<circle cx="212.2" cy="670.5" r="1.35" class="s10"/>
<circle cx="211.8" cy="677.0" r="1.35" class="s6"/>
<circle cx="211.6" cy="684.4" r="1.35" class="s7"/>
<circle cx="211.5" cy="659.8" r="1.35" class="s7"/>
<circle cx="212.0" cy="685.2" r="1.35" class="s9"/>
<circle cx="211.3" cy="666.8" r="1.35" class="s8"/>
<circle cx="211.1" cy="678.4" r="1.35" class="s9"/>
<circle cx="211.3" cy="663.4" r="1.35" class="s8"/>
<circle cx="212.0" cy="662.0" r="1.35" class="s8"/>
<circle cx="212.1" cy="681.1" r="1.35" class="s5"/>
<circle cx="211.1" cy="664.3" r="1.35" class="s10"/>
<circle cx="211.5" cy="682.5" r="1.35" class="s6"/>
<circle cx="211.8" cy="683.4" r="1.35" class="s7"/>
<circle cx="210.6" cy="668.7" r="1.35" class="s8"/>
<circle cx="211.3" cy="684.4" r="1.35" class="s10"/>
<circle cx="211.2" cy="668.8" r="1.35" class="s9"/>
<circle cx="211.5" cy="682.9" r="1.35" class="s6"/>
<circle cx="211.4" cy="659.4" r="1.35" class="s7"/>
<circle cx="212.2" cy="684.1" r="1.35" class="s5"/>
<circle cx="212.0" cy="686.8" r="1.35" class="s6"/>
<circle cx="211.4" cy="681.5" r="1.35" class="s9"/>
<circle cx="211.3" cy="673.1" r="1.35" class="s6"/>
<circle cx="211.6" cy="658.9" r="1.35" class="s7"/>
<circle cx="211.1" cy="684.8" r="1.35" class="s8"/>
<circle cx="212.1" cy="668.3" r="1.35" class="s8"/>
<circle cx="220.4" cy="675.3" r="1.35" class="s4"/>
<circle cx="220.2" cy="679.1" r="1.35" class="s4"/>
<circle cx="219.9" cy="684.2" r="1.35" class="s3"/>
<circle cx="220.7" cy="669.6" r="1.35" class="s5"/>
<circle cx="220.7" cy="661.6" r="1.35" class="s2"/>
<circle cx="220.1" cy="686.4" r="1.35" class="s4"/>
<circle cx="220.6" cy="662.5" r="1.35" class="s5"/>
<circle cx="220.5" cy="670.9" r="1.35" class="s4"/>
<circle cx="220.4" cy="679.7" r="1.35" class="s6"/>
<circle cx="220.7" cy="674.7" r="1.35" class="s4"/>
<circle cx="220.0" cy="673.1" r="1.35" class="s4"/>
<circle cx="219.9" cy="656.8" r="1.35" class="s6"/>
<circle cx="219.0" cy="677.2" r="1.35" class="s3"/>
<circle cx="220.4" cy="680.0" r="1.35" class="s4"/>
<circle cx="232.1" cy="673.4" r="1.35" class="s3"/>
<circle cx="233.0" cy="679.0" r="1.35" class="s4"/>
<circle cx="232.1" cy="675.6" r="1.35" class="s3"/>
<circle cx="232.0" cy="681.1" r="1.35" class="s2"/>
<circle cx="230.9" cy="676.7" r="1.35" class="s5"/>
<circle cx="231.2" cy="672.1" r="1.35" class="s3"/>
<circle cx="231.5" cy="660.0" r="1.35" class="s6"/>
<circle cx="231.5" cy="680.5" r="1.35" class="s5"/>
<circle cx="232.8" cy="661.4" r="1.35" class="s3"/>
<circle cx="232.2" cy="663.1" r="1.35" class="s2"/>
<circle cx="232.6" cy="686.3" r="1.35" class="s6"/>
<circle cx="232.9" cy="678.3" r="1.35" class="s4"/>
<circle cx="232.0" cy="673.2" r="1.35" class="s2"/>
<circle cx="232.0" cy="671.7" r="1.35" class="s4"/>
<circle cx="232.7" cy="660.9" r="1.35" class="s5"/>
<circle cx="236.0" cy="670.8" r="1.35" class="s4"/>
<circle cx="236.8" cy="679.5" r="1.35" class="s6"/>
<circle cx="237.2" cy="672.2" r="1.35" class="s6"/>
<circle cx="237.1" cy="678.5" r="1.35" class="s3"/>
<circle cx="236.6" cy="682.9" r="1.35" class="s5"/>
<circle cx="236.9" cy="668.8" r="1.35" class="s5"/>
<circle cx="236.3" cy="665.6" r="1.35" class="s7"/>
<circle cx="236.7" cy="670.7" r="1.35" class="s4"/>
<circle cx="237.2" cy="658.2" r="1.35" class="s7"/>
<circle cx="236.4" cy="666.6" r="1.35" class="s5"/>
<circle cx="236.6" cy="673.0" r="1.35" class="s8"/>
<circle cx="237.0" cy="666.3" r="1.35" class="s8"/>
<circle cx="237.1" cy="676.3" r="1.35" class="s6"/>
<circle cx="236.7" cy="674.4" r="1.35" class="s7"/>
<circle cx="237.3" cy="673.5" r="1.35" class="s6"/>
<circle cx="237.7" cy="675.0" r="1.35" class="s3"/>
<circle cx="237.0" cy="678.4" r="1.35" class="s6"/>
<circle cx="249.0" cy="685.6" r="1.35" class="s5"/>
<circle cx="249.5" cy="670.9" r="1.35" class="s3"/>
<circle cx="249.7" cy="679.9" r="1.35" class="s4"/>
<circle cx="249.5" cy="671.0" r="1.35" class="s5"/>
<circle cx="249.9" cy="677.5" r="1.35" class="s3"/>
<circle cx="249.7" cy="671.2" r="1.35" class="s5"/>
<circle cx="249.2" cy="676.3" r="1.35" class="s6"/>
<circle cx="249.3" cy="669.7" r="1.35" class="s3"/>
<circle cx="249.8" cy="668.4" r="1.35" class="s3"/>
<circle cx="249.1" cy="682.7" r="1.35" class="s3"/>
<circle cx="249.9" cy="679.8" r="1.35" class="s3"/>
<circle cx="250.0" cy="683.1" r="1.35" class="s3"/>
<circle cx="248.5" cy="670.1" r="1.35" class="s6"/>
<circle cx="258.0" cy="679.2" r="1.35" class="s5"/>
<circle cx="258.4" cy="678.4" r="1.35" class="s6"/>
<circle cx="259.3" cy="670.6" r="1.35" class="s5"/>
<circle cx="258.5" cy="683.6" r="1.35" class="s4"/>
<circle cx="258.5" cy="661.8" r="1.35" class="s6"/>
<circle cx="258.5" cy="677.3" r="1.35" class="s4"/>
<circle cx="258.6" cy="663.2" r="1.35" class="s4"/>
<circle cx="258.4" cy="685.6" r="1.35" class="s4"/>
<circle cx="259.1" cy="686.7" r="1.35" class="s4"/>
<circle cx="258.0" cy="674.5" r="1.35" class="s4"/>
<circle cx="259.1" cy="676.8" r="1.35" class="s3"/>
<circle cx="258.8" cy="668.3" r="1.35" class="s5"/>
<circle cx="258.8" cy="670.6" r="1.35" class="s4"/>
<circle cx="258.6" cy="672.6" r="1.35" class="s6"/>
<circle cx="258.8" cy="671.8" r="1.35" class="s4"/>
<circle cx="270.3" cy="675.7" r="1.35" class="s6"/>
<circle cx="271.7" cy="671.2" r="1.35" class="s7"/>
<circle cx="271.2" cy="680.4" r="1.35" class="s8"/>
<circle cx="272.2" cy="683.9" r="1.35" class="s6"/>
<circle cx="272.3" cy="684.0" r="1.35" class="s6"/>
<circle cx="272.0" cy="675.2" r="1.35" class="s6"/>
<circle cx="271.3" cy="686.1" r="1.35" class="s8"/>
<circle cx="271.6" cy="662.7" r="1.35" class="s6"/>
<circle cx="271.1" cy="662.6" r="1.35" class="s4"/>
<circle cx="271.3" cy="670.0" r="1.35" class="s7"/>
<circle cx="271.9" cy="674.4" r="1.35" class="s4"/>
<circle cx="272.1" cy="676.6" r="1.35" class="s7"/>
<circle cx="270.7" cy="672.5" r="1.35" class="s5"/>
<circle cx="271.9" cy="672.5" r="1.35" class="s6"/>
<circle cx="271.7" cy="672.9" r="1.35" class="s4"/>
<circle cx="272.4" cy="683.5" r="1.35" class="s6"/>
<circle cx="280.5" cy="679.2" r="1.35" class="s5"/>
<circle cx="281.1" cy="674.3" r="1.35" class="s5"/>
<circle cx="279.5" cy="685.5" r="1.35" class="s3"/>
<circle cx="279.7" cy="680.4" r="1.35" class="s5"/>
<circle cx="280.1" cy="670.8" r="1.35" class="s5"/>
<circle cx="280.7" cy="675.9" r="1.35" class="s3"/>
<circle cx="280.7" cy="663.4" r="1.35" class="s4"/>
<circle cx="279.8" cy="668.1" r="1.35" class="s3"/>
<circle cx="280.2" cy="676.1" r="1.35" class="s3"/>
<circle cx="280.3" cy="668.6" r="1.35" class="s5"/>
<circle cx="279.2" cy="686.4" r="1.35" class="s6"/>
<circle cx="277.8" cy="670.4" r="1.35" class="s4"/>
<circle cx="250.9" cy="676.6" r="1.35" class="s3"/>
<circle cx="103.8" cy="671.7" r="1.35" class="s4"/>
<circle cx="251.7" cy="677.3" r="1.35" class="s4"/>
<circle cx="228.6" cy="683.8" r="1.35" class="s2"/>
<circle cx="286.7" cy="685.2" r="1.35" class="s2"/>
<circle cx="256.6" cy="677.4" r="1.35" class="s2"/>
<circle cx="176.0" cy="681.4" r="1.35" class="s4"/>
<circle cx="156.1" cy="679.7" r="1.35" class="s3"/>
<circle cx="180.3" cy="681.3" r="1.35" class="s2"/>
<circle cx="235.6" cy="666.1" r="1.35" class="s4"/>
<circle cx="109.0" cy="665.0" r="1.35" class="s3"/>
<circle cx="209.3" cy="664.6" r="1.35" class="s2"/>
<circle cx="234.5" cy="672.0" r="1.35" class="s3"/>
<circle cx="179.0" cy="681.6" r="1.35" class="s4"/>
<circle cx="259.3" cy="664.2" r="1.35" class="s4"/>
<circle cx="159.9" cy="684.3" r="1.35" class="s2"/>
<circle cx="254.7" cy="671.1" r="1.35" class="s3"/>
<circle cx="60.8" cy="682.9" r="1.35" class="s3"/>
<circle cx="53.5" cy="673.2" r="1.35" class="s2"/>
<circle cx="81.4" cy="679.7" r="1.35" class="s2"/>
<circle cx="100.6" cy="681.7" r="1.35" class="s3"/>
<circle cx="117.4" cy="669.4" r="1.35" class="s4"/>
<circle cx="263.6" cy="680.2" r="1.35" class="s2"/>
<circle cx="96.2" cy="671.0" r="1.35" class="s4"/>
<circle cx="129.2" cy="671.4" r="1.35" class="s4"/>
<circle cx="211.5" cy="669.5" r="1.35" class="s4"/>
<circle cx="119.7" cy="680.5" r="1.35" class="s2"/>
<circle cx="81.2" cy="675.8" r="1.35" class="s2"/>
<circle cx="56.1" cy="683.3" r="1.35" class="s4"/>
<circle cx="109.3" cy="683.8" r="1.35" class="s3"/>
<circle cx="59.4" cy="676.5" r="1.35" class="s3"/>
<circle cx="190.0" cy="680.6" r="1.35" class="s4"/>
<circle cx="63.5" cy="674.1" r="1.35" class="s3"/>
<circle cx="245.4" cy="671.1" r="1.35" class="s4"/>
<circle cx="155.9" cy="668.4" r="1.35" class="s2"/>
<circle cx="151.5" cy="673.4" r="1.35" class="s3"/>
<circle cx="210.3" cy="681.7" r="1.35" class="s2"/>
<circle cx="102.6" cy="682.6" r="1.35" class="s4"/>
<circle cx="224.5" cy="682.2" r="1.35" class="s2"/>
<circle cx="68.5" cy="670.9" r="1.35" class="s3"/>
<circle cx="181.1" cy="679.4" r="1.35" class="s3"/>
<circle cx="152.3" cy="672.2" r="1.35" class="s2"/>
<circle cx="133.7" cy="673.4" r="1.35" class="s4"/>
<circle cx="52.9" cy="670.1" r="1.35" class="s3"/>
<circle cx="171.6" cy="681.9" r="1.35" class="s2"/>
<circle cx="54.9" cy="685.4" r="1.35" class="s4"/>
<circle cx="250.8" cy="678.8" r="1.35" class="s3"/>
<circle cx="287.7" cy="682.7" r="1.35" class="s4"/>
<circle cx="203.5" cy="671.4" r="1.35" class="s2"/>
<circle cx="54.2" cy="684.4" r="1.35" class="s4"/>
<circle cx="279.9" cy="671.3" r="1.35" class="s3"/>
<circle cx="87.4" cy="679.0" r="1.35" class="s2"/>
<circle cx="219.8" cy="667.7" r="1.35" class="s2"/>
<circle cx="286.3" cy="679.4" r="1.35" class="s2"/>
<circle cx="249.0" cy="678.3" r="1.35" class="s3"/>
<circle cx="102.7" cy="684.0" r="1.35" class="s2"/>
<circle cx="179.1" cy="674.5" r="1.35" class="s2"/>
<circle cx="124.2" cy="680.5" r="1.35" class="s3"/>
<circle cx="238.6" cy="683.5" r="1.35" class="s4"/>
<circle cx="107.8" cy="678.9" r="1.35" class="s2"/>
<circle cx="211.0" cy="674.6" r="1.35" class="s4"/>
<circle cx="258.3" cy="681.8" r="1.35" class="s3"/>
<circle cx="161.5" cy="670.6" r="1.35" class="s4"/>
<circle cx="123.6" cy="673.9" r="1.35" class="s2"/>
<circle cx="239.7" cy="681.7" r="1.35" class="s2"/>
<circle cx="131.7" cy="682.9" r="1.35" class="s4"/>
<circle cx="186.4" cy="672.5" r="1.35" class="s2"/>
<circle cx="149.5" cy="678.0" r="1.35" class="s4"/>
<circle cx="194.3" cy="675.7" r="1.35" class="s2"/>
<circle cx="112.1" cy="670.3" r="1.35" class="s2"/>
<circle cx="274.1" cy="685.4" r="1.35" class="s4"/>
<circle cx="226.6" cy="677.5" r="1.35" class="s4"/>
<circle cx="59.7" cy="683.7" r="1.35" class="s3"/>
<circle cx="244.1" cy="670.8" r="1.35" class="s2"/>
<circle cx="139.8" cy="681.2" r="1.35" class="s3"/>
<circle cx="280.9" cy="665.8" r="1.35" class="s3"/>
<circle cx="129.8" cy="678.7" r="1.35" class="s4"/>
<circle cx="111.9" cy="680.5" r="1.35" class="s2"/>
<circle cx="86.4" cy="674.2" r="1.35" class="s4"/>
<circle cx="195.0" cy="680.2" r="1.35" class="s3"/>
<circle cx="57.4" cy="664.7" r="1.35" class="s3"/>
<circle cx="275.9" cy="668.6" r="1.35" class="s4"/>
<circle cx="223.4" cy="673.5" r="1.35" class="s2"/>
<circle cx="179.9" cy="680.2" r="1.35" class="s4"/>
<circle cx="71.6" cy="678.6" r="1.35" class="s2"/>
<circle cx="255.4" cy="672.9" r="1.35" class="s4"/>
<circle cx="53.7" cy="673.8" r="1.35" class="s2"/>
<circle cx="130.1" cy="676.3" r="1.35" class="s2"/>
<circle cx="166.3" cy="671.7" r="1.35" class="s4"/>
<circle cx="187.9" cy="684.3" r="1.35" class="s3"/>
<circle cx="229.6" cy="679.5" r="1.35" class="s3"/>
<circle cx="67.9" cy="685.4" r="1.35" class="s2"/>
<circle cx="264.4" cy="685.4" r="1.35" class="s4"/>
<circle cx="179.9" cy="669.3" r="1.35" class="s4"/>
<circle cx="222.3" cy="685.1" r="1.35" class="s4"/>
<circle cx="229.7" cy="684.0" r="1.35" class="s3"/>
<circle cx="96.4" cy="679.1" r="1.35" class="s4"/>
<circle cx="82.9" cy="677.3" r="1.35" class="s4"/>
<circle cx="244.1" cy="684.8" r="1.35" class="s4"/>
<circle cx="125.4" cy="680.1" r="1.35" class="s4"/>
<circle cx="53.4" cy="675.8" r="1.35" class="s3"/>
<circle cx="171.9" cy="681.5" r="1.35" class="s2"/>
<circle cx="219.0" cy="676.2" r="1.35" class="s2"/>
<circle cx="288.6" cy="681.6" r="1.35" class="s2"/>
<circle cx="108.8" cy="670.2" r="1.35" class="s4"/>
<circle cx="255.5" cy="678.1" r="1.35" class="s4"/>
<circle cx="53.5" cy="669.0" r="1.35" class="s3"/>
<circle cx="81.1" cy="678.2" r="1.35" class="s3"/>
<circle cx="161.9" cy="677.9" r="1.35" class="s3"/>
<circle cx="143.8" cy="673.3" r="1.35" class="s3"/>
<circle cx="254.2" cy="671.1" r="1.35" class="s3"/>
<circle cx="72.8" cy="670.4" r="1.35" class="s3"/>
<circle cx="267.1" cy="667.6" r="1.35" class="s4"/>
<circle cx="190.1" cy="673.4" r="1.35" class="s2"/>
<circle cx="272.8" cy="677.5" r="1.35" class="s2"/>
<circle cx="221.7" cy="671.0" r="1.35" class="s2"/>
<circle cx="118.1" cy="673.7" r="1.35" class="s3"/>
<circle cx="210.2" cy="666.6" r="1.35" class="s3"/>
<circle cx="258.8" cy="679.7" r="1.35" class="s2"/>
<circle cx="269.1" cy="605.5" r="1.35" class="s3"/>
<circle cx="269.4" cy="602.5" r="1.35" class="s3"/>
<circle cx="269.2" cy="593.1" r="1.35" class="s3"/>
<circle cx="269.6" cy="609.9" r="1.35" class="s3"/>
<circle cx="269.0" cy="589.1" r="1.35" class="s4"/>
<circle cx="269.8" cy="599.6" r="1.35" class="s2"/>
<circle cx="269.0" cy="599.7" r="1.35" class="s4"/>
<circle cx="269.3" cy="576.8" r="1.35" class="s3"/>
<circle cx="259.0" cy="601.6" r="1.35" class="s2"/>
<circle cx="103.0" cy="646.1" r="1.35" class="s2"/>
<circle cx="180.2" cy="611.7" r="1.35" class="s2"/>
<circle cx="145.9" cy="643.6" r="1.35" class="s1"/>
<circle cx="175.9" cy="587.5" r="1.35" class="s1"/>
<circle cx="200.0" cy="580.7" r="1.35" class="s2"/>
<circle cx="149.9" cy="594.2" r="1.35" class="s3"/>
<circle cx="117.9" cy="589.5" r="1.35" class="s1"/>
<circle cx="95.1" cy="588.5" r="1.35" class="s2"/>
<circle cx="177.3" cy="631.0" r="1.35" class="s2"/>
<circle cx="76.4" cy="607.5" r="1.35" class="s2"/>
<circle cx="273.5" cy="647.7" r="1.35" class="s2"/>
<circle cx="99.6" cy="598.0" r="1.35" class="s2"/>
<circle cx="278.2" cy="579.2" r="1.35" class="s2"/>
<circle cx="54.5" cy="612.8" r="1.35" class="s2"/>
<circle cx="93.9" cy="597.4" r="1.35" class="s3"/>
<circle cx="184.7" cy="588.7" r="1.35" class="s2"/>
<circle cx="230.4" cy="609.3" r="1.35" class="s1"/>
<circle cx="240.7" cy="643.3" r="1.35" class="s3"/>
<circle cx="217.2" cy="607.1" r="1.35" class="s3"/>
<circle cx="52.3" cy="649.3" r="1.35" class="s2"/>
<circle cx="196.4" cy="597.6" r="1.35" class="s2"/>
<circle cx="142.6" cy="580.1" r="1.35" class="s2"/>
<circle cx="139.2" cy="639.2" r="1.35" class="s2"/>
<circle cx="217.4" cy="606.3" r="1.35" class="s2"/>
<circle cx="275.8" cy="645.7" r="1.35" class="s3"/>
<circle cx="133.3" cy="584.6" r="1.35" class="s2"/>
<circle cx="242.0" cy="641.4" r="1.35" class="s2"/>
<circle cx="157.1" cy="616.8" r="1.35" class="s1"/>
<circle cx="116.1" cy="641.0" r="1.35" class="s2"/>
<circle cx="125.1" cy="590.9" r="1.35" class="s1"/>
<circle cx="169.6" cy="644.0" r="1.35" class="s2"/>
<circle cx="220.8" cy="631.4" r="1.35" class="s2"/>
<circle cx="78.5" cy="649.0" r="1.35" class="s3"/>
<circle cx="159.4" cy="625.5" r="1.35" class="s2"/>
<circle cx="220.6" cy="585.9" r="1.35" class="s2"/>
<circle cx="178.3" cy="571.7" r="1.35" class="s2"/>
<circle cx="156.4" cy="570.4" r="1.35" class="s2"/>
<circle cx="263.1" cy="571.7" r="1.35" class="s2"/>
<circle cx="226.9" cy="631.7" r="1.35" class="s1"/>
<circle cx="55.9" cy="640.3" r="1.35" class="s1"/>
<circle cx="245.6" cy="581.8" r="1.35" class="s2"/>
<circle cx="267.4" cy="651.2" r="1.35" class="s1"/>
<circle cx="88.5" cy="610.7" r="1.35" class="s2"/>
<circle cx="71.0" cy="634.9" r="1.35" class="s2"/>
<circle cx="194.9" cy="628.2" r="1.35" class="s2"/>
<circle cx="85.1" cy="628.4" r="1.35" class="s3"/>
<circle cx="65.3" cy="623.5" r="1.35" class="s2"/>
<circle cx="170.7" cy="593.9" r="1.35" class="s1"/>
<circle cx="192.5" cy="596.6" r="1.35" class="s1"/>
<circle cx="60.0" cy="592.7" r="1.35" class="s1"/>
<circle cx="120.2" cy="620.6" r="1.35" class="s3"/>
<circle cx="157.3" cy="575.0" r="1.35" class="s1"/>
<circle cx="214.9" cy="627.6" r="1.35" class="s1"/>
<circle cx="70.3" cy="579.2" r="1.35" class="s1"/>
<circle cx="214.1" cy="648.1" r="1.35" class="s1"/>
<circle cx="83.8" cy="626.3" r="1.35" class="s2"/>
<circle cx="93.8" cy="585.1" r="1.35" class="s2"/>
<circle cx="217.0" cy="574.6" r="1.35" class="s2"/>
<circle cx="80.1" cy="610.3" r="1.35" class="s1"/>
<circle cx="102.7" cy="638.7" r="1.35" class="s2"/>
<circle cx="170.6" cy="584.2" r="1.35" class="s2"/>
<circle cx="185.7" cy="606.3" r="1.35" class="s2"/>
<circle cx="191.3" cy="578.2" r="1.35" class="s2"/>
<circle cx="228.1" cy="632.2" r="1.35" class="s2"/>
<circle cx="227.7" cy="597.8" r="1.35" class="s2"/>
<circle cx="156.5" cy="580.8" r="1.35" class="s1"/>
<circle cx="272.2" cy="636.3" r="1.35" class="s3"/>
<circle cx="289.7" cy="607.5" r="1.35" class="s2"/>
<circle cx="164.7" cy="581.4" r="1.35" class="s1"/>
<circle cx="416.1" cy="587.6" r="1.35" class="s2"/>
<circle cx="423.4" cy="621.9" r="1.35" class="s2"/>
<circle cx="462.7" cy="595.3" r="1.35" class="s2"/>
<circle cx="397.6" cy="629.0" r="1.35" class="s1"/>
<circle cx="360.0" cy="608.7" r="1.35" class="s3"/>
<circle cx="427.5" cy="597.2" r="1.35" class="s2"/>
<circle cx="325.2" cy="637.0" r="1.35" class="s2"/>
<circle cx="424.1" cy="641.6" r="1.35" class="s2"/>
<circle cx="482.8" cy="590.9" r="1.35" class="s2"/>
<circle cx="401.2" cy="635.2" r="1.35" class="s3"/>
<circle cx="481.7" cy="642.6" r="1.35" class="s2"/>
<circle cx="477.3" cy="590.1" r="1.35" class="s3"/>
<circle cx="371.1" cy="605.8" r="1.35" class="s2"/>
<circle cx="422.9" cy="601.6" r="1.35" class="s2"/>
<circle cx="324.6" cy="645.8" r="1.35" class="s2"/>
<circle cx="316.9" cy="591.3" r="1.35" class="s3"/>
<circle cx="344.0" cy="602.6" r="1.35" class="s3"/>
<circle cx="393.1" cy="612.9" r="1.35" class="s2"/>
<circle cx="465.9" cy="633.9" r="1.35" class="s2"/>
<circle cx="416.6" cy="594.6" r="1.35" class="s2"/>
<circle cx="322.5" cy="628.9" r="1.35" class="s2"/>
<circle cx="341.0" cy="627.9" r="1.35" class="s2"/>
<circle cx="446.5" cy="642.6" r="1.35" class="s3"/>
<circle cx="492.3" cy="591.5" r="1.35" class="s3"/>
<circle cx="340.8" cy="645.5" r="1.35" class="s2"/>
<circle cx="362.3" cy="587.8" r="1.35" class="s2"/>
<circle cx="454.4" cy="632.4" r="1.35" class="s2"/>
<circle cx="396.8" cy="646.5" r="1.35" class="s1"/>
<circle cx="431.3" cy="603.1" r="1.35" class="s2"/>
<circle cx="397.3" cy="590.1" r="1.35" class="s1"/>
<rect x="169.1" y="543" width="4.6" height="121" rx="2" fill="url(#cg1)"/>
<rect x="175.7" y="556" width="3.2" height="106" rx="1.5" fill="url(#cg2)"/>
<circle cx="171.4" cy="545.5" r="1.35" class="s6"/>
<circle cx="170.7" cy="625.2" r="1.35" class="s5"/>
<circle cx="171.7" cy="563.9" r="1.35" class="s9"/>
<circle cx="170.5" cy="648.0" r="1.35" class="s7"/>
<circle cx="171.3" cy="633.1" r="1.35" class="s5"/>
<circle cx="170.3" cy="584.0" r="1.35" class="s11"/>
<circle cx="171.2" cy="654.3" r="1.35" class="s9"/>
<circle cx="171.2" cy="636.0" r="1.35" class="s8"/>
<circle cx="171.3" cy="590.1" r="1.35" class="s7"/>
<circle cx="171.2" cy="650.8" r="1.35" class="s8"/>
<circle cx="170.9" cy="577.8" r="1.35" class="s7"/>
<circle cx="171.7" cy="636.7" r="1.35" class="s8"/>
<circle cx="171.6" cy="611.6" r="1.35" class="s6"/>
<circle cx="170.8" cy="663.3" r="1.35" class="s10"/>
<circle cx="171.7" cy="546.6" r="1.35" class="s9"/>
<circle cx="171.8" cy="547.9" r="1.35" class="s8"/>
<circle cx="171.4" cy="622.7" r="1.35" class="s12"/>
<circle cx="171.6" cy="634.2" r="1.35" class="s5"/>
<circle cx="171.6" cy="595.6" r="1.35" class="s10"/>
<circle cx="171.3" cy="604.8" r="1.35" class="s6"/>
<circle cx="170.2" cy="562.5" r="1.35" class="s8"/>
<circle cx="172.6" cy="635.4" r="1.35" class="s9"/>
<circle cx="171.4" cy="601.0" r="1.35" class="s10"/>
<circle cx="171.5" cy="598.0" r="1.35" class="s8"/>
<circle cx="172.3" cy="576.9" r="1.35" class="s11"/>
<circle cx="170.7" cy="558.7" r="1.35" class="s10"/>
<circle cx="171.7" cy="546.6" r="1.35" class="s5"/>
<circle cx="171.8" cy="545.7" r="1.35" class="s12"/>
<circle cx="170.6" cy="554.5" r="1.35" class="s7"/>
<circle cx="171.0" cy="570.6" r="1.35" class="s10"/>
<circle cx="171.9" cy="664.4" r="1.35" class="s8"/>
<circle cx="171.1" cy="597.5" r="1.35" class="s9"/>
<circle cx="171.7" cy="593.9" r="1.35" class="s12"/>
<circle cx="172.6" cy="664.4" r="1.35" class="s8"/>
<circle cx="171.0" cy="625.0" r="1.35" class="s6"/>
<circle cx="171.4" cy="659.2" r="1.35" class="s9"/>
<circle cx="171.1" cy="565.7" r="1.35" class="s7"/>
<circle cx="170.8" cy="636.7" r="1.35" class="s6"/>
<circle cx="171.8" cy="581.2" r="1.35" class="s6"/>
<circle cx="171.0" cy="593.2" r="1.35" class="s6"/>
<circle cx="171.7" cy="652.5" r="1.35" class="s7"/>
<circle cx="171.3" cy="640.5" r="1.35" class="s11"/>
<circle cx="172.3" cy="615.3" r="1.35" class="s6"/>
<circle cx="171.4" cy="548.6" r="1.35" class="s11"/>
<circle cx="171.5" cy="579.3" r="1.35" class="s5"/>
<circle cx="171.5" cy="632.1" r="1.35" class="s6"/>
<circle cx="171.8" cy="654.6" r="1.35" class="s12"/>
<circle cx="172.2" cy="613.7" r="1.35" class="s9"/>
<circle cx="172.0" cy="579.3" r="1.35" class="s6"/>
<circle cx="171.5" cy="638.1" r="1.35" class="s12"/>
<circle cx="177.3" cy="617.7" r="1.35" class="s4"/>
<circle cx="177.3" cy="610.9" r="1.35" class="s5"/>
<circle cx="177.5" cy="570.0" r="1.35" class="s5"/>
<circle cx="176.8" cy="557.2" r="1.35" class="s6"/>
<circle cx="177.0" cy="568.8" r="1.35" class="s3"/>
<circle cx="176.8" cy="632.6" r="1.35" class="s3"/>
<circle cx="177.0" cy="579.2" r="1.35" class="s6"/>
<circle cx="176.9" cy="646.7" r="1.35" class="s6"/>
<circle cx="176.9" cy="572.8" r="1.35" class="s4"/>
<circle cx="177.7" cy="602.6" r="1.35" class="s6"/>
<circle cx="178.0" cy="635.9" r="1.35" class="s6"/>
<circle cx="176.8" cy="600.3" r="1.35" class="s4"/>
<circle cx="177.2" cy="632.9" r="1.35" class="s5"/>
<circle cx="176.5" cy="625.6" r="1.35" class="s4"/>
<circle cx="176.3" cy="650.8" r="1.35" class="s4"/>
<circle cx="176.2" cy="596.2" r="1.35" class="s3"/>
<circle cx="176.8" cy="588.2" r="1.35" class="s6"/>
<circle cx="177.0" cy="640.0" r="1.35" class="s6"/>
<circle cx="177.4" cy="630.1" r="1.35" class="s4"/>
<circle cx="177.0" cy="630.7" r="1.35" class="s7"/>
<circle cx="177.4" cy="630.8" r="1.35" class="s4"/>
<circle cx="177.4" cy="625.2" r="1.35" class="s4"/>
<circle cx="177.8" cy="656.1" r="1.35" class="s6"/>
<circle cx="178.6" cy="605.5" r="1.35" class="s7"/>
<circle cx="176.8" cy="602.8" r="1.35" class="s6"/>
<circle cx="290.7" cy="579.1" r="1.35" class="s4"/>
<circle cx="290.8" cy="648.4" r="1.35" class="s6"/>
<circle cx="290.7" cy="614.6" r="1.35" class="s3"/>
<circle cx="290.1" cy="622.9" r="1.35" class="s4"/>
<circle cx="290.6" cy="643.0" r="1.35" class="s3"/>
<circle cx="291.0" cy="643.2" r="1.35" class="s2"/>
<circle cx="290.3" cy="591.3" r="1.35" class="s3"/>
<circle cx="290.8" cy="624.6" r="1.35" class="s4"/>
<circle cx="290.1" cy="615.1" r="1.35" class="s5"/>
<circle cx="290.3" cy="647.3" r="1.35" class="s3"/>
<circle cx="290.7" cy="609.6" r="1.35" class="s3"/>
<circle cx="290.1" cy="640.5" r="1.35" class="s5"/>
<circle cx="291.1" cy="623.9" r="1.35" class="s3"/>
<circle cx="290.5" cy="649.8" r="1.35" class="s6"/>
<circle cx="290.5" cy="642.3" r="1.35" class="s5"/>
<circle cx="290.5" cy="647.0" r="1.35" class="s3"/></g>
<text x="0" y="0" font-size="12.2" font-weight="bold" fill="#111" stroke="#111" stroke-width="0.35" transform="translate(0.6 9.2) scale(0.86 1)">A</text>
<rect x="27.7" y="68.85" width="76.5" height="4.7" rx="1.4" fill="#c6c6c6"/>
<rect x="27.7" y="76.4" width="76.5" height="4.7" rx="1.4" fill="#c6c6c6"/>
<rect x="131.0" y="68.85" width="76.7" height="4.7" rx="1.4" fill="#c6c6c6"/>
<rect x="131.0" y="76.4" width="76.7" height="4.7" rx="1.4" fill="#c6c6c6"/>
<rect x="337.8" y="69.2" width="77.0" height="4.7" rx="1.4" fill="#c6c6c6"/>
<rect x="337.8" y="76.8" width="77.0" height="4.7" rx="1.4" fill="#c6c6c6"/>
<rect x="441.2" y="69.4" width="77.3" height="4.7" rx="1.4" fill="#c6c6c6"/>
<rect x="441.2" y="77.0" width="77.3" height="4.7" rx="1.4" fill="#c6c6c6"/>
<circle cx="142.3" cy="71.3" r="2.95" fill="#a8b8e8" stroke="#32489a" stroke-width="1.5"/>
<circle cx="151.8" cy="78.6" r="2.95" fill="#a8b8e8" stroke="#32489a" stroke-width="1.5"/>
<circle cx="173.4" cy="71.3" r="2.95" fill="#a8b8e8" stroke="#32489a" stroke-width="1.5"/>
<circle cx="182.1" cy="71.3" r="2.95" fill="#a8b8e8" stroke="#32489a" stroke-width="1.5"/>
<circle cx="199.9" cy="78.6" r="2.95" fill="#a8b8e8" stroke="#32489a" stroke-width="1.5"/>
<path d="M344.55,74.10 L348.20,67.90 L351.85,74.10 Z" fill="#f8d2d2" stroke="#d03c4c" stroke-width="1.05" stroke-linejoin="round"/>
<path d="M344.55,81.90 L348.20,75.70 L351.85,81.90 Z" fill="#f8d2d2" stroke="#d03c4c" stroke-width="1.05" stroke-linejoin="round"/>
<path d="M375.65,74.10 L379.30,67.90 L382.95,74.10 Z" fill="#f8d2d2" stroke="#d03c4c" stroke-width="1.05" stroke-linejoin="round"/>
<path d="M375.65,81.90 L379.30,75.70 L382.95,81.90 Z" fill="#f8d2d2" stroke="#d03c4c" stroke-width="1.05" stroke-linejoin="round"/>
<path d="M384.55,74.10 L388.20,67.90 L391.85,74.10 Z" fill="#f8d2d2" stroke="#d03c4c" stroke-width="1.05" stroke-linejoin="round"/>
<path d="M384.55,81.90 L388.20,75.70 L391.85,81.90 Z" fill="#f8d2d2" stroke="#d03c4c" stroke-width="1.05" stroke-linejoin="round"/>
<path d="M447.95,74.40 L451.60,68.20 L455.25,74.40 Z" fill="#f8d2d2" stroke="#d03c4c" stroke-width="1.05" stroke-linejoin="round"/>
<path d="M447.95,82.20 L451.60,76.00 L455.25,82.20 Z" fill="#f8d2d2" stroke="#d03c4c" stroke-width="1.05" stroke-linejoin="round"/>
<path d="M478.25,74.40 L481.90,68.20 L485.55,74.40 Z" fill="#f8d2d2" stroke="#d03c4c" stroke-width="1.05" stroke-linejoin="round"/>
<path d="M478.25,82.20 L481.90,76.00 L485.55,82.20 Z" fill="#f8d2d2" stroke="#d03c4c" stroke-width="1.05" stroke-linejoin="round"/>
<path d="M487.75,74.40 L491.40,68.20 L495.05,74.40 Z" fill="#f8d2d2" stroke="#d03c4c" stroke-width="1.05" stroke-linejoin="round"/>
<path d="M487.75,82.20 L491.40,76.00 L495.05,82.20 Z" fill="#f8d2d2" stroke="#d03c4c" stroke-width="1.05" stroke-linejoin="round"/>
<circle cx="466.3" cy="71.9" r="2.95" fill="#a8b8e8" stroke="#32489a" stroke-width="1.5"/>
<circle cx="487.4" cy="80.5" r="2.95" fill="#a8b8e8" stroke="#32489a" stroke-width="1.5"/>
<circle cx="515.2" cy="71.9" r="2.95" fill="#a8b8e8" stroke="#32489a" stroke-width="1.5"/>
<defs><linearGradient id="ag" gradientUnits="userSpaceOnUse" x1="240.2" x2="324.5" y1="0" y2="0"><stop offset="0" stop-color="#e8f5fb"/><stop offset="0.5" stop-color="#d6edf8"/><stop offset="1" stop-color="#c6e5f4"/></linearGradient><filter id="bl" x="-5%" y="-5%" width="110%" height="110%"><feGaussianBlur in="SourceGraphic" stdDeviation="0.9" result="b"/><feComposite in="SourceGraphic" in2="b" operator="arithmetic" k1="0" k2="0.45" k3="0.55" k4="0"/></filter></defs>
<path d="M240.2,63.4 L285.2,63.4 L285.2,50.8 L324.6,75.5 L285.2,100.6 L285.2,87.4 L240.2,87.4 Z" fill="url(#ag)"/>
<text x="221" y="79" font-size="10.15" text-anchor="start" fill="#222" stroke="#222" stroke-width="0.12">Copy-neutral LOH</text>
<path d="M78.90,118.86 L82.50,112.74 L86.10,118.86 Z" fill="#f8d2d2" stroke="#d03c4c" stroke-width="1.05" stroke-linejoin="round"/>
<text x="92.9" y="119.8" font-size="10" text-anchor="start" fill="#262626" stroke="#262626" stroke-width="0.12">Homozygous mutation</text>
<circle cx="82.5" cy="130.6" r="3.0" fill="#a8b8e8" stroke="#32489a" stroke-width="1.5"/>
<text x="92.9" y="134.7" font-size="10" text-anchor="start" fill="#262626" stroke="#262626" stroke-width="0.12">Heterozygous mutation</text>
<text x="438.5" y="11.3" font-size="10" text-anchor="middle" fill="#111" stroke="#111" stroke-width="0.12">Mutations occurring</text>
<text x="438.5" y="26.9" font-size="10" text-anchor="middle" fill="#111" stroke="#111" stroke-width="0.12"><tspan font-style="italic">before</tspan> the duplication</text>
<text x="438.5" y="41.8" font-size="10" text-anchor="middle" fill="#111" stroke="#111" stroke-width="0.12">show <tspan font-style="italic">double</tspan> copy number.</text>
<text x="438.5" y="113.7" font-size="10" text-anchor="middle" fill="#111" stroke="#111" stroke-width="0.12">Mutations occurring <tspan font-style="italic">after</tspan></text>
<text x="438.5" y="129.3" font-size="10" text-anchor="middle" fill="#111" stroke="#111" stroke-width="0.12">the duplication show</text>
<text x="438.5" y="144.6" font-size="10" text-anchor="middle" fill="#111" stroke="#111" stroke-width="0.12"><tspan font-style="italic">single</tspan> copy number.</text>
<path d="M439.2,43.5 L449.51,63.04" stroke="#a02a30" stroke-width="1.25" fill="none"/>
<path d="M451.7,67.2 L447.33,63.63 L451.22,61.57 Z" fill="#a02a30"/>
<path d="M471.9,106.0 L484.32,88.16" stroke="#22308a" stroke-width="1.25" fill="none"/>
<path d="M487.0,84.3 L485.84,89.82 L482.22,87.31 Z" fill="#22308a"/>
<text x="0" y="0" font-size="12.2" font-weight="bold" fill="#111" stroke="#111" stroke-width="0.35" transform="translate(0.9 185.6) scale(0.86 1)">B</text>
<rect x="50.2" y="179.0" width="440.7" height="146.39999999999998" fill="none" stroke="#7a7a7a" stroke-width="1.2"/>
<line x1="46.0" y1="325.40" x2="50.2" y2="325.40" stroke="#666" stroke-width="0.9"/>
<line x1="46.0" y1="310.88" x2="50.2" y2="310.88" stroke="#666" stroke-width="0.9"/>
<line x1="46.0" y1="296.36" x2="50.2" y2="296.36" stroke="#666" stroke-width="0.9"/>
<line x1="46.0" y1="281.84" x2="50.2" y2="281.84" stroke="#666" stroke-width="0.9"/>
<line x1="46.0" y1="267.32" x2="50.2" y2="267.32" stroke="#666" stroke-width="0.9"/>
<line x1="46.0" y1="252.80" x2="50.2" y2="252.80" stroke="#666" stroke-width="0.9"/>
<line x1="46.0" y1="238.28" x2="50.2" y2="238.28" stroke="#666" stroke-width="0.9"/>
<line x1="46.0" y1="223.76" x2="50.2" y2="223.76" stroke="#666" stroke-width="0.9"/>
<line x1="46.0" y1="209.24" x2="50.2" y2="209.24" stroke="#666" stroke-width="0.9"/>
<line x1="46.0" y1="194.72" x2="50.2" y2="194.72" stroke="#666" stroke-width="0.9"/>
<line x1="46.0" y1="180.20" x2="50.2" y2="180.20" stroke="#666" stroke-width="0.9"/>
<text x="44.9" y="325.4" font-size="9.4" text-anchor="middle" fill="#222" transform="rotate(-90 44.9 325.4)" stroke="#222" stroke-width="0.15">0</text>
<text x="44.9" y="252.8" font-size="9.4" text-anchor="middle" fill="#222" transform="rotate(-90 44.9 252.8)" stroke="#222" stroke-width="0.15">0.5</text>
<text x="44.9" y="180.2" font-size="9.4" text-anchor="middle" fill="#222" transform="rotate(-90 44.9 180.2)" stroke="#222" stroke-width="0.15">1</text>
<text x="32.0" y="252.2" font-size="9.1" text-anchor="middle" fill="#222" transform="rotate(-90 32.0 252.2)" stroke="#222" stroke-width="0.15">Allele frequency</text>
<line x1="50.2" y1="225.4" x2="490.9" y2="225.4" stroke="#8e8e8e" stroke-width="1.1" stroke-dasharray="3,2.8"/>
<line x1="50.2" y1="275.3" x2="490.9" y2="275.3" stroke="#979797" stroke-width="1.1"/>
<rect x="50.800000000000004" y="320.60" width="97.50" height="4.4" fill="#f4a6bf"/>
<path d="M169.0,172.8 L174.0,172.8 L171.5,178.9 Z" fill="#111"/>
<circle cx="89.5" cy="242.5" r="1.3" fill="none" stroke="#43509a" stroke-width="1.45"/>
<circle cx="90" cy="247.75" r="1.3" fill="none" stroke="#43509a" stroke-width="1.45"/>
<circle cx="90" cy="249.25" r="1.3" fill="none" stroke="#43509a" stroke-width="1.45"/>
<circle cx="89.5" cy="263.25" r="1.3" fill="none" stroke="#43509a" stroke-width="1.45"/>
<circle cx="58.75" cy="273.25" r="1.3" fill="none" stroke="#43509a" stroke-width="1.45"/>
<circle cx="66.25" cy="271" r="1.3" fill="none" stroke="#43509a" stroke-width="1.45"/>
<circle cx="95.5" cy="269.75" r="1.3" fill="none" stroke="#43509a" stroke-width="1.45"/>
<circle cx="106.75" cy="270" r="1.3" fill="none" stroke="#43509a" stroke-width="1.45"/>
<circle cx="89.25" cy="273.75" r="1.3" fill="none" stroke="#43509a" stroke-width="1.45"/>
<circle cx="92.5" cy="275" r="1.3" fill="none" stroke="#43509a" stroke-width="1.45"/>
<circle cx="95" cy="277" r="1.3" fill="none" stroke="#43509a" stroke-width="1.45"/>
<circle cx="73.75" cy="276.75" r="1.3" fill="none" stroke="#43509a" stroke-width="1.45"/>
<circle cx="66.75" cy="279.5" r="1.3" fill="none" stroke="#43509a" stroke-width="1.45"/>
<circle cx="76.25" cy="279.5" r="1.3" fill="none" stroke="#43509a" stroke-width="1.45"/>
<circle cx="75.5" cy="281" r="1.3" fill="none" stroke="#43509a" stroke-width="1.45"/>
<circle cx="106.25" cy="279" r="1.3" fill="none" stroke="#43509a" stroke-width="1.45"/>
<circle cx="113.75" cy="275.75" r="1.3" fill="none" stroke="#43509a" stroke-width="1.45"/>
<circle cx="137" cy="275.75" r="1.3" fill="none" stroke="#43509a" stroke-width="1.45"/>
<circle cx="71" cy="285.5" r="1.3" fill="none" stroke="#43509a" stroke-width="1.45"/>
<circle cx="84.75" cy="288" r="1.3" fill="none" stroke="#43509a" stroke-width="1.45"/>
<circle cx="106.25" cy="287.5" r="1.3" fill="none" stroke="#43509a" stroke-width="1.45"/>
<circle cx="108" cy="287.5" r="1.3" fill="none" stroke="#43509a" stroke-width="1.45"/>
<circle cx="62" cy="302" r="1.3" fill="none" stroke="#43509a" stroke-width="1.45"/>
<circle cx="94.5" cy="298" r="1.3" fill="none" stroke="#43509a" stroke-width="1.45"/>
<circle cx="95" cy="302.5" r="1.3" fill="none" stroke="#43509a" stroke-width="1.45"/>
<path d="M147.45,278.70L150.05,281.30M147.45,281.30L150.05,278.70" stroke="#cf9a45" stroke-width="1.15"/>
<path d="M156.00,276.95L158.60,279.55M156.00,279.55L158.60,276.95" stroke="#cf9a45" stroke-width="1.15"/>
<path d="M179.95,271.70L182.55,274.30M179.95,274.30L182.55,271.70" stroke="#cf9a45" stroke-width="1.15"/>
<path d="M179.45,286.70L182.05,289.30M179.45,289.30L182.05,286.70" stroke="#cf9a45" stroke-width="1.15"/>
<path d="M178.20,289.20L180.80,291.80M178.20,291.80L180.80,289.20" stroke="#cf9a45" stroke-width="1.15"/>
<path d="M180.20,294.20L182.80,296.80M180.20,296.80L182.80,294.20" stroke="#cf9a45" stroke-width="1.15"/>
<path d="M194.20,283.70L196.80,286.30M194.20,286.30L196.80,283.70" stroke="#cf9a45" stroke-width="1.15"/>
<path d="M218.20,279.95L220.80,282.55M218.20,282.55L220.80,279.95" stroke="#cf9a45" stroke-width="1.15"/>
<path d="M228.20,287.45L230.80,290.05M228.20,290.05L230.80,287.45" stroke="#cf9a45" stroke-width="1.15"/>
<path d="M239.20,267.45L241.80,270.05M239.20,270.05L241.80,267.45" stroke="#cf9a45" stroke-width="1.15"/>
<path d="M239.95,270.70L242.55,273.30M239.95,273.30L242.55,270.70" stroke="#cf9a45" stroke-width="1.15"/>
<path d="M243.70,280.70L246.30,283.30M243.70,283.30L246.30,280.70" stroke="#cf9a45" stroke-width="1.15"/>
<path d="M248.70,283.70L251.30,286.30M248.70,286.30L251.30,283.70" stroke="#cf9a45" stroke-width="1.15"/>
<path d="M254.20,278.70L256.80,281.30M254.20,281.30L256.80,278.70" stroke="#cf9a45" stroke-width="1.15"/>
<path d="M254.20,280.70L256.80,283.30M254.20,283.30L256.80,280.70" stroke="#cf9a45" stroke-width="1.15"/>
<path d="M253.70,289.95L256.30,292.55M253.70,292.55L256.30,289.95" stroke="#cf9a45" stroke-width="1.15"/>
<path d="M246.70,301.20L249.30,303.80M246.70,303.80L249.30,301.20" stroke="#cf9a45" stroke-width="1.15"/>
<path d="M261.20,273.70L263.80,276.30M261.20,276.30L263.80,273.70" stroke="#cf9a45" stroke-width="1.15"/>
<path d="M267.45,284.20L270.05,286.80M267.45,286.80L270.05,284.20" stroke="#cf9a45" stroke-width="1.15"/>
<path d="M261.70,273.70L264.30,276.30M261.70,276.30L264.30,273.70" stroke="#cf9a45" stroke-width="1.15"/>
<path d="M269.45,276.20L272.05,278.80M269.45,278.80L272.05,276.20" stroke="#cf9a45" stroke-width="1.15"/>
<path d="M268.20,284.95L270.80,287.55M268.20,287.55L270.80,284.95" stroke="#cf9a45" stroke-width="1.15"/>
<path d="M286.70,246.70L289.30,249.30M286.70,249.30L289.30,246.70" stroke="#cf9a45" stroke-width="1.15"/>
<path d="M281.70,270.70L284.30,273.30M281.70,273.30L284.30,270.70" stroke="#cf9a45" stroke-width="1.15"/>
<path d="M285.45,269.20L288.05,271.80M285.45,271.80L288.05,269.20" stroke="#cf9a45" stroke-width="1.15"/>
<path d="M293.20,263.70L295.80,266.30M293.20,266.30L295.80,263.70" stroke="#cf9a45" stroke-width="1.15"/>
<path d="M282.95,282.45L285.55,285.05M282.95,285.05L285.55,282.45" stroke="#cf9a45" stroke-width="1.15"/>
<path d="M296.20,275.45L298.80,278.05M296.20,278.05L298.80,275.45" stroke="#cf9a45" stroke-width="1.15"/>
<path d="M298.70,276.95L301.30,279.55M298.70,279.55L301.30,276.95" stroke="#cf9a45" stroke-width="1.15"/>
<path d="M343.20,264.20L345.80,266.80M343.20,266.80L345.80,264.20" stroke="#cf9a45" stroke-width="1.15"/>
<path d="M342.70,272.45L345.30,275.05M342.70,275.05L345.30,272.45" stroke="#cf9a45" stroke-width="1.15"/>
<path d="M342.70,274.20L345.30,276.80M342.70,276.80L345.30,274.20" stroke="#cf9a45" stroke-width="1.15"/>
<path d="M344.20,285.70L346.80,288.30M344.20,288.30L346.80,285.70" stroke="#cf9a45" stroke-width="1.15"/>
<path d="M351.95,262.45L354.55,265.05M351.95,265.05L354.55,262.45" stroke="#cf9a45" stroke-width="1.15"/>
<path d="M351.95,277.45L354.55,280.05M351.95,280.05L354.55,277.45" stroke="#cf9a45" stroke-width="1.15"/>
<path d="M360.70,272.45L363.30,275.05M360.70,275.05L363.30,272.45" stroke="#cf9a45" stroke-width="1.15"/>
<path d="M364.95,289.20L367.55,291.80M364.95,291.80L367.55,289.20" stroke="#cf9a45" stroke-width="1.15"/>
<path d="M371.70,280.70L374.30,283.30M371.70,283.30L374.30,280.70" stroke="#cf9a45" stroke-width="1.15"/>
<path d="M373.70,281.20L376.30,283.80M373.70,283.80L376.30,281.20" stroke="#cf9a45" stroke-width="1.15"/>
<path d="M389.10,275.90L391.70,278.50M389.10,278.50L391.70,275.90" stroke="#cf9a45" stroke-width="1.15"/>
<path d="M394.40,279.90L397.00,282.50M394.40,282.50L397.00,279.90" stroke="#cf9a45" stroke-width="1.15"/>
<path d="M402.50,293.20L405.10,295.80M402.50,295.80L405.10,293.20" stroke="#cf9a45" stroke-width="1.15"/>
<path d="M435.70,255.60L438.30,258.20M435.70,258.20L438.30,255.60" stroke="#cf9a45" stroke-width="1.15"/>
<path d="M433.60,267.20L436.20,269.80M433.60,269.80L436.20,267.20" stroke="#cf9a45" stroke-width="1.15"/>
<path d="M441.50,263.70L444.10,266.30M441.50,266.30L444.10,263.70" stroke="#cf9a45" stroke-width="1.15"/>
<path d="M436.90,281.00L439.50,283.60M436.90,283.60L439.50,281.00" stroke="#cf9a45" stroke-width="1.15"/>
<path d="M433.60,285.60L436.20,288.20M433.60,288.20L436.20,285.60" stroke="#cf9a45" stroke-width="1.15"/>
<path d="M439.90,285.60L442.50,288.20M439.90,288.20L442.50,285.60" stroke="#cf9a45" stroke-width="1.15"/>
<path d="M451.60,266.50L454.20,269.10M451.60,269.10L454.20,266.50" stroke="#cf9a45" stroke-width="1.15"/>
<path d="M456.20,274.80L458.80,277.40M456.20,277.40L458.80,274.80" stroke="#cf9a45" stroke-width="1.15"/>
<path d="M456.00,281.00L458.60,283.60M456.00,283.60L458.60,281.00" stroke="#cf9a45" stroke-width="1.15"/>
<path d="M461.10,279.20L463.70,281.80M461.10,281.80L463.70,279.20" stroke="#cf9a45" stroke-width="1.15"/>
<path d="M468.70,269.90L471.30,272.50M468.70,272.50L471.30,269.90" stroke="#cf9a45" stroke-width="1.15"/>
<path d="M468.70,276.90L471.30,279.50M468.70,279.50L471.30,276.90" stroke="#cf9a45" stroke-width="1.15"/>
<path d="M472.20,274.60L474.80,277.20M472.20,277.20L474.80,274.60" stroke="#cf9a45" stroke-width="1.15"/>
<path d="M475.20,253.80L477.80,256.40M475.20,256.40L477.80,253.80" stroke="#cf9a45" stroke-width="1.15"/>
<path d="M89.25,212.14 L91.25,208.66 L93.25,212.14 Z" fill="#e495a0" stroke="#a83444" stroke-width="0.9"/>
<text x="91.2" y="206.0" font-size="9" text-anchor="middle" fill="#222" stroke="#222" stroke-width="0.25">TP53</text>
<text x="0" y="0" font-size="12.2" font-weight="bold" fill="#111" stroke="#111" stroke-width="0.35" transform="translate(0.9 362.8) scale(0.86 1)">C</text>
<rect x="50.6" y="355.7" width="440.7" height="150.7" fill="none" stroke="#7a7a7a" stroke-width="1.2"/>
<line x1="46.4" y1="506.40" x2="50.6" y2="506.40" stroke="#666" stroke-width="0.9"/>
<line x1="46.4" y1="491.49" x2="50.6" y2="491.49" stroke="#666" stroke-width="0.9"/>
<line x1="46.4" y1="476.58" x2="50.6" y2="476.58" stroke="#666" stroke-width="0.9"/>
<line x1="46.4" y1="461.67" x2="50.6" y2="461.67" stroke="#666" stroke-width="0.9"/>
<line x1="46.4" y1="446.76" x2="50.6" y2="446.76" stroke="#666" stroke-width="0.9"/>
<line x1="46.4" y1="431.85" x2="50.6" y2="431.85" stroke="#666" stroke-width="0.9"/>
<line x1="46.4" y1="416.94" x2="50.6" y2="416.94" stroke="#666" stroke-width="0.9"/>
<line x1="46.4" y1="402.03" x2="50.6" y2="402.03" stroke="#666" stroke-width="0.9"/>
<line x1="46.4" y1="387.12" x2="50.6" y2="387.12" stroke="#666" stroke-width="0.9"/>
<line x1="46.4" y1="372.21" x2="50.6" y2="372.21" stroke="#666" stroke-width="0.9"/>
<line x1="46.4" y1="357.30" x2="50.6" y2="357.30" stroke="#666" stroke-width="0.9"/>
<text x="44.9" y="506.4" font-size="9.4" text-anchor="middle" fill="#222" transform="rotate(-90 44.9 506.4)" stroke="#222" stroke-width="0.15">0</text>
<text x="44.9" y="431.85" font-size="9.4" text-anchor="middle" fill="#222" transform="rotate(-90 44.9 431.85)" stroke="#222" stroke-width="0.15">0.5</text>
<text x="44.9" y="357.3" font-size="9.4" text-anchor="middle" fill="#222" transform="rotate(-90 44.9 357.3)" stroke="#222" stroke-width="0.15">1</text>
<text x="32.0" y="432.75" font-size="9.1" text-anchor="middle" fill="#222" transform="rotate(-90 32.0 432.75)" stroke="#222" stroke-width="0.15">Allele frequency</text>
<line x1="50.6" y1="408.9" x2="491.3" y2="408.9" stroke="#8e8e8e" stroke-width="1.1" stroke-dasharray="3,2.8"/>
<line x1="50.6" y1="457.5" x2="491.3" y2="457.5" stroke="#979797" stroke-width="1.1"/>
<rect x="51.2" y="501.60" width="108.80" height="4.4" fill="#f4a6bf"/>
<circle cx="88" cy="422.5" r="1.3" fill="none" stroke="#43509a" stroke-width="1.45"/>
<circle cx="60" cy="456.75" r="1.3" fill="none" stroke="#43509a" stroke-width="1.45"/>
<circle cx="74.5" cy="453" r="1.3" fill="none" stroke="#43509a" stroke-width="1.45"/>
<circle cx="72" cy="466.75" r="1.3" fill="none" stroke="#43509a" stroke-width="1.45"/>
<circle cx="72" cy="469.25" r="1.3" fill="none" stroke="#43509a" stroke-width="1.45"/>
<circle cx="85" cy="471.75" r="1.3" fill="none" stroke="#43509a" stroke-width="1.45"/>
<circle cx="89.25" cy="450.5" r="1.3" fill="none" stroke="#43509a" stroke-width="1.45"/>
<circle cx="90.75" cy="449.25" r="1.3" fill="none" stroke="#43509a" stroke-width="1.45"/>
<circle cx="88.75" cy="456.25" r="1.3" fill="none" stroke="#43509a" stroke-width="1.45"/>
<circle cx="92" cy="456.25" r="1.3" fill="none" stroke="#43509a" stroke-width="1.45"/>
<circle cx="92.5" cy="454.25" r="1.3" fill="none" stroke="#43509a" stroke-width="1.45"/>
<circle cx="98" cy="464" r="1.3" fill="none" stroke="#43509a" stroke-width="1.45"/>
<circle cx="108" cy="456.25" r="1.3" fill="none" stroke="#43509a" stroke-width="1.45"/>
<circle cx="107.5" cy="466.25" r="1.3" fill="none" stroke="#43509a" stroke-width="1.45"/>
<circle cx="115.75" cy="458.5" r="1.3" fill="none" stroke="#43509a" stroke-width="1.45"/>
<circle cx="134.25" cy="445.25" r="1.3" fill="none" stroke="#43509a" stroke-width="1.45"/>
<circle cx="149" cy="456.75" r="1.3" fill="none" stroke="#43509a" stroke-width="1.45"/>
<path d="M180.70,457.95L183.30,460.55M180.70,460.55L183.30,457.95" stroke="#cf9a45" stroke-width="1.15"/>
<path d="M180.70,478.20L183.30,480.80M180.70,480.80L183.30,478.20" stroke="#cf9a45" stroke-width="1.15"/>
<path d="M194.95,446.70L197.55,449.30M194.95,449.30L197.55,446.70" stroke="#cf9a45" stroke-width="1.15"/>
<path d="M219.45,459.95L222.05,462.55M219.45,462.55L222.05,459.95" stroke="#cf9a45" stroke-width="1.15"/>
<path d="M236.95,443.20L239.55,445.80M236.95,445.80L239.55,443.20" stroke="#cf9a45" stroke-width="1.15"/>
<path d="M236.20,461.20L238.80,463.80M236.20,463.80L238.80,461.20" stroke="#cf9a45" stroke-width="1.15"/>
<path d="M241.20,465.45L243.80,468.05M241.20,468.05L243.80,465.45" stroke="#cf9a45" stroke-width="1.15"/>
<path d="M246.20,460.45L248.80,463.05M246.20,463.05L248.80,460.45" stroke="#cf9a45" stroke-width="1.15"/>
<path d="M257.45,449.95L260.05,452.55M257.45,452.55L260.05,449.95" stroke="#cf9a45" stroke-width="1.15"/>
<path d="M258.70,452.45L261.30,455.05M258.70,455.05L261.30,452.45" stroke="#cf9a45" stroke-width="1.15"/>
<path d="M254.95,460.70L257.55,463.30M254.95,463.30L257.55,460.70" stroke="#cf9a45" stroke-width="1.15"/>
<path d="M284.95,451.20L287.55,453.80M284.95,453.80L287.55,451.20" stroke="#cf9a45" stroke-width="1.15"/>
<path d="M285.70,458.70L288.30,461.30M285.70,461.30L288.30,458.70" stroke="#cf9a45" stroke-width="1.15"/>
<path d="M298.20,438.20L300.80,440.80M298.20,440.80L300.80,438.20" stroke="#cf9a45" stroke-width="1.15"/>
<path d="M298.20,445.70L300.80,448.30M298.20,448.30L300.80,445.70" stroke="#cf9a45" stroke-width="1.15"/>
<path d="M300.70,449.95L303.30,452.55M300.70,452.55L303.30,449.95" stroke="#cf9a45" stroke-width="1.15"/>
<path d="M318.70,456.95L321.30,459.55M318.70,459.55L321.30,456.95" stroke="#cf9a45" stroke-width="1.15"/>
<path d="M306.70,479.45L309.30,482.05M306.70,482.05L309.30,479.45" stroke="#cf9a45" stroke-width="1.15"/>
<path d="M360.70,469.95L363.30,472.55M360.70,472.55L363.30,469.95" stroke="#cf9a45" stroke-width="1.15"/>
<path d="M372.70,468.20L375.30,470.80M372.70,470.80L375.30,468.20" stroke="#cf9a45" stroke-width="1.15"/>
<path d="M391.20,454.95L393.80,457.55M391.20,457.55L393.80,454.95" stroke="#cf9a45" stroke-width="1.15"/>
<path d="M434.10,455.30L436.70,457.90M434.10,457.90L436.70,455.30" stroke="#cf9a45" stroke-width="1.15"/>
<path d="M454.90,456.50L457.50,459.10M454.90,459.10L457.50,456.50" stroke="#cf9a45" stroke-width="1.15"/>
<path d="M477.50,456.00L480.10,458.60M477.50,458.60L480.10,456.00" stroke="#cf9a45" stroke-width="1.15"/>
<path d="M439.40,468.00L442.00,470.60M439.40,470.60L442.00,468.00" stroke="#cf9a45" stroke-width="1.15"/>
<path d="M451.60,480.90L454.20,483.50M451.60,483.50L454.20,480.90" stroke="#cf9a45" stroke-width="1.15"/>
<path d="M89.75,409.14 L91.75,405.66 L93.75,409.14 Z" fill="#e495a0" stroke="#a83444" stroke-width="0.9"/>
<text x="91.6" y="403.3" font-size="9" text-anchor="middle" fill="#222" stroke="#222" stroke-width="0.25">TP53</text>
<path d="M147.50,401.54 L149.50,398.06 L151.50,401.54 Z" fill="#e495a0" stroke="#a83444" stroke-width="0.9"/>
<text x="149.4" y="396.6" font-size="9" text-anchor="middle" fill="#222" stroke="#222" stroke-width="0.25">ALKBH5</text>
<text x="0" y="0" font-size="12.2" font-weight="bold" fill="#111" stroke="#111" stroke-width="0.35" transform="translate(0.9 546.2) scale(0.86 1)">D</text>
<rect x="51.3" y="538.3" width="454.09999999999997" height="152.0" fill="none" stroke="#7a7a7a" stroke-width="1.2"/>
<line x1="47.099999999999994" y1="690.30" x2="51.3" y2="690.30" stroke="#666" stroke-width="0.9"/>
<line x1="47.099999999999994" y1="675.26" x2="51.3" y2="675.26" stroke="#666" stroke-width="0.9"/>
<line x1="47.099999999999994" y1="660.22" x2="51.3" y2="660.22" stroke="#666" stroke-width="0.9"/>
<line x1="47.099999999999994" y1="645.18" x2="51.3" y2="645.18" stroke="#666" stroke-width="0.9"/>
<line x1="47.099999999999994" y1="630.14" x2="51.3" y2="630.14" stroke="#666" stroke-width="0.9"/>
<line x1="47.099999999999994" y1="615.10" x2="51.3" y2="615.10" stroke="#666" stroke-width="0.9"/>
<line x1="47.099999999999994" y1="600.06" x2="51.3" y2="600.06" stroke="#666" stroke-width="0.9"/>
<line x1="47.099999999999994" y1="585.02" x2="51.3" y2="585.02" stroke="#666" stroke-width="0.9"/>
<line x1="47.099999999999994" y1="569.98" x2="51.3" y2="569.98" stroke="#666" stroke-width="0.9"/>
<line x1="47.099999999999994" y1="554.94" x2="51.3" y2="554.94" stroke="#666" stroke-width="0.9"/>
<line x1="47.099999999999994" y1="539.90" x2="51.3" y2="539.90" stroke="#666" stroke-width="0.9"/>
<text x="44.9" y="690.3" font-size="9.4" text-anchor="middle" fill="#222" transform="rotate(-90 44.9 690.3)" stroke="#222" stroke-width="0.15">0</text>
<text x="44.9" y="615.1" font-size="9.4" text-anchor="middle" fill="#222" transform="rotate(-90 44.9 615.1)" stroke="#222" stroke-width="0.15">0.5</text>
<text x="44.9" y="539.9" font-size="9.4" text-anchor="middle" fill="#222" transform="rotate(-90 44.9 539.9)" stroke="#222" stroke-width="0.15">1</text>
<text x="32.0" y="614.3" font-size="9.1" text-anchor="middle" fill="#222" transform="rotate(-90 32.0 614.3)" stroke="#222" stroke-width="0.15">Allele frequency</text>
<rect x="51.9" y="685.50" width="238.60" height="4.4" fill="#f4a6bf"/>
<line x1="51.20" y1="690.3" x2="51.20" y2="694.5" stroke="#666" stroke-width="0.9"/>
<text x="51.2" y="703.9" font-size="9.3" text-anchor="middle" fill="#222" stroke="#222" stroke-width="0.15">0</text>
<line x1="107.49" y1="690.3" x2="107.49" y2="694.5" stroke="#666" stroke-width="0.9"/>
<text x="107.49" y="703.9" font-size="9.3" text-anchor="middle" fill="#222" stroke="#222" stroke-width="0.15">10</text>
<line x1="163.78" y1="690.3" x2="163.78" y2="694.5" stroke="#666" stroke-width="0.9"/>
<text x="163.78" y="703.9" font-size="9.3" text-anchor="middle" fill="#222" stroke="#222" stroke-width="0.15">20</text>
<line x1="220.07" y1="690.3" x2="220.07" y2="694.5" stroke="#666" stroke-width="0.9"/>
<text x="220.07" y="703.9" font-size="9.3" text-anchor="middle" fill="#222" stroke="#222" stroke-width="0.15">30</text>
<line x1="276.36" y1="690.3" x2="276.36" y2="694.5" stroke="#666" stroke-width="0.9"/>
<text x="276.36" y="703.9" font-size="9.3" text-anchor="middle" fill="#222" stroke="#222" stroke-width="0.15">40</text>
<line x1="332.65" y1="690.3" x2="332.65" y2="694.5" stroke="#666" stroke-width="0.9"/>
<text x="332.65" y="703.9" font-size="9.3" text-anchor="middle" fill="#222" stroke="#222" stroke-width="0.15">50</text>
<line x1="388.94" y1="690.3" x2="388.94" y2="694.5" stroke="#666" stroke-width="0.9"/>
<text x="388.94" y="703.9" font-size="9.3" text-anchor="middle" fill="#222" stroke="#222" stroke-width="0.15">60</text>
<line x1="445.23" y1="690.3" x2="445.23" y2="694.5" stroke="#666" stroke-width="0.9"/>
<text x="445.23" y="703.9" font-size="9.3" text-anchor="middle" fill="#222" stroke="#222" stroke-width="0.15">70</text>
<line x1="501.52" y1="690.3" x2="501.52" y2="694.5" stroke="#666" stroke-width="0.9"/>
<text x="501.52" y="703.9" font-size="9.3" text-anchor="middle" fill="#222" stroke="#222" stroke-width="0.15">80</text>
<text x="276.5" y="715.8" font-size="9" text-anchor="middle" fill="#222" stroke="#222" stroke-width="0.15">Position (MB)</text>
<circle cx="52" cy="619.25" r="1.3" fill="none" stroke="#43509a" stroke-width="1.45"/>
<circle cx="90" cy="616.75" r="1.3" fill="none" stroke="#43509a" stroke-width="1.45"/>
<circle cx="98" cy="641.5" r="1.3" fill="none" stroke="#43509a" stroke-width="1.45"/>
<circle cx="108" cy="625.5" r="1.3" fill="none" stroke="#43509a" stroke-width="1.45"/>
<circle cx="107.5" cy="630" r="1.3" fill="none" stroke="#43509a" stroke-width="1.45"/>
<circle cx="110.5" cy="630.75" r="1.3" fill="none" stroke="#43509a" stroke-width="1.45"/>
<circle cx="111.25" cy="618.25" r="1.3" fill="none" stroke="#43509a" stroke-width="1.45"/>
<circle cx="115.75" cy="644.5" r="1.3" fill="none" stroke="#43509a" stroke-width="1.45"/>
<circle cx="122.5" cy="635" r="1.3" fill="none" stroke="#43509a" stroke-width="1.45"/>
<circle cx="128" cy="627" r="1.3" fill="none" stroke="#43509a" stroke-width="1.45"/>
<circle cx="133" cy="623.25" r="1.3" fill="none" stroke="#43509a" stroke-width="1.45"/>
<circle cx="129.5" cy="654.25" r="1.3" fill="none" stroke="#43509a" stroke-width="1.45"/>
<circle cx="145.5" cy="630.75" r="1.3" fill="none" stroke="#43509a" stroke-width="1.45"/>
<circle cx="188.6" cy="634.1" r="1.3" fill="none" stroke="#43509a" stroke-width="1.45"/>
<circle cx="186.6" cy="641.5" r="1.3" fill="none" stroke="#43509a" stroke-width="1.45"/>
<circle cx="211.3" cy="635.5" r="1.3" fill="none" stroke="#43509a" stroke-width="1.45"/>
<circle cx="246.9" cy="627.1" r="1.3" fill="none" stroke="#43509a" stroke-width="1.45"/>
<circle cx="279.2" cy="627.1" r="1.3" fill="none" stroke="#43509a" stroke-width="1.45"/>
<circle cx="273.9" cy="663.7" r="1.3" fill="none" stroke="#43509a" stroke-width="1.45"/>
<path d="M327.1,609L330.9,609M329,607.1L329,610.9" stroke="#64b09c" stroke-width="1"/>
<path d="M307.5,623L311.29999999999995,623M309.4,621.1L309.4,624.9" stroke="#64b09c" stroke-width="1"/>
<path d="M313.70000000000005,623.9L317.5,623.9M315.6,622.0L315.6,625.8" stroke="#64b09c" stroke-width="1"/>
<path d="M315.0,638.1L318.79999999999995,638.1M316.9,636.2L316.9,640.0" stroke="#64b09c" stroke-width="1"/>
<path d="M327.1,640.8L330.9,640.8M329,638.9L329,642.6999999999999" stroke="#64b09c" stroke-width="1"/>
<path d="M336.6,641.4L340.4,641.4M338.5,639.5L338.5,643.3" stroke="#64b09c" stroke-width="1"/>
<path d="M411.20000000000005,600.5L415.0,600.5M413.1,598.6L413.1,602.4" stroke="#64b09c" stroke-width="1"/>
<path d="M421.0,606.4L424.79999999999995,606.4M422.9,604.5L422.9,608.3" stroke="#64b09c" stroke-width="1"/>
<path d="M405.90000000000003,620.2L409.7,620.2M407.8,618.3000000000001L407.8,622.1" stroke="#64b09c" stroke-width="1"/>
<path d="M412.1,618.7L415.9,618.7M414,616.8000000000001L414,620.6" stroke="#64b09c" stroke-width="1"/>
<path d="M365.6,643.3L369.4,643.3M367.5,641.4L367.5,645.1999999999999" stroke="#64b09c" stroke-width="1"/>
<path d="M363.5,651.3L367.29999999999995,651.3M365.4,649.4L365.4,653.1999999999999" stroke="#64b09c" stroke-width="1"/>
<path d="M362.90000000000003,662.1L366.7,662.1M364.8,660.2L364.8,664.0" stroke="#64b09c" stroke-width="1"/>
<path d="M400.40000000000003,651L404.2,651M402.3,649.1L402.3,652.9" stroke="#64b09c" stroke-width="1"/>
<path d="M410.3,655L414.09999999999997,655M412.2,653.1L412.2,656.9" stroke="#64b09c" stroke-width="1"/>
<path d="M474.90000000000003,600.2L478.7,600.2M476.8,598.3000000000001L476.8,602.1" stroke="#64b09c" stroke-width="1"/>
<path d="M482.6,601.5L486.4,601.5M484.5,599.6L484.5,603.4" stroke="#64b09c" stroke-width="1"/>
<path d="M470.3,647.9L474.09999999999997,647.9M472.2,646.0L472.2,649.8" stroke="#64b09c" stroke-width="1"/>
<path d="M71.10,560.94 L73.10,557.46 L75.10,560.94 Z" fill="#e495a0" stroke="#a83444" stroke-width="0.9"/>
<text x="77.6" y="555.8" font-size="9" text-anchor="middle" fill="#222" stroke="#222" stroke-width="0.25">Non–coding</text>
<path d="M91.60,582.74 L93.60,579.26 L95.60,582.74 Z" fill="#e495a0" stroke="#a83444" stroke-width="0.9"/>
<text x="94.1" y="577.0" font-size="9" text-anchor="middle" fill="#222" stroke="#222" stroke-width="0.25">TP53</text>
<path d="M155.50,571.54 L157.50,568.06 L159.50,571.54 Z" fill="#e495a0" stroke="#a83444" stroke-width="0.9"/>
<text x="157.5" y="565.2" font-size="9" text-anchor="middle" fill="#222" stroke="#222" stroke-width="0.25">Non–coding</text>
<line x1="64.8" y1="747.1" x2="81.8" y2="747.1" stroke="#f2a4bc" stroke-width="2.6"/>
<text x="86.8" y="750.6" font-size="9.25" text-anchor="start" fill="#222" stroke="#222" stroke-width="0.18">CNLOH region</text>
<circle cx="73.8" cy="758.4" r="1.35" class="s16"/>
<text x="86.8" y="761.5" font-size="9.25" text-anchor="start" fill="#222" stroke="#222" stroke-width="0.18">Single nucleotide polymorphism</text>
<path d="M71.1,771.6 L73.9,766.9 L76.7,771.6 Z" fill="#fbe4e4" stroke="#c04050" stroke-width="1.1" stroke-linejoin="round"/>
<text x="86.8" y="772.4" font-size="9.25" text-anchor="start" fill="#222" stroke="#222" stroke-width="0.18">Homozygous mutation, CNLOH region</text>
<circle cx="73.8" cy="780.3" r="1.5" fill="none" stroke="#43509a" stroke-width="1.45"/>
<text x="86.8" y="783.4" font-size="9.25" text-anchor="start" fill="#222" stroke="#222" stroke-width="0.18">Heterozygous mutation, CNLOH region</text>
<path d="M72.20,789.40L75.40,792.60M72.20,792.60L75.40,789.40" stroke="#cf9a45" stroke-width="1.15"/>
<text x="86.8" y="794.0" font-size="9.25" text-anchor="start" fill="#222" stroke="#222" stroke-width="0.18">Heterozygous mutation, non–CNLOH region</text>
<path d="M283.5,747.3L289.7,747.3M286.6,744.2L286.6,750.4" stroke="#88ccbc" stroke-width="0.9"/>
<text x="300" y="750.6" font-size="9.25" text-anchor="start" fill="#222" stroke="#222" stroke-width="0.18">Nonheterozgous mutation, non–CNLOH region</text>
<line x1="280" y1="759.4" x2="294" y2="759.4" stroke="#555" stroke-width="0.9" stroke-dasharray="3.2,2.5"/>
<text x="300" y="761.8" font-size="9.25" text-anchor="start" fill="#222" stroke="#222" stroke-width="0.18">Estimated homozygous allele frequency</text>
<line x1="280" y1="768.7" x2="294" y2="768.7" stroke="#555" stroke-width="0.9"/>
<text x="300" y="772.6" font-size="9.25" text-anchor="start" fill="#222" stroke="#222" stroke-width="0.18">Estimated heterozygous allele frequency</text>
<path d="M283.5,777.7 L290.3,777.7 L286.9,783.6 Z" fill="#111"/>
<text x="300" y="783.8" font-size="9.25" text-anchor="start" fill="#222" stroke="#222" stroke-width="0.18">Centromere</text>
</svg>
</body></html>
